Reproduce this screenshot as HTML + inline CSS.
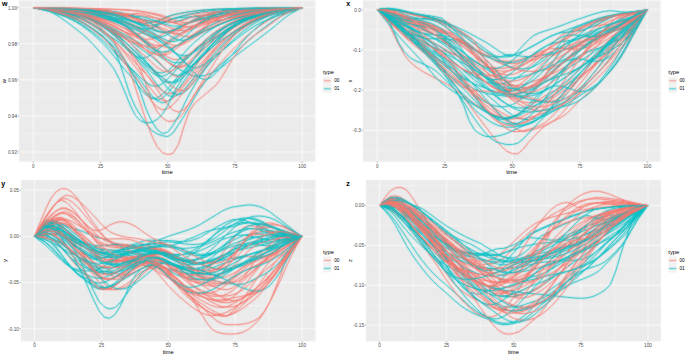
<!DOCTYPE html>
<html><head><meta charset="utf-8"><style>
html,body{margin:0;padding:0;background:#fff;width:685px;height:355px;overflow:hidden}
svg{display:block}
</style></head><body>
<svg width="685" height="355" viewBox="0 0 685 355">
<defs><filter id="bl" x="0" y="0" width="1" height="1" color-interpolation-filters="sRGB"><feConvolveMatrix order="3" kernelMatrix="1 2 1 2 14 2 1 2 1" divisor="26" edgeMode="duplicate" preserveAlpha="true"/></filter></defs>
<g filter="url(#bl)">
<rect width="685" height="355" fill="#fff"/>
<rect x="19.0" y="0.5" width="296.40" height="161.20" fill="#EBEBEB"/>
<line x1="19.0" x2="315.4" y1="25.73" y2="25.73" stroke="#fff" stroke-width="0.4"/>
<line x1="19.0" x2="315.4" y1="61.78" y2="61.78" stroke="#fff" stroke-width="0.4"/>
<line x1="19.0" x2="315.4" y1="97.83" y2="97.83" stroke="#fff" stroke-width="0.4"/>
<line x1="19.0" x2="315.4" y1="133.87" y2="133.87" stroke="#fff" stroke-width="0.4"/>
<line x1="66.91" x2="66.91" y1="0.5" y2="161.7" stroke="#fff" stroke-width="0.4"/>
<line x1="134.14" x2="134.14" y1="0.5" y2="161.7" stroke="#fff" stroke-width="0.4"/>
<line x1="201.36" x2="201.36" y1="0.5" y2="161.7" stroke="#fff" stroke-width="0.4"/>
<line x1="268.59" x2="268.59" y1="0.5" y2="161.7" stroke="#fff" stroke-width="0.4"/>
<line x1="19.0" x2="315.4" y1="7.70" y2="7.70" stroke="#fff" stroke-width="0.75"/>
<line x1="19.0" x2="315.4" y1="43.75" y2="43.75" stroke="#fff" stroke-width="0.75"/>
<line x1="19.0" x2="315.4" y1="79.80" y2="79.80" stroke="#fff" stroke-width="0.75"/>
<line x1="19.0" x2="315.4" y1="115.85" y2="115.85" stroke="#fff" stroke-width="0.75"/>
<line x1="19.0" x2="315.4" y1="151.90" y2="151.90" stroke="#fff" stroke-width="0.75"/>
<line x1="33.30" x2="33.30" y1="0.5" y2="161.7" stroke="#fff" stroke-width="0.75"/>
<line x1="100.52" x2="100.52" y1="0.5" y2="161.7" stroke="#fff" stroke-width="0.75"/>
<line x1="167.75" x2="167.75" y1="0.5" y2="161.7" stroke="#fff" stroke-width="0.75"/>
<line x1="234.98" x2="234.98" y1="0.5" y2="161.7" stroke="#fff" stroke-width="0.75"/>
<line x1="302.20" x2="302.20" y1="0.5" y2="161.7" stroke="#fff" stroke-width="0.75"/>
<g fill="none" stroke-width="1.0" stroke-linejoin="round">
<path d="M33.3,7.7 38.7,8.1 44.1,8.5 49.4,9.0 54.8,9.5 60.2,10.3 65.6,11.1 70.9,12.1 76.3,13.2 81.7,14.6 87.1,16.2 92.5,18.0 97.8,20.0 103.2,22.1 108.6,24.4 114.0,26.9 119.3,29.6 124.7,32.3 130.1,34.8 135.5,37.0 140.9,39.2 146.2,41.8 151.6,44.1 157.0,45.5 162.4,45.4 167.8,43.6 173.1,40.5 178.5,36.8 183.9,33.2 189.3,30.3 194.6,28.2 200.0,26.2 205.4,24.3 210.8,22.6 216.2,21.1 221.5,19.9 226.9,18.7 232.3,17.6 237.7,16.6 243.0,15.5 248.4,14.5 253.8,13.6 259.2,12.7 264.6,12.0 269.9,11.2 275.3,10.5 280.7,9.8 286.1,9.2 291.4,8.7 296.8,8.2 302.2,7.7" stroke="#F8766D"/>
<path d="M33.3,7.7 38.7,8.5 44.1,9.2 49.4,9.9 54.8,10.6 60.2,11.5 65.6,12.5 70.9,13.6 76.3,14.7 81.7,16.0 87.1,17.4 92.5,19.2 97.8,21.4 103.2,23.8 108.6,26.6 114.0,29.8 119.3,33.5 124.7,37.8 130.1,42.9 135.5,48.7 140.9,55.0 146.2,61.4 151.6,67.5 157.0,74.3 162.4,81.6 167.8,88.3 173.1,93.1 178.5,94.8 183.9,92.7 189.3,87.7 194.6,81.0 200.0,73.9 205.4,67.5 210.8,61.1 216.2,54.4 221.5,47.9 226.9,41.9 232.3,36.9 237.7,32.4 243.0,28.5 248.4,25.0 253.8,21.8 259.2,19.2 264.6,17.0 269.9,15.1 275.3,13.5 280.7,11.9 286.1,10.7 291.4,9.7 296.8,8.7 302.2,7.7" stroke="#00BFC4"/>
<path d="M33.3,7.7 38.7,8.7 44.1,9.6 49.4,10.6 54.8,11.8 60.2,13.4 65.6,15.1 70.9,16.9 76.3,19.1 81.7,21.6 87.1,24.8 92.5,28.3 97.8,32.2 103.2,36.5 108.6,41.4 114.0,46.9 119.3,53.4 124.7,60.4 130.1,67.5 135.5,74.3 140.9,80.9 146.2,88.4 151.6,95.4 157.0,100.7 162.4,103.0 167.8,101.3 173.1,96.2 178.5,89.1 183.9,81.1 189.3,73.5 194.6,66.8 200.0,59.8 205.4,52.9 210.8,46.5 216.2,40.9 221.5,36.1 226.9,32.1 232.3,28.5 237.7,25.3 243.0,22.5 248.4,20.1 253.8,18.0 259.2,16.3 264.6,14.8 269.9,13.4 275.3,12.1 280.7,11.0 286.1,10.1 291.4,9.3 296.8,8.5 302.2,7.7" stroke="#00BFC4"/>
<path d="M33.3,7.7 38.7,8.5 44.1,9.2 49.4,9.8 54.8,10.4 60.2,11.1 65.6,11.8 70.9,12.7 76.3,13.8 81.7,15.1 87.1,16.7 92.5,18.7 97.8,20.9 103.2,23.3 108.6,25.9 114.0,28.7 119.3,31.6 124.7,34.6 130.1,37.7 135.5,40.7 140.9,43.8 146.2,47.0 151.6,50.7 157.0,54.5 162.4,58.3 167.8,61.8 173.1,65.2 178.5,68.7 183.9,72.0 189.3,74.6 194.6,76.2 200.0,76.4 205.4,75.3 210.8,73.3 216.2,70.8 221.5,67.4 226.9,63.1 232.3,58.5 237.7,54.3 243.0,50.3 248.4,46.3 253.8,42.3 259.2,38.3 264.6,34.2 269.9,30.1 275.3,25.7 280.7,21.2 286.1,16.9 291.4,13.2 296.8,10.4 302.2,7.7" stroke="#00BFC4"/>
<path d="M33.3,7.7 38.7,8.0 44.1,8.2 49.4,8.4 54.8,8.7 60.2,9.0 65.6,9.3 70.9,9.7 76.3,10.2 81.7,10.8 87.1,11.5 92.5,12.5 97.8,13.8 103.2,15.3 108.6,17.1 114.0,19.3 119.3,21.9 124.7,25.0 130.1,28.6 135.5,32.4 140.9,36.5 146.2,40.4 151.6,44.3 157.0,48.7 162.4,53.3 167.8,57.1 173.1,59.4 178.5,59.6 183.9,57.5 189.3,54.1 194.6,50.0 200.0,46.2 205.4,43.2 210.8,39.9 216.2,36.5 221.5,33.1 226.9,29.8 232.3,26.9 237.7,24.2 243.0,21.7 248.4,19.3 253.8,17.1 259.2,15.2 264.6,13.6 269.9,12.3 275.3,11.1 280.7,10.1 286.1,9.3 291.4,8.7 296.8,8.2 302.2,7.7" stroke="#F8766D"/>
<path d="M33.3,7.7 38.7,7.9 44.1,8.0 49.4,8.2 54.8,8.4 60.2,8.7 65.6,9.0 70.9,9.4 76.3,10.0 81.7,10.6 87.1,11.5 92.5,12.6 97.8,14.0 103.2,15.8 108.6,18.0 114.0,20.5 119.3,23.2 124.7,26.4 130.1,30.4 135.5,34.5 140.9,37.7 146.2,39.4 151.6,39.0 157.0,37.1 162.4,34.4 167.8,31.7 173.1,29.5 178.5,27.5 183.9,25.4 189.3,23.3 194.6,21.3 200.0,19.5 205.4,18.0 210.8,16.6 216.2,15.3 221.5,14.2 226.9,13.3 232.3,12.4 237.7,11.6 243.0,11.0 248.4,10.5 253.8,10.0 259.2,9.7 264.6,9.3 269.9,9.0 275.3,8.7 280.7,8.5 286.1,8.3 291.4,8.1 296.8,7.9 302.2,7.7" stroke="#F8766D"/>
<path d="M33.3,7.7 38.7,8.2 44.1,8.6 49.4,9.1 54.8,9.9 60.2,11.3 65.6,13.4 70.9,15.9 76.3,18.8 81.7,22.1 87.1,25.7 92.5,29.2 97.8,32.4 103.2,36.3 108.6,41.6 114.0,49.2 119.3,61.6 124.7,78.3 130.1,95.0 135.5,107.3 140.9,115.9 146.2,123.9 151.6,130.3 157.0,133.8 162.4,135.7 167.8,136.6 173.1,132.9 178.5,124.6 183.9,116.2 189.3,107.3 194.6,97.6 200.0,88.8 205.4,81.5 210.8,74.9 216.2,69.0 221.5,63.9 226.9,59.4 232.3,55.0 237.7,50.4 243.0,45.6 248.4,40.8 253.8,36.0 259.2,31.5 264.6,27.3 269.9,23.3 275.3,19.7 280.7,16.4 286.1,13.6 291.4,11.4 296.8,9.6 302.2,7.7" stroke="#00BFC4"/>
<path d="M33.3,7.7 38.7,8.9 44.1,10.1 49.4,11.3 54.8,12.9 60.2,14.9 65.6,16.9 70.9,19.3 76.3,22.1 81.7,25.6 87.1,29.4 92.5,33.7 97.8,38.4 103.2,43.6 108.6,49.5 114.0,56.2 119.3,63.0 124.7,69.6 130.1,75.5 135.5,82.3 140.9,89.2 146.2,95.0 151.6,98.3 157.0,98.0 162.4,94.5 167.8,88.8 173.1,82.2 178.5,75.9 183.9,70.4 189.3,64.5 194.6,58.5 200.0,52.5 205.4,47.0 210.8,42.1 216.2,37.8 221.5,33.9 226.9,30.3 232.3,27.0 237.7,24.0 243.0,21.4 248.4,19.2 253.8,17.3 259.2,15.6 264.6,14.2 269.9,12.8 275.3,11.6 280.7,10.6 286.1,9.8 291.4,9.1 296.8,8.4 302.2,7.7" stroke="#00BFC4"/>
<path d="M33.3,7.7 38.7,8.5 44.1,9.1 49.4,9.8 54.8,10.6 60.2,11.5 65.6,12.6 70.9,13.8 76.3,15.1 81.7,16.7 87.1,18.6 92.5,21.0 97.8,23.7 103.2,26.8 108.6,30.3 114.0,34.4 119.3,39.0 124.7,44.5 130.1,50.7 135.5,57.2 140.9,63.7 146.2,69.9 151.6,77.0 157.0,84.4 162.4,90.9 167.8,95.5 173.1,96.8 178.5,94.6 183.9,89.8 189.3,83.4 194.6,76.8 200.0,71.0 205.4,64.8 210.8,58.2 216.2,51.6 221.5,45.5 226.9,40.2 232.3,35.4 237.7,31.1 243.0,27.2 248.4,23.8 253.8,20.7 259.2,18.3 264.6,16.2 269.9,14.4 275.3,12.9 280.7,11.5 286.1,10.4 291.4,9.5 296.8,8.6 302.2,7.7" stroke="#00BFC4"/>
<path d="M33.3,7.7 38.7,8.3 44.1,8.7 49.4,9.1 54.8,9.5 60.2,10.1 65.6,11.0 70.9,12.3 76.3,14.0 81.7,16.0 87.1,18.2 92.5,20.6 97.8,23.4 103.2,26.7 108.6,30.4 114.0,34.7 119.3,39.9 124.7,46.1 130.1,53.4 135.5,61.6 140.9,70.8 146.2,84.5 151.6,100.6 157.0,111.4 162.4,118.0 167.8,121.3 173.1,121.3 178.5,118.3 183.9,112.4 189.3,103.1 194.6,94.2 200.0,87.2 205.4,80.5 210.8,74.0 216.2,67.8 221.5,61.8 226.9,55.9 232.3,50.1 237.7,44.6 243.0,39.5 248.4,34.7 253.8,30.4 259.2,26.4 264.6,22.8 269.9,19.6 275.3,16.7 280.7,14.3 286.1,12.5 291.4,10.9 296.8,9.4 302.2,7.7" stroke="#F8766D"/>
<path d="M33.3,7.7 38.7,8.3 44.1,8.9 49.4,9.5 54.8,10.2 60.2,11.2 65.6,12.3 70.9,13.5 76.3,15.0 81.7,16.7 87.1,18.7 92.5,21.0 97.8,23.4 103.2,26.0 108.6,28.8 114.0,31.8 119.3,35.1 124.7,38.4 130.1,41.5 135.5,44.3 140.9,46.8 146.2,49.8 151.6,52.7 157.0,54.9 162.4,55.5 167.8,54.1 173.1,51.0 178.5,46.9 183.9,42.6 189.3,38.8 194.6,35.8 200.0,32.9 205.4,30.1 210.8,27.5 216.2,25.1 221.5,23.0 226.9,21.1 232.3,19.4 237.7,17.9 243.0,16.4 248.4,15.1 253.8,13.9 259.2,12.9 264.6,12.0 269.9,11.2 275.3,10.4 280.7,9.8 286.1,9.2 291.4,8.7 296.8,8.3 302.2,7.7" stroke="#F8766D"/>
<path d="M33.3,7.7 38.7,8.1 44.1,8.4 49.4,8.9 54.8,9.4 60.2,10.0 65.6,10.8 70.9,11.6 76.3,12.6 81.7,13.6 87.1,14.8 92.5,16.2 97.8,17.8 103.2,19.5 108.6,21.4 114.0,23.5 119.3,25.8 124.7,28.4 130.1,31.5 135.5,35.1 140.9,39.0 146.2,43.1 151.6,47.1 157.0,51.7 162.4,57.0 167.8,62.1 173.1,66.1 178.5,67.9 183.9,66.8 189.3,63.3 194.6,58.3 200.0,52.8 205.4,47.9 210.8,43.1 216.2,38.2 221.5,33.4 226.9,29.0 232.3,25.4 237.7,22.3 243.0,19.7 248.4,17.5 253.8,15.6 259.2,14.0 264.6,12.7 269.9,11.7 275.3,10.9 280.7,10.0 286.1,9.4 291.4,8.8 296.8,8.3 302.2,7.7" stroke="#F8766D"/>
<path d="M33.3,7.7 38.7,8.8 44.1,9.7 49.4,10.8 54.8,12.1 60.2,13.7 65.6,15.4 70.9,17.4 76.3,19.7 81.7,22.5 87.1,25.7 92.5,29.3 97.8,33.4 103.2,37.9 108.6,43.2 114.0,49.4 119.3,56.2 124.7,63.2 130.1,69.9 135.5,77.0 140.9,85.0 146.2,92.3 151.6,97.8 157.0,100.0 162.4,98.2 167.8,93.2 173.1,86.4 178.5,79.0 183.9,72.1 189.3,65.3 194.6,58.2 200.0,51.2 205.4,44.7 210.8,39.0 216.2,34.2 221.5,30.0 226.9,26.4 232.3,23.3 237.7,20.7 243.0,18.4 248.4,16.6 253.8,15.1 259.2,13.8 264.6,12.8 269.9,11.8 275.3,10.8 280.7,10.1 286.1,9.5 291.4,8.9 296.8,8.3 302.2,7.7" stroke="#00BFC4"/>
<path d="M33.3,7.7 38.7,8.1 44.1,8.4 49.4,8.8 54.8,9.4 60.2,10.1 65.6,10.8 70.9,11.7 76.3,12.9 81.7,14.1 87.1,15.5 92.5,17.1 97.8,19.1 103.2,21.2 108.6,23.4 114.0,25.6 119.3,28.5 124.7,31.6 130.1,33.9 135.5,34.7 140.9,33.3 146.2,30.6 151.6,27.3 157.0,24.3 162.4,22.1 167.8,20.3 173.1,18.6 178.5,17.2 183.9,15.9 189.3,14.8 194.6,14.0 200.0,13.2 205.4,12.6 210.8,12.1 216.2,11.6 221.5,11.1 226.9,10.7 232.3,10.3 237.7,10.0 243.0,9.7 248.4,9.4 253.8,9.2 259.2,8.9 264.6,8.7 269.9,8.5 275.3,8.3 280.7,8.2 286.1,8.1 291.4,7.9 296.8,7.8 302.2,7.7" stroke="#F8766D"/>
<path d="M33.3,7.7 38.7,8.0 44.1,8.2 49.4,8.5 54.8,9.0 60.2,9.5 65.6,10.0 70.9,10.7 76.3,11.4 81.7,12.2 87.1,13.0 92.5,13.8 97.8,14.7 103.2,15.6 108.6,16.6 114.0,17.6 119.3,18.5 124.7,19.4 130.1,20.8 135.5,22.7 140.9,24.4 146.2,25.4 151.6,25.4 157.0,24.2 162.4,22.3 167.8,20.4 173.1,18.8 178.5,17.9 183.9,17.3 189.3,16.8 194.6,16.3 200.0,15.8 205.4,15.3 210.8,14.9 216.2,14.5 221.5,14.0 226.9,13.6 232.3,13.0 237.7,12.5 243.0,11.9 248.4,11.4 253.8,10.9 259.2,10.5 264.6,10.0 269.9,9.6 275.3,9.2 280.7,8.8 286.1,8.5 291.4,8.2 296.8,8.0 302.2,7.7" stroke="#00BFC4"/>
<path d="M33.3,7.7 38.7,8.5 44.1,9.2 49.4,9.9 54.8,10.7 60.2,11.8 65.6,13.1 70.9,14.4 76.3,16.1 81.7,18.1 87.1,20.6 92.5,23.6 97.8,26.9 103.2,30.8 108.6,35.2 114.0,40.3 119.3,46.4 124.7,53.1 130.1,60.2 135.5,67.2 140.9,74.0 146.2,81.9 151.6,89.8 157.0,96.4 162.4,100.6 167.8,101.2 173.1,98.2 178.5,92.8 183.9,86.2 189.3,79.6 194.6,73.7 200.0,67.2 205.4,60.4 210.8,53.6 216.2,47.3 221.5,41.9 226.9,37.0 232.3,32.6 237.7,28.6 243.0,25.0 248.4,21.9 253.8,19.3 259.2,17.1 264.6,15.3 269.9,13.7 275.3,12.2 280.7,11.0 286.1,10.1 291.4,9.3 296.8,8.5 302.2,7.7" stroke="#F8766D"/>
<path d="M33.3,7.7 38.7,8.4 44.1,9.0 49.4,9.5 54.8,10.1 60.2,10.8 65.6,11.5 70.9,12.4 76.3,13.3 81.7,14.1 87.1,15.0 92.5,15.9 97.8,16.9 103.2,18.0 108.6,19.2 114.0,20.4 119.3,21.6 124.7,22.9 130.1,24.4 135.5,26.0 140.9,28.1 146.2,30.6 151.6,33.5 157.0,36.9 162.4,40.6 167.8,44.8 173.1,50.2 178.5,56.3 183.9,62.1 189.3,66.4 194.6,68.0 200.0,66.8 205.4,63.5 210.8,59.3 216.2,55.3 221.5,51.0 226.9,46.0 232.3,40.7 237.7,35.8 243.0,31.4 248.4,27.4 253.8,23.8 259.2,20.5 264.6,17.8 269.9,15.5 275.3,13.7 280.7,12.1 286.1,10.7 291.4,9.6 296.8,8.7 302.2,7.7" stroke="#00BFC4"/>
<path d="M33.3,7.7 38.7,8.0 44.1,8.3 49.4,8.5 54.8,8.9 60.2,9.4 65.6,9.9 70.9,10.5 76.3,11.2 81.7,12.2 87.1,13.3 92.5,14.5 97.8,15.9 103.2,17.5 108.6,19.3 114.0,21.4 119.3,23.6 124.7,25.8 130.1,27.9 135.5,29.9 140.9,32.4 146.2,34.9 151.6,36.9 157.0,37.6 162.4,36.7 167.8,34.4 173.1,31.2 178.5,27.9 183.9,25.0 189.3,23.0 194.6,21.3 200.0,19.8 205.4,18.6 210.8,17.5 216.2,16.6 221.5,15.9 226.9,15.3 232.3,14.7 237.7,14.1 243.0,13.5 248.4,12.9 253.8,12.3 259.2,11.7 264.6,11.2 269.9,10.6 275.3,10.0 280.7,9.5 286.1,9.0 291.4,8.6 296.8,8.2 302.2,7.7" stroke="#00BFC4"/>
<path d="M33.3,7.7 38.7,8.3 44.1,8.9 49.4,9.6 54.8,10.6 60.2,11.8 65.6,13.1 70.9,14.8 76.3,16.7 81.7,19.0 87.1,21.4 92.5,24.2 97.8,27.3 103.2,31.0 108.6,34.9 114.0,38.9 119.3,42.7 124.7,47.3 130.1,52.1 135.5,56.1 140.9,58.2 146.2,57.5 151.6,54.5 157.0,50.4 162.4,46.0 167.8,42.1 173.1,38.6 178.5,35.0 183.9,31.5 189.3,28.2 194.6,25.3 200.0,22.8 205.4,20.6 210.8,18.7 216.2,17.1 221.5,15.7 226.9,14.4 232.3,13.4 237.7,12.5 243.0,11.8 248.4,11.2 253.8,10.7 259.2,10.2 264.6,9.8 269.9,9.4 275.3,9.0 280.7,8.8 286.1,8.5 291.4,8.2 296.8,8.0 302.2,7.7" stroke="#00BFC4"/>
<path d="M33.3,7.7 38.7,8.9 44.1,10.1 49.4,11.3 54.8,12.8 60.2,14.6 65.6,16.5 70.9,18.7 76.3,21.2 81.7,24.4 87.1,28.0 92.5,31.9 97.8,36.3 103.2,41.0 108.6,46.1 114.0,51.9 119.3,57.7 124.7,63.0 130.1,67.7 135.5,72.5 140.9,77.8 146.2,82.5 151.6,85.7 157.0,86.2 162.4,83.7 167.8,79.0 173.1,73.2 178.5,67.2 183.9,61.9 189.3,56.6 194.6,51.0 200.0,45.4 205.4,40.1 210.8,35.4 216.2,31.4 221.5,28.0 226.9,25.1 232.3,22.6 237.7,20.5 243.0,18.7 248.4,17.2 253.8,16.0 259.2,14.9 264.6,13.9 269.9,12.9 275.3,11.8 280.7,11.0 286.1,10.2 291.4,9.4 296.8,8.6 302.2,7.7" stroke="#00BFC4"/>
<path d="M33.3,7.7 38.7,8.0 44.1,8.2 49.4,8.4 54.8,8.6 60.2,8.9 65.6,9.2 70.9,9.5 76.3,9.9 81.7,10.4 87.1,10.9 92.5,11.6 97.8,12.3 103.2,13.1 108.6,14.1 114.0,15.3 119.3,16.6 124.7,18.2 130.1,19.9 135.5,21.6 140.9,23.4 146.2,25.5 151.6,28.1 157.0,30.5 162.4,32.1 167.8,32.4 173.1,31.1 178.5,28.5 183.9,25.3 189.3,22.1 194.6,19.4 200.0,17.2 205.4,15.3 210.8,13.6 216.2,12.2 221.5,11.1 226.9,10.2 232.3,9.5 237.7,9.1 243.0,8.7 248.4,8.5 253.8,8.3 259.2,8.2 264.6,8.1 269.9,8.0 275.3,8.0 280.7,7.9 286.1,7.8 291.4,7.8 296.8,7.7 302.2,7.7" stroke="#00BFC4"/>
<path d="M33.3,7.7 38.7,8.1 44.1,8.4 49.4,8.7 54.8,9.0 60.2,9.4 65.6,10.0 70.9,10.5 76.3,11.1 81.7,11.7 87.1,12.4 92.5,13.3 97.8,14.3 103.2,15.4 108.6,16.6 114.0,17.9 119.3,19.4 124.7,21.2 130.1,23.2 135.5,25.5 140.9,27.9 146.2,30.4 151.6,33.0 157.0,36.4 162.4,40.0 167.8,43.2 173.1,45.2 178.5,45.5 183.9,43.9 189.3,40.9 194.6,37.4 200.0,34.1 205.4,31.3 210.8,28.6 216.2,25.9 221.5,23.2 226.9,20.9 232.3,18.8 237.7,17.1 243.0,15.5 248.4,14.1 253.8,12.9 259.2,11.8 264.6,11.0 269.9,10.3 275.3,9.7 280.7,9.1 286.1,8.7 291.4,8.3 296.8,8.0 302.2,7.7" stroke="#F8766D"/>
<path d="M33.3,7.7 38.7,8.2 44.1,8.7 49.4,9.2 54.8,9.7 60.2,10.4 65.6,11.1 70.9,12.0 76.3,12.8 81.7,13.7 87.1,14.7 92.5,15.8 97.8,17.0 103.2,18.4 108.6,19.7 114.0,21.2 119.3,22.7 124.7,24.4 130.1,26.4 135.5,28.6 140.9,31.1 146.2,33.8 151.6,36.6 157.0,39.5 162.4,43.2 167.8,47.4 173.1,51.5 178.5,54.7 183.9,55.9 189.3,54.7 194.6,51.9 200.0,48.0 205.4,44.0 210.8,40.6 216.2,37.0 221.5,33.1 226.9,29.3 232.3,25.8 237.7,22.8 243.0,20.2 248.4,17.8 253.8,15.7 259.2,13.9 264.6,12.5 269.9,11.4 275.3,10.4 280.7,9.6 286.1,9.0 291.4,8.5 296.8,8.1 302.2,7.7" stroke="#00BFC4"/>
<path d="M33.3,7.7 38.7,7.7 44.1,7.8 49.4,7.8 54.8,7.8 60.2,7.9 65.6,8.0 70.9,8.1 76.3,8.3 81.7,8.5 87.1,8.7 92.5,9.0 97.8,9.5 103.2,10.1 108.6,10.9 114.0,11.8 119.3,12.9 124.7,14.2 130.1,15.7 135.5,17.4 140.9,19.4 146.2,21.6 151.6,23.9 157.0,26.1 162.4,28.2 167.8,30.1 173.1,32.4 178.5,34.7 183.9,36.3 189.3,36.5 194.6,34.7 200.0,31.3 205.4,27.0 210.8,22.8 216.2,19.4 221.5,16.8 226.9,14.6 232.3,12.7 237.7,11.3 243.0,10.3 248.4,9.6 253.8,9.1 259.2,8.8 264.6,8.5 269.9,8.4 275.3,8.3 280.7,8.2 286.1,8.0 291.4,7.9 296.8,7.8 302.2,7.7" stroke="#F8766D"/>
<path d="M33.3,7.7 38.7,7.8 44.1,7.9 49.4,7.9 54.8,8.0 60.2,8.0 65.6,8.1 70.9,8.2 76.3,8.3 81.7,8.4 87.1,8.6 92.5,8.7 97.8,8.9 103.2,9.1 108.6,9.3 114.0,9.5 119.3,9.8 124.7,10.0 130.1,10.4 135.5,10.8 140.9,11.4 146.2,12.2 151.6,13.1 157.0,14.1 162.4,15.5 167.8,17.5 173.1,19.6 178.5,21.5 183.9,22.5 189.3,22.2 194.6,21.6 200.0,20.4 205.4,19.1 210.8,18.2 216.2,17.7 221.5,17.1 226.9,16.3 232.3,15.4 237.7,14.5 243.0,13.6 248.4,12.7 253.8,11.9 259.2,11.0 264.6,10.3 269.9,9.7 275.3,9.2 280.7,8.8 286.1,8.4 291.4,8.1 296.8,7.9 302.2,7.7" stroke="#F8766D"/>
<path d="M33.3,7.7 38.7,8.7 44.1,9.6 49.4,10.6 54.8,11.8 60.2,13.4 65.6,15.2 70.9,17.2 76.3,19.5 81.7,22.3 87.1,25.7 92.5,29.4 97.8,33.5 103.2,38.1 108.6,43.2 114.0,49.1 119.3,55.9 124.7,63.0 130.1,70.2 135.5,77.1 140.9,84.7 146.2,93.1 151.6,101.0 157.0,107.0 162.4,109.8 167.8,108.7 173.1,104.6 178.5,98.5 183.9,91.8 189.3,85.2 194.6,78.0 200.0,70.4 205.4,62.7 210.8,55.5 216.2,49.1 221.5,43.5 226.9,38.5 232.3,34.0 237.7,29.6 243.0,25.6 248.4,22.2 253.8,19.4 259.2,17.1 264.6,15.2 269.9,13.5 275.3,12.0 280.7,10.9 286.1,9.9 291.4,9.2 296.8,8.5 302.2,7.7" stroke="#F8766D"/>
<path d="M33.3,7.7 38.7,8.1 44.1,8.5 49.4,8.9 54.8,9.5 60.2,10.3 65.6,11.3 70.9,12.4 76.3,13.9 81.7,15.6 87.1,17.9 92.5,20.6 97.8,23.6 103.2,27.1 108.6,31.1 114.0,35.5 119.3,40.5 124.7,45.9 130.1,51.2 135.5,56.1 140.9,60.4 146.2,65.1 151.6,69.4 157.0,72.4 162.4,73.0 167.8,70.8 173.1,66.0 178.5,59.8 183.9,53.2 189.3,47.2 194.6,42.2 200.0,37.6 205.4,33.4 210.8,29.6 216.2,26.3 221.5,23.7 226.9,21.6 232.3,19.7 237.7,18.1 243.0,16.7 248.4,15.4 253.8,14.3 259.2,13.3 264.6,12.4 269.9,11.6 275.3,10.8 280.7,10.1 286.1,9.5 291.4,8.9 296.8,8.3 302.2,7.7" stroke="#00BFC4"/>
<path d="M33.3,7.7 38.7,8.3 44.1,8.8 49.4,9.3 54.8,10.1 60.2,11.3 65.6,12.8 70.9,14.6 76.3,16.7 81.7,19.1 87.1,22.1 92.5,25.4 97.8,29.0 103.2,33.1 108.6,37.9 114.0,43.8 119.3,50.9 124.7,59.4 130.1,69.1 135.5,79.8 140.9,93.7 146.2,109.3 151.6,121.2 157.0,129.3 162.4,133.6 167.8,132.1 173.1,125.2 178.5,115.9 183.9,105.0 189.3,94.2 194.6,85.1 200.0,76.5 205.4,68.8 210.8,62.3 216.2,56.6 221.5,51.5 226.9,46.8 232.3,42.3 237.7,38.0 243.0,33.9 248.4,30.1 253.8,26.6 259.2,23.5 264.6,20.9 269.9,18.6 275.3,16.6 280.7,14.7 286.1,13.0 291.4,11.3 296.8,9.5 302.2,7.7" stroke="#00BFC4"/>
<path d="M33.3,7.7 38.7,8.2 44.1,8.7 49.4,9.3 54.8,10.0 60.2,10.9 65.6,11.9 70.9,13.0 76.3,14.3 81.7,15.9 87.1,17.7 92.5,19.7 97.8,21.8 103.2,24.1 108.6,26.6 114.0,29.6 119.3,32.7 124.7,35.9 130.1,38.9 135.5,42.0 140.9,45.9 146.2,49.8 151.6,53.0 157.0,54.7 162.4,54.2 167.8,51.9 173.1,48.3 178.5,44.4 183.9,40.7 189.3,37.7 194.6,34.6 200.0,31.4 205.4,28.3 210.8,25.5 216.2,23.0 221.5,20.9 226.9,18.9 232.3,17.2 237.7,15.7 243.0,14.4 248.4,13.2 253.8,12.2 259.2,11.5 264.6,10.8 269.9,10.2 275.3,9.6 280.7,9.1 286.1,8.8 291.4,8.4 296.8,8.1 302.2,7.7" stroke="#F8766D"/>
<path d="M33.3,7.7 38.7,8.3 44.1,8.9 49.4,9.5 54.8,10.2 60.2,11.0 65.6,12.1 70.9,13.3 76.3,14.7 81.7,16.3 87.1,18.1 92.5,20.3 97.8,22.9 103.2,26.0 108.6,29.4 114.0,33.2 119.3,37.3 124.7,41.8 130.1,46.5 135.5,51.8 140.9,57.6 146.2,63.3 151.6,68.7 157.0,73.4 162.4,77.8 167.8,82.7 173.1,87.2 178.5,90.2 183.9,90.6 189.3,87.6 194.6,81.8 200.0,74.5 205.4,66.9 210.8,60.4 216.2,54.3 221.5,48.1 226.9,42.2 232.3,36.8 237.7,32.3 243.0,28.4 248.4,24.9 253.8,21.8 259.2,19.1 264.6,16.9 269.9,15.0 275.3,13.4 280.7,11.9 286.1,10.7 291.4,9.7 296.8,8.7 302.2,7.7" stroke="#F8766D"/>
<path d="M33.3,7.7 38.7,8.4 44.1,9.0 49.4,9.6 54.8,10.3 60.2,11.2 65.6,12.3 70.9,13.6 76.3,14.9 81.7,16.5 87.1,18.3 92.5,20.4 97.8,22.8 103.2,25.4 108.6,28.1 114.0,30.9 119.3,33.9 124.7,37.2 130.1,40.9 135.5,44.8 140.9,48.8 146.2,52.6 151.6,56.4 157.0,61.2 162.4,66.4 167.8,71.2 173.1,74.6 178.5,75.5 183.9,73.6 189.3,69.7 194.6,64.4 200.0,59.0 205.4,54.1 210.8,48.7 216.2,43.0 221.5,37.4 226.9,32.3 232.3,27.9 237.7,24.1 243.0,20.8 248.4,18.1 253.8,15.8 259.2,13.9 264.6,12.5 269.9,11.5 275.3,10.6 280.7,9.8 286.1,9.2 291.4,8.7 296.8,8.3 302.2,7.7" stroke="#00BFC4"/>
<path d="M33.3,7.7 38.7,8.2 44.1,8.7 49.4,9.2 54.8,9.8 60.2,10.4 65.6,11.2 70.9,12.1 76.3,13.1 81.7,14.2 87.1,15.5 92.5,17.0 97.8,18.9 103.2,20.9 108.6,23.3 114.0,25.9 119.3,28.8 124.7,32.2 130.1,36.2 135.5,40.6 140.9,45.4 146.2,50.3 151.6,55.0 157.0,60.0 162.4,65.7 167.8,71.2 173.1,75.3 178.5,77.1 183.9,75.7 189.3,71.7 194.6,66.1 200.0,60.0 205.4,54.5 210.8,49.1 216.2,43.6 221.5,38.1 226.9,33.1 232.3,28.8 237.7,25.2 243.0,21.9 248.4,19.2 253.8,16.8 259.2,14.8 264.6,13.2 269.9,12.0 275.3,10.9 280.7,10.0 286.1,9.3 291.4,8.7 296.8,8.2 302.2,7.7" stroke="#F8766D"/>
<path d="M33.3,7.7 38.7,8.0 44.1,8.3 49.4,8.5 54.8,8.9 60.2,9.3 65.6,9.8 70.9,10.2 76.3,10.8 81.7,11.4 87.1,12.0 92.5,12.7 97.8,13.2 103.2,13.8 108.6,14.2 114.0,14.7 119.3,15.1 124.7,15.5 130.1,15.8 135.5,16.1 140.9,16.6 146.2,17.7 151.6,19.4 157.0,21.0 162.4,22.3 167.8,22.8 173.1,22.2 178.5,20.9 183.9,19.3 189.3,17.8 194.6,16.7 200.0,15.8 205.4,14.9 210.8,13.8 216.2,12.8 221.5,11.9 226.9,11.1 232.3,10.4 237.7,9.8 243.0,9.3 248.4,8.9 253.8,8.5 259.2,8.3 264.6,8.2 269.9,8.1 275.3,8.0 280.7,7.9 286.1,7.9 291.4,7.8 296.8,7.8 302.2,7.7" stroke="#00BFC4"/>
<path d="M33.3,7.7 38.7,8.4 44.1,9.1 49.4,9.7 54.8,10.5 60.2,11.4 65.6,12.5 70.9,13.8 76.3,15.1 81.7,16.7 87.1,18.6 92.5,20.9 97.8,23.5 103.2,26.5 108.6,29.8 114.0,33.4 119.3,37.4 124.7,41.9 130.1,47.1 135.5,52.5 140.9,57.8 146.2,62.8 151.6,67.4 157.0,72.6 162.4,77.6 167.8,81.3 173.1,82.8 178.5,81.2 183.9,76.6 189.3,70.2 194.6,63.1 200.0,56.5 205.4,50.9 210.8,45.2 216.2,39.8 221.5,34.8 226.9,30.5 232.3,26.9 237.7,23.9 243.0,21.2 248.4,18.9 253.8,16.9 259.2,15.2 264.6,13.9 269.9,12.7 275.3,11.7 280.7,10.6 286.1,9.8 291.4,9.1 296.8,8.5 302.2,7.7" stroke="#00BFC4"/>
<path d="M33.3,7.7 38.7,7.9 44.1,8.1 49.4,8.4 54.8,8.6 60.2,8.8 65.6,9.1 70.9,9.3 76.3,9.5 81.7,9.7 87.1,9.9 92.5,10.2 97.8,10.4 103.2,10.7 108.6,11.1 114.0,11.6 119.3,12.4 124.7,13.4 130.1,14.8 135.5,16.6 140.9,18.7 146.2,21.1 151.6,23.8 157.0,26.8 162.4,30.5 167.8,34.4 173.1,37.8 178.5,40.0 183.9,40.3 189.3,38.9 194.6,36.3 200.0,33.3 205.4,30.6 210.8,28.5 216.2,26.3 221.5,24.0 226.9,21.9 232.3,19.9 237.7,18.2 243.0,16.6 248.4,15.2 253.8,13.8 259.2,12.5 264.6,11.5 269.9,10.7 275.3,9.9 280.7,9.2 286.1,8.7 291.4,8.3 296.8,8.0 302.2,7.7" stroke="#00BFC4"/>
<path d="M33.3,7.7 38.7,7.9 44.1,8.0 49.4,8.2 54.8,8.4 60.2,8.6 65.6,8.9 70.9,9.3 76.3,9.6 81.7,10.0 87.1,10.5 92.5,11.0 97.8,11.6 103.2,12.3 108.6,13.0 114.0,13.8 119.3,14.6 124.7,15.5 130.1,16.6 135.5,17.7 140.9,18.8 146.2,19.8 151.6,20.9 157.0,21.9 162.4,23.5 167.8,25.0 173.1,26.1 178.5,26.2 183.9,25.0 189.3,22.5 194.6,19.4 200.0,16.7 205.4,14.8 210.8,13.5 216.2,12.4 221.5,11.5 226.9,10.6 232.3,9.9 237.7,9.4 243.0,9.0 248.4,8.8 253.8,8.5 259.2,8.3 264.6,8.2 269.9,8.1 275.3,8.1 280.7,8.1 286.1,8.0 291.4,7.9 296.8,7.8 302.2,7.7" stroke="#00BFC4"/>
<path d="M33.3,7.7 38.7,8.0 44.1,8.2 49.4,8.4 54.8,8.7 60.2,9.0 65.6,9.3 70.9,9.5 76.3,9.7 81.7,9.9 87.1,10.0 92.5,10.1 97.8,10.1 103.2,10.6 108.6,11.4 114.0,12.3 119.3,13.4 124.7,14.7 130.1,16.6 135.5,18.9 140.9,21.0 146.2,22.4 151.6,22.4 157.0,21.2 162.4,19.3 167.8,17.1 173.1,15.2 178.5,13.9 183.9,12.9 189.3,12.0 194.6,11.2 200.0,10.5 205.4,10.0 210.8,9.5 216.2,9.2 221.5,8.9 226.9,8.7 232.3,8.6 237.7,8.4 243.0,8.3 248.4,8.2 253.8,8.1 259.2,8.0 264.6,8.0 269.9,7.9 275.3,7.9 280.7,7.8 286.1,7.8 291.4,7.8 296.8,7.7 302.2,7.7" stroke="#F8766D"/>
<path d="M33.3,7.7 38.7,7.8 44.1,7.8 49.4,7.9 54.8,8.0 60.2,8.1 65.6,8.4 70.9,8.8 76.3,9.3 81.7,10.0 87.1,10.7 92.5,11.6 97.8,12.8 103.2,14.2 108.6,15.7 114.0,17.4 119.3,19.2 124.7,21.2 130.1,23.9 135.5,26.5 140.9,28.4 146.2,29.0 151.6,28.0 157.0,25.8 162.4,23.1 167.8,20.5 173.1,18.5 178.5,16.9 183.9,15.5 189.3,14.2 194.6,13.1 200.0,12.1 205.4,11.3 210.8,10.7 216.2,10.1 221.5,9.7 226.9,9.3 232.3,9.0 237.7,8.7 243.0,8.5 248.4,8.3 253.8,8.2 259.2,8.1 264.6,8.0 269.9,8.0 275.3,7.9 280.7,7.9 286.1,7.8 291.4,7.8 296.8,7.8 302.2,7.7" stroke="#00BFC4"/>
<path d="M33.3,7.7 38.7,7.9 44.1,8.0 49.4,8.2 54.8,8.4 60.2,8.6 65.6,8.7 70.9,8.9 76.3,9.1 81.7,9.4 87.1,9.7 92.5,10.1 97.8,10.8 103.2,11.7 108.6,12.8 114.0,14.1 119.3,15.6 124.7,17.2 130.1,19.4 135.5,21.6 140.9,23.2 146.2,23.5 151.6,22.2 157.0,20.7 162.4,18.7 167.8,16.5 173.1,14.8 178.5,13.6 183.9,12.6 189.3,11.7 194.6,11.0 200.0,10.3 205.4,9.8 210.8,9.4 216.2,9.1 221.5,8.9 226.9,8.7 232.3,8.5 237.7,8.4 243.0,8.2 248.4,8.2 253.8,8.1 259.2,8.0 264.6,8.0 269.9,7.9 275.3,7.9 280.7,7.8 286.1,7.8 291.4,7.8 296.8,7.7 302.2,7.7" stroke="#00BFC4"/>
<path d="M33.3,7.7 38.7,7.9 44.1,8.1 49.4,8.3 54.8,8.6 60.2,8.9 65.6,9.3 70.9,9.7 76.3,10.1 81.7,10.6 87.1,11.2 92.5,11.9 97.8,12.7 103.2,13.5 108.6,14.4 114.0,15.4 119.3,16.5 124.7,17.8 130.1,19.2 135.5,20.8 140.9,22.5 146.2,24.3 151.6,25.9 157.0,27.8 162.4,30.2 167.8,32.3 173.1,33.7 178.5,33.8 183.9,32.1 189.3,29.1 194.6,25.6 200.0,22.0 205.4,19.3 210.8,17.1 216.2,15.3 221.5,13.9 226.9,12.8 232.3,12.0 237.7,11.4 243.0,11.1 248.4,10.8 253.8,10.6 259.2,10.3 264.6,10.1 269.9,9.9 275.3,9.6 280.7,9.2 286.1,8.9 291.4,8.5 296.8,8.2 302.2,7.7" stroke="#F8766D"/>
<path d="M33.3,7.7 38.7,8.0 44.1,8.2 49.4,8.5 54.8,8.8 60.2,9.2 65.6,9.7 70.9,10.2 76.3,10.9 81.7,11.7 87.1,12.6 92.5,13.7 97.8,14.8 103.2,16.0 108.6,17.4 114.0,19.0 119.3,20.8 124.7,22.9 130.1,25.2 135.5,27.8 140.9,30.6 146.2,34.1 151.6,38.3 157.0,42.5 162.4,46.0 167.8,47.8 173.1,47.3 178.5,44.9 183.9,41.3 189.3,37.1 194.6,33.3 200.0,29.8 205.4,26.3 210.8,23.0 216.2,20.1 221.5,17.7 226.9,15.8 232.3,14.3 237.7,13.2 243.0,12.3 248.4,11.5 253.8,10.9 259.2,10.4 264.6,10.0 269.9,9.6 275.3,9.2 280.7,8.9 286.1,8.6 291.4,8.3 296.8,8.0 302.2,7.7" stroke="#F8766D"/>
<path d="M33.3,7.7 38.7,7.9 44.1,8.1 49.4,8.3 54.8,8.7 60.2,9.5 65.6,10.7 70.9,12.3 76.3,14.1 81.7,16.2 87.1,18.5 92.5,21.4 97.8,25.3 103.2,29.9 108.6,35.3 114.0,41.9 119.3,50.3 124.7,60.1 130.1,72.0 135.5,88.1 140.9,105.0 146.2,120.8 151.6,135.2 157.0,146.5 162.4,152.6 167.8,154.6 173.1,153.3 178.5,144.3 183.9,126.7 189.3,111.4 194.6,103.4 200.0,98.7 205.4,94.2 210.8,89.7 216.2,84.9 221.5,77.5 226.9,68.5 232.3,59.5 237.7,51.8 243.0,45.4 248.4,40.1 253.8,35.8 259.2,32.1 264.6,28.5 269.9,24.7 275.3,20.6 280.7,16.5 286.1,13.1 291.4,10.8 296.8,9.3 302.2,7.7" stroke="#F8766D"/>
<path d="M33.3,7.7 38.7,8.2 44.1,8.6 49.4,9.0 54.8,9.5 60.2,10.1 65.6,10.8 70.9,11.5 76.3,12.4 81.7,13.3 87.1,14.4 92.5,15.7 97.8,17.2 103.2,19.0 108.6,20.9 114.0,23.1 119.3,25.7 124.7,28.6 130.1,31.9 135.5,35.8 140.9,40.0 146.2,44.3 151.6,48.4 157.0,52.5 162.4,57.2 167.8,61.8 173.1,65.3 178.5,66.8 183.9,65.4 189.3,61.5 194.6,56.0 200.0,49.9 205.4,44.3 210.8,39.5 216.2,34.8 221.5,30.4 226.9,26.5 232.3,23.3 237.7,20.6 243.0,18.5 248.4,16.6 253.8,15.1 259.2,13.7 264.6,12.6 269.9,11.7 275.3,11.0 280.7,10.2 286.1,9.5 291.4,8.9 296.8,8.4 302.2,7.7" stroke="#F8766D"/>
<path d="M33.3,7.7 38.7,7.9 44.1,8.1 49.4,8.4 54.8,8.7 60.2,9.1 65.6,9.7 70.9,10.3 76.3,10.9 81.7,11.6 87.1,12.4 92.5,13.2 97.8,13.9 103.2,14.5 108.6,14.9 114.0,15.1 119.3,15.1 124.7,14.8 130.1,14.3 135.5,13.5 140.9,13.5 146.2,14.7 151.6,16.4 157.0,18.5 162.4,20.5 167.8,22.1 173.1,22.6 178.5,21.8 183.9,20.1 189.3,18.0 194.6,15.9 200.0,15.3 205.4,15.3 210.8,15.2 216.2,14.6 221.5,13.9 226.9,13.0 232.3,12.0 237.7,11.1 243.0,10.3 248.4,9.5 253.8,8.8 259.2,8.2 264.6,8.1 269.9,8.1 275.3,8.0 280.7,7.9 286.1,7.8 291.4,7.8 296.8,7.8 302.2,7.7" stroke="#F8766D"/>
<path d="M33.3,7.7 38.7,8.1 44.1,8.5 49.4,8.8 54.8,9.2 60.2,9.5 65.6,10.0 70.9,10.5 76.3,11.1 81.7,11.9 87.1,12.7 92.5,13.6 97.8,14.7 103.2,15.8 108.6,17.1 114.0,18.6 119.3,20.3 124.7,22.3 130.1,24.4 135.5,26.8 140.9,29.3 146.2,32.0 151.6,35.1 157.0,38.5 162.4,42.5 167.8,46.9 173.1,51.5 178.5,56.1 183.9,61.0 189.3,67.1 194.6,73.2 200.0,78.1 205.4,79.8 210.8,77.6 216.2,72.6 221.5,66.3 226.9,60.5 232.3,54.5 237.7,47.8 243.0,41.1 248.4,35.3 253.8,30.2 259.2,25.6 264.6,21.5 269.9,18.1 275.3,15.4 280.7,13.2 286.1,11.3 291.4,9.9 296.8,8.8 302.2,7.7" stroke="#00BFC4"/>
<path d="M33.3,7.7 38.7,8.0 44.1,8.3 49.4,8.6 54.8,8.9 60.2,9.3 65.6,9.8 70.9,10.3 76.3,10.9 81.7,11.6 87.1,12.4 92.5,13.5 97.8,14.8 103.2,16.3 108.6,18.1 114.0,20.3 119.3,22.8 124.7,25.8 130.1,29.4 135.5,33.4 140.9,37.6 146.2,41.9 151.6,46.0 157.0,50.7 162.4,55.5 167.8,59.7 173.1,62.4 178.5,62.8 183.9,60.5 189.3,56.3 194.6,51.2 200.0,46.1 205.4,41.9 210.8,37.8 216.2,33.7 221.5,29.9 226.9,26.4 232.3,23.4 237.7,20.9 243.0,18.6 248.4,16.6 253.8,14.8 259.2,13.2 264.6,12.0 269.9,11.0 275.3,10.2 280.7,9.4 286.1,8.8 291.4,8.4 296.8,8.0 302.2,7.7" stroke="#00BFC4"/>
<path d="M33.3,7.7 38.7,7.9 44.1,8.1 49.4,8.3 54.8,8.5 60.2,8.7 65.6,9.0 70.9,9.3 76.3,9.6 81.7,9.9 87.1,10.3 92.5,10.7 97.8,11.1 103.2,11.6 108.6,12.0 114.0,12.5 119.3,13.0 124.7,13.5 130.1,14.1 135.5,14.8 140.9,15.6 146.2,16.4 151.6,17.3 157.0,18.2 162.4,19.4 167.8,21.1 173.1,22.8 178.5,24.0 183.9,24.1 189.3,22.8 194.6,20.4 200.0,18.2 205.4,15.9 210.8,14.3 216.2,13.0 221.5,11.9 226.9,11.0 232.3,10.3 237.7,9.6 243.0,9.2 248.4,8.9 253.8,8.6 259.2,8.4 264.6,8.2 269.9,8.1 275.3,8.0 280.7,7.9 286.1,7.9 291.4,7.8 296.8,7.8 302.2,7.7" stroke="#F8766D"/>
<path d="M33.3,7.7 38.7,8.4 44.1,9.0 49.4,9.6 54.8,10.4 60.2,11.4 65.6,12.4 70.9,13.6 76.3,15.1 81.7,16.8 87.1,18.9 92.5,21.2 97.8,23.9 103.2,27.0 108.6,30.6 114.0,34.8 119.3,39.7 124.7,44.8 130.1,50.0 135.5,55.1 140.9,61.0 146.2,67.1 151.6,72.4 157.0,75.9 162.4,76.4 167.8,74.1 173.1,69.8 178.5,64.4 183.9,59.1 189.3,54.5 194.6,49.9 200.0,45.1 205.4,40.4 210.8,36.1 216.2,32.3 221.5,29.1 226.9,26.2 232.3,23.7 237.7,21.4 243.0,19.3 248.4,17.5 253.8,15.9 259.2,14.6 264.6,13.4 269.9,12.4 275.3,11.3 280.7,10.4 286.1,9.7 291.4,9.1 296.8,8.4 302.2,7.7" stroke="#00BFC4"/>
<path d="M33.3,7.7 38.7,8.3 44.1,8.8 49.4,9.3 54.8,9.9 60.2,10.7 65.6,11.6 70.9,12.5 76.3,13.6 81.7,15.0 87.1,16.7 92.5,18.7 97.8,20.9 103.2,23.5 108.6,26.5 114.0,29.8 119.3,33.8 124.7,38.2 130.1,43.0 135.5,47.8 140.9,52.4 146.2,57.2 151.6,62.4 157.0,67.3 162.4,70.8 167.8,72.0 173.1,70.2 178.5,66.1 183.9,60.6 189.3,54.8 194.6,49.5 200.0,44.8 205.4,40.1 210.8,35.5 216.2,31.3 221.5,27.7 226.9,24.6 232.3,22.0 237.7,19.7 243.0,17.7 248.4,16.0 253.8,14.5 259.2,13.2 264.6,12.2 269.9,11.3 275.3,10.5 280.7,9.8 286.1,9.2 291.4,8.7 296.8,8.2 302.2,7.7" stroke="#F8766D"/>
<path d="M33.3,7.7 38.7,8.6 44.1,9.5 49.4,10.3 54.8,11.4 60.2,12.6 65.6,14.2 70.9,15.8 76.3,17.6 81.7,19.7 87.1,22.3 92.5,25.3 97.8,28.6 103.2,32.3 108.6,36.3 114.0,40.7 119.3,45.6 124.7,51.2 130.1,57.3 135.5,63.3 140.9,69.0 146.2,74.2 151.6,80.1 157.0,86.1 162.4,91.0 167.8,93.8 173.1,93.4 178.5,89.8 183.9,83.9 189.3,77.1 194.6,70.3 200.0,64.5 205.4,58.6 210.8,52.5 216.2,46.6 221.5,41.2 226.9,36.6 232.3,32.5 237.7,28.8 243.0,25.5 248.4,22.6 253.8,19.9 259.2,17.7 264.6,15.9 269.9,14.3 275.3,12.8 280.7,11.5 286.1,10.4 291.4,9.5 296.8,8.6 302.2,7.7" stroke="#F8766D"/>
<path d="M33.3,7.7 38.7,8.3 44.1,8.8 49.4,9.4 54.8,10.0 60.2,10.8 65.6,11.8 70.9,13.0 76.3,14.3 81.7,15.8 87.1,17.7 92.5,20.0 97.8,22.8 103.2,26.1 108.6,29.8 114.0,34.1 119.3,39.0 124.7,44.5 130.1,51.0 135.5,58.3 140.9,66.2 146.2,74.0 151.6,81.5 157.0,89.1 162.4,97.3 167.8,104.8 173.1,110.2 178.5,112.2 183.9,109.6 189.3,103.4 194.6,94.8 200.0,85.5 205.4,76.9 210.8,68.5 216.2,59.9 221.5,51.5 226.9,44.0 232.3,37.6 237.7,32.2 243.0,27.6 248.4,23.6 253.8,20.2 259.2,17.5 264.6,15.3 269.9,13.6 275.3,12.2 280.7,10.9 286.1,9.9 291.4,9.2 296.8,8.5 302.2,7.7" stroke="#F8766D"/>
<path d="M33.3,7.7 38.7,7.9 44.1,8.1 49.4,8.2 54.8,8.4 60.2,8.7 65.6,8.9 70.9,9.1 76.3,9.4 81.7,9.7 87.1,10.1 92.5,10.4 97.8,10.8 103.2,11.3 108.6,12.0 114.0,12.9 119.3,14.0 124.7,15.3 130.1,17.0 135.5,19.0 140.9,21.7 146.2,25.1 151.6,28.5 157.0,31.3 162.4,32.8 167.8,32.8 173.1,31.7 178.5,30.0 183.9,28.1 189.3,26.6 194.6,25.2 200.0,23.6 205.4,21.9 210.8,20.2 216.2,18.6 221.5,17.2 226.9,15.9 232.3,14.7 237.7,13.6 243.0,12.6 248.4,11.6 253.8,10.9 259.2,10.3 264.6,9.8 269.9,9.3 275.3,8.9 280.7,8.6 286.1,8.3 291.4,8.1 296.8,7.9 302.2,7.7" stroke="#F8766D"/>
<path d="M33.3,7.7 38.7,8.0 44.1,8.3 49.4,8.6 54.8,8.9 60.2,9.3 65.6,9.7 70.9,10.2 76.3,10.6 81.7,11.1 87.1,11.6 92.5,12.2 97.8,12.8 103.2,13.5 108.6,14.1 114.0,14.8 119.3,15.5 124.7,16.3 130.1,17.2 135.5,18.2 140.9,19.3 146.2,20.4 151.6,21.6 157.0,22.9 162.4,24.6 167.8,26.7 173.1,28.8 178.5,30.3 183.9,30.6 189.3,29.4 194.6,27.1 200.0,24.2 205.4,21.5 210.8,19.5 216.2,17.8 221.5,16.3 226.9,15.0 232.3,13.8 237.7,12.8 243.0,12.1 248.4,11.4 253.8,10.9 259.2,10.3 264.6,9.9 269.9,9.5 275.3,9.2 280.7,8.8 286.1,8.5 291.4,8.3 296.8,8.0 302.2,7.7" stroke="#F8766D"/>
<path d="M33.3,7.7 38.7,7.9 44.1,8.2 49.4,8.3 54.8,8.5 60.2,8.7 65.6,9.0 70.9,9.2 76.3,9.5 81.7,9.7 87.1,10.1 92.5,10.6 97.8,11.2 103.2,12.0 108.6,13.0 114.0,14.2 119.3,15.8 124.7,17.8 130.1,20.2 135.5,23.0 140.9,25.9 146.2,28.8 151.6,31.7 157.0,35.1 162.4,38.3 167.8,40.8 173.1,41.7 178.5,40.4 183.9,37.2 189.3,32.7 194.6,27.9 200.0,23.5 205.4,20.0 210.8,17.1 216.2,14.6 221.5,12.7 226.9,11.2 232.3,10.2 237.7,9.5 243.0,9.1 248.4,8.8 253.8,8.6 259.2,8.4 264.6,8.3 269.9,8.2 275.3,8.2 280.7,8.0 286.1,7.9 291.4,7.8 296.8,7.8 302.2,7.7" stroke="#00BFC4"/>
<path d="M33.3,7.7 38.7,7.8 44.1,7.8 49.4,7.9 54.8,8.0 60.2,8.2 65.6,8.5 70.9,8.8 76.3,9.2 81.7,9.8 87.1,10.6 92.5,11.6 97.8,12.9 103.2,14.5 108.6,16.5 114.0,19.1 119.3,22.1 124.7,25.5 130.1,29.3 135.5,33.3 140.9,38.3 146.2,43.4 151.6,48.1 157.0,51.3 162.4,52.2 167.8,51.0 173.1,48.2 178.5,44.7 183.9,41.1 189.3,38.1 194.6,34.9 200.0,31.6 205.4,28.3 210.8,25.2 216.2,22.5 221.5,20.2 226.9,18.1 232.3,16.3 237.7,14.7 243.0,13.3 248.4,12.1 253.8,11.2 259.2,10.4 264.6,9.8 269.9,9.3 275.3,8.8 280.7,8.5 286.1,8.2 291.4,8.0 296.8,7.8 302.2,7.7" stroke="#00BFC4"/>
<path d="M33.3,7.7 38.7,8.7 44.1,9.6 49.4,11.3 54.8,14.0 60.2,17.4 65.6,21.2 70.9,25.1 76.3,29.2 81.7,33.6 87.1,38.3 92.5,43.7 97.8,49.7 103.2,55.8 108.6,61.8 114.0,69.0 119.3,79.2 124.7,91.7 130.1,105.0 135.5,115.7 140.9,121.0 146.2,123.0 151.6,122.4 157.0,119.5 162.4,114.2 167.8,105.5 173.1,94.2 178.5,84.6 183.9,76.2 189.3,69.5 194.6,63.5 200.0,58.2 205.4,53.2 210.8,48.5 216.2,44.1 221.5,40.1 226.9,36.5 232.3,33.0 237.7,29.8 243.0,26.7 248.4,23.9 253.8,21.3 259.2,18.9 264.6,16.8 269.9,14.8 275.3,13.1 280.7,11.7 286.1,10.6 291.4,9.6 296.8,8.7 302.2,7.7" stroke="#00BFC4"/>
<path d="M33.3,7.7 38.7,8.2 44.1,8.8 49.4,9.3 54.8,9.9 60.2,10.8 65.6,11.8 70.9,12.9 76.3,14.2 81.7,15.7 87.1,17.6 92.5,19.8 97.8,22.3 103.2,25.2 108.6,28.4 114.0,32.1 119.3,36.4 124.7,41.3 130.1,46.6 135.5,52.0 140.9,57.3 146.2,63.0 151.6,69.3 157.0,75.5 162.4,80.4 167.8,82.9 173.1,82.2 178.5,78.9 183.9,73.8 189.3,68.0 194.6,62.6 200.0,57.5 205.4,52.0 210.8,46.3 216.2,40.8 221.5,35.9 226.9,31.6 232.3,27.8 237.7,24.4 243.0,21.4 248.4,18.8 253.8,16.5 259.2,14.7 264.6,13.3 269.9,12.1 275.3,11.0 280.7,10.0 286.1,9.3 291.4,8.8 296.8,8.3 302.2,7.7" stroke="#00BFC4"/>
<path d="M33.3,7.7 38.7,7.7 44.1,7.8 49.4,7.8 54.8,7.9 60.2,8.0 65.6,8.2 70.9,8.5 76.3,8.9 81.7,9.3 87.1,10.0 92.5,10.8 97.8,11.7 103.2,12.8 108.6,14.1 114.0,15.6 119.3,17.4 124.7,19.3 130.1,21.2 135.5,23.1 140.9,24.9 146.2,27.1 151.6,29.5 157.0,31.4 162.4,32.4 167.8,32.0 173.1,30.3 178.5,27.7 183.9,24.8 189.3,22.2 194.6,20.4 200.0,18.8 205.4,17.4 210.8,16.0 216.2,14.8 221.5,13.6 226.9,12.7 232.3,11.8 237.7,11.0 243.0,10.3 248.4,9.7 253.8,9.2 259.2,8.8 264.6,8.5 269.9,8.3 275.3,8.1 280.7,8.0 286.1,7.9 291.4,7.8 296.8,7.8 302.2,7.7" stroke="#00BFC4"/>
<path d="M33.3,7.7 38.7,7.7 44.1,7.8 49.4,7.8 54.8,7.8 60.2,7.9 65.6,7.9 70.9,8.0 76.3,8.1 81.7,8.2 87.1,8.3 92.5,8.4 97.8,8.6 103.2,8.8 108.6,9.0 114.0,9.2 119.3,9.4 124.7,9.7 130.1,10.2 135.5,10.7 140.9,11.5 146.2,12.6 151.6,13.8 157.0,15.2 162.4,16.8 167.8,19.2 173.1,21.8 178.5,24.3 183.9,26.1 189.3,26.7 194.6,26.0 200.0,24.6 205.4,22.9 210.8,21.6 216.2,20.8 221.5,19.8 226.9,18.7 232.3,17.5 237.7,16.4 243.0,15.3 248.4,14.2 253.8,13.2 259.2,12.1 264.6,11.2 269.9,10.5 275.3,9.8 280.7,9.2 286.1,8.7 291.4,8.3 296.8,8.0 302.2,7.7" stroke="#F8766D"/>
<path d="M33.3,7.7 38.7,8.2 44.1,8.6 49.4,9.1 54.8,9.8 60.2,10.8 65.6,11.8 70.9,13.1 76.3,14.5 81.7,16.3 87.1,18.5 92.5,20.8 97.8,23.4 103.2,26.2 108.6,29.1 114.0,32.1 119.3,35.4 124.7,38.5 130.1,41.1 135.5,43.0 140.9,44.6 146.2,46.3 151.6,47.4 157.0,47.3 162.4,45.4 167.8,41.5 173.1,36.5 178.5,31.1 183.9,26.1 189.3,22.0 194.6,19.0 200.0,16.6 205.4,14.7 210.8,13.3 216.2,12.3 221.5,11.6 226.9,11.1 232.3,10.8 237.7,10.6 243.0,10.4 248.4,10.2 253.8,10.0 259.2,9.8 264.6,9.6 269.9,9.3 275.3,9.0 280.7,8.8 286.1,8.5 291.4,8.3 296.8,8.0 302.2,7.7" stroke="#F8766D"/>
</g>
<line x1="17.60" x2="19.0" y1="7.70" y2="7.70" stroke="#333" stroke-width="0.5"/>
<line x1="17.60" x2="19.0" y1="43.75" y2="43.75" stroke="#333" stroke-width="0.5"/>
<line x1="17.60" x2="19.0" y1="79.80" y2="79.80" stroke="#333" stroke-width="0.5"/>
<line x1="17.60" x2="19.0" y1="115.85" y2="115.85" stroke="#333" stroke-width="0.5"/>
<line x1="17.60" x2="19.0" y1="151.90" y2="151.90" stroke="#333" stroke-width="0.5"/>
<line x1="33.30" x2="33.30" y1="161.7" y2="163.10" stroke="#333" stroke-width="0.5"/>
<line x1="100.52" x2="100.52" y1="161.7" y2="163.10" stroke="#333" stroke-width="0.5"/>
<line x1="167.75" x2="167.75" y1="161.7" y2="163.10" stroke="#333" stroke-width="0.5"/>
<line x1="234.98" x2="234.98" y1="161.7" y2="163.10" stroke="#333" stroke-width="0.5"/>
<line x1="302.20" x2="302.20" y1="161.7" y2="163.10" stroke="#333" stroke-width="0.5"/>
<rect x="323.00" y="76.80" width="8.6" height="16.0" fill="#F2F2F2"/>
<line x1="323.80" x2="330.80" y1="80.80" y2="80.80" stroke="#F8766D" stroke-width="0.9"/>
<line x1="323.80" x2="330.80" y1="88.80" y2="88.80" stroke="#00BFC4" stroke-width="0.9"/>
<rect x="362.9" y="0.5" width="297.60" height="161.20" fill="#EBEBEB"/>
<line x1="362.9" x2="660.5" y1="29.88" y2="29.88" stroke="#fff" stroke-width="0.4"/>
<line x1="362.9" x2="660.5" y1="70.05" y2="70.05" stroke="#fff" stroke-width="0.4"/>
<line x1="362.9" x2="660.5" y1="110.22" y2="110.22" stroke="#fff" stroke-width="0.4"/>
<line x1="362.9" x2="660.5" y1="150.38" y2="150.38" stroke="#fff" stroke-width="0.4"/>
<line x1="411.06" x2="411.06" y1="0.5" y2="161.7" stroke="#fff" stroke-width="0.4"/>
<line x1="478.59" x2="478.59" y1="0.5" y2="161.7" stroke="#fff" stroke-width="0.4"/>
<line x1="546.11" x2="546.11" y1="0.5" y2="161.7" stroke="#fff" stroke-width="0.4"/>
<line x1="613.64" x2="613.64" y1="0.5" y2="161.7" stroke="#fff" stroke-width="0.4"/>
<line x1="362.9" x2="660.5" y1="9.80" y2="9.80" stroke="#fff" stroke-width="0.75"/>
<line x1="362.9" x2="660.5" y1="49.97" y2="49.97" stroke="#fff" stroke-width="0.75"/>
<line x1="362.9" x2="660.5" y1="90.13" y2="90.13" stroke="#fff" stroke-width="0.75"/>
<line x1="362.9" x2="660.5" y1="130.30" y2="130.30" stroke="#fff" stroke-width="0.75"/>
<line x1="377.30" x2="377.30" y1="0.5" y2="161.7" stroke="#fff" stroke-width="0.75"/>
<line x1="444.82" x2="444.82" y1="0.5" y2="161.7" stroke="#fff" stroke-width="0.75"/>
<line x1="512.35" x2="512.35" y1="0.5" y2="161.7" stroke="#fff" stroke-width="0.75"/>
<line x1="579.88" x2="579.88" y1="0.5" y2="161.7" stroke="#fff" stroke-width="0.75"/>
<line x1="647.40" x2="647.40" y1="0.5" y2="161.7" stroke="#fff" stroke-width="0.75"/>
<g fill="none" stroke-width="1.0" stroke-linejoin="round">
<path d="M377.3,9.8 382.7,15.1 388.1,20.5 393.5,25.9 398.9,31.2 404.3,36.4 409.7,41.3 415.1,45.9 420.5,50.2 425.9,54.2 431.3,58.1 436.7,62.0 442.1,66.1 447.5,70.4 452.9,75.0 458.3,80.1 463.7,85.7 469.1,91.5 474.5,97.3 479.9,102.9 485.3,108.1 490.7,112.6 496.1,116.0 501.5,117.9 506.9,118.1 512.4,116.6 517.8,114.0 523.2,110.6 528.6,106.8 534.0,103.0 539.4,99.3 544.8,95.9 550.2,92.8 555.6,90.0 561.0,87.4 566.4,84.6 571.8,81.6 577.2,78.2 582.6,74.3 588.0,70.1 593.4,65.6 598.8,60.6 604.2,55.4 609.6,50.1 615.0,44.7 620.4,39.2 625.8,33.5 631.2,27.6 636.6,21.7 642.0,15.7 647.4,9.8" stroke="#F8766D"/>
<path d="M377.3,9.8 382.7,13.0 388.1,16.6 393.5,20.6 398.9,24.9 404.3,29.6 409.7,34.3 415.1,38.9 420.5,43.3 425.9,47.8 431.3,52.3 436.7,57.1 442.1,62.1 447.5,67.4 452.9,72.5 458.3,77.5 463.7,82.0 469.1,86.0 474.5,89.2 479.9,91.4 485.3,92.9 490.7,94.1 496.1,95.0 501.5,95.7 506.9,96.4 512.4,96.8 517.8,96.9 523.2,96.8 528.6,96.3 534.0,95.3 539.4,93.5 544.8,91.0 550.2,87.7 555.6,83.9 561.0,80.2 566.4,76.5 571.8,72.9 577.2,69.3 582.6,65.7 588.0,61.9 593.4,57.9 598.8,53.4 604.2,48.7 609.6,43.9 615.0,39.1 620.4,34.5 625.8,30.0 631.2,25.5 636.6,20.7 642.0,15.5 647.4,9.8" stroke="#00BFC4"/>
<path d="M377.3,9.8 382.7,12.1 388.1,14.9 393.5,18.2 398.9,21.6 404.3,25.2 409.7,28.8 415.1,32.2 420.5,35.7 425.9,39.2 431.3,42.9 436.7,47.0 442.1,51.5 447.5,56.2 452.9,61.1 458.3,65.9 463.7,70.8 469.1,75.6 474.5,80.0 479.9,84.0 485.3,87.6 490.7,90.7 496.1,93.1 501.5,94.6 506.9,95.2 512.4,94.8 517.8,93.5 523.2,91.4 528.6,89.1 534.0,86.7 539.4,84.3 544.8,82.0 550.2,79.7 555.6,77.6 561.0,75.6 566.4,73.6 571.8,71.3 577.2,68.6 582.6,65.2 588.0,61.3 593.4,56.9 598.8,52.1 604.2,46.9 609.6,41.6 615.0,36.3 620.4,31.2 625.8,26.3 631.2,21.6 636.6,17.3 642.0,13.4 647.4,9.8" stroke="#00BFC4"/>
<path d="M377.3,9.8 382.7,12.6 388.1,16.1 393.5,20.4 398.9,25.2 404.3,30.7 409.7,36.5 415.1,42.4 420.5,48.3 425.9,54.2 431.3,59.9 436.7,65.3 442.1,70.2 447.5,74.7 452.9,78.6 458.3,82.1 463.7,85.4 469.1,88.9 474.5,92.7 479.9,96.7 485.3,101.1 490.7,105.9 496.1,111.2 501.5,116.7 506.9,121.9 512.4,126.4 517.8,129.7 523.2,131.6 528.6,130.7 534.0,129.4 539.4,127.6 544.8,125.5 550.2,122.8 555.6,119.5 561.0,114.4 566.4,108.2 571.8,101.7 577.2,95.2 582.6,88.8 588.0,82.7 593.4,77.1 598.8,71.7 604.2,66.3 609.6,60.8 615.0,54.9 620.4,48.7 625.8,41.7 631.2,33.9 636.6,25.9 642.0,17.8 647.4,9.8" stroke="#F8766D"/>
<path d="M377.3,9.8 382.7,10.4 388.1,12.2 393.5,15.0 398.9,18.3 404.3,22.1 409.7,26.1 415.1,30.1 420.5,34.1 425.9,38.3 431.3,42.7 436.7,47.4 442.1,52.2 447.5,57.0 452.9,61.6 458.3,65.9 463.7,70.0 469.1,73.6 474.5,76.8 479.9,79.3 485.3,81.6 490.7,83.2 496.1,84.0 501.5,83.8 506.9,82.7 512.4,80.5 517.8,77.2 523.2,73.4 528.6,69.4 534.0,65.1 539.4,60.8 544.8,56.7 550.2,52.7 555.6,49.2 561.0,46.4 566.4,43.9 571.8,41.7 577.2,39.7 582.6,37.6 588.0,35.6 593.4,33.7 598.8,31.7 604.2,29.9 609.6,28.1 615.0,26.3 620.4,24.3 625.8,22.0 631.2,19.4 636.6,16.4 642.0,13.2 647.4,9.8" stroke="#00BFC4"/>
<path d="M377.3,9.8 382.7,12.0 388.1,14.4 393.5,17.0 398.9,19.7 404.3,22.5 409.7,25.3 415.1,27.7 420.5,29.8 425.9,31.6 431.3,33.4 436.7,35.1 442.1,37.0 447.5,39.1 452.9,41.5 458.3,44.2 463.7,47.3 469.1,50.9 474.5,54.8 479.9,59.4 485.3,64.7 490.7,69.9 496.1,74.7 501.5,79.0 506.9,82.7 512.4,85.4 517.8,87.0 523.2,87.7 528.6,87.5 534.0,86.3 539.4,84.5 544.8,81.9 550.2,78.7 555.6,75.1 561.0,71.3 566.4,67.3 571.8,63.2 577.2,59.3 582.6,55.5 588.0,51.8 593.4,48.3 598.8,44.8 604.2,41.3 609.6,37.7 615.0,34.0 620.4,30.1 625.8,26.0 631.2,21.7 636.6,17.5 642.0,13.5 647.4,9.8" stroke="#F8766D"/>
<path d="M377.3,9.8 382.7,11.0 388.1,13.1 393.5,16.0 398.9,19.4 404.3,23.3 409.7,27.5 415.1,31.7 420.5,36.3 425.9,41.2 431.3,46.7 436.7,52.7 442.1,59.1 447.5,65.6 452.9,72.0 458.3,78.2 463.7,84.1 469.1,89.7 474.5,94.5 479.9,98.6 485.3,101.9 490.7,104.6 496.1,106.2 501.5,106.9 506.9,106.4 512.4,104.6 517.8,101.7 523.2,97.9 528.6,93.6 534.0,88.8 539.4,83.8 544.8,78.5 550.2,73.1 555.6,67.9 561.0,63.1 566.4,58.6 571.8,54.3 577.2,50.2 582.6,46.3 588.0,42.5 593.4,39.0 598.8,35.7 604.2,32.7 609.6,29.9 615.0,27.2 620.4,24.6 625.8,22.0 631.2,19.1 636.6,16.1 642.0,13.0 647.4,9.8" stroke="#00BFC4"/>
<path d="M377.3,9.8 382.7,14.8 388.1,19.9 393.5,24.8 398.9,29.6 404.3,34.2 409.7,38.5 415.1,42.6 420.5,46.5 425.9,50.2 431.3,53.9 436.7,57.6 442.1,61.4 447.5,65.2 452.9,69.0 458.3,72.8 463.7,76.6 469.1,80.6 474.5,84.7 479.9,89.0 485.3,93.4 490.7,97.9 496.1,102.5 501.5,107.1 506.9,111.3 512.4,115.0 517.8,117.8 523.2,119.3 528.6,119.7 534.0,118.8 539.4,116.7 544.8,113.3 550.2,108.7 555.6,103.0 561.0,96.6 566.4,89.8 571.8,83.2 577.2,76.7 582.6,70.7 588.0,65.3 593.4,60.4 598.8,56.1 604.2,52.0 609.6,48.1 615.0,44.1 620.4,39.8 625.8,35.0 631.2,29.6 636.6,23.5 642.0,16.9 647.4,9.8" stroke="#00BFC4"/>
<path d="M377.3,9.8 382.7,13.3 388.1,16.6 393.5,20.1 398.9,23.7 404.3,27.9 409.7,32.4 415.1,37.3 420.5,42.4 425.9,48.0 431.3,54.0 436.7,60.6 442.1,67.7 447.5,75.2 452.9,82.7 458.3,90.1 463.7,97.4 469.1,104.7 474.5,112.0 479.9,119.2 485.3,126.3 490.7,133.3 496.1,140.1 501.5,146.4 506.9,151.3 512.4,153.7 517.8,153.8 523.2,149.2 528.6,142.4 534.0,136.5 539.4,130.8 544.8,126.1 550.2,122.7 555.6,120.1 561.0,117.4 566.4,113.8 571.8,108.6 577.2,102.9 582.6,97.8 588.0,93.2 593.4,88.5 598.8,83.6 604.2,78.1 609.6,72.1 615.0,65.4 620.4,58.0 625.8,49.0 631.2,38.9 636.6,29.1 642.0,19.4 647.4,9.8" stroke="#F8766D"/>
<path d="M377.3,9.8 382.7,9.5 388.1,9.5 393.5,9.9 398.9,10.9 404.3,12.3 409.7,13.9 415.1,15.3 420.5,16.4 425.9,17.6 431.3,19.0 436.7,20.7 442.1,24.3 447.5,28.7 452.9,33.6 458.3,38.9 463.7,44.3 469.1,49.6 474.5,54.7 479.9,59.6 485.3,64.6 490.7,68.8 496.1,71.9 501.5,74.0 506.9,74.9 512.4,74.5 517.8,72.8 523.2,70.2 528.6,66.6 534.0,62.1 539.4,57.1 544.8,51.7 550.2,46.1 555.6,40.4 561.0,35.5 566.4,33.1 571.8,30.9 577.2,28.7 582.6,26.5 588.0,24.4 593.4,22.4 598.8,20.5 604.2,18.7 609.6,17.2 615.0,15.9 620.4,14.8 625.8,13.7 631.2,12.6 636.6,11.5 642.0,10.7 647.4,9.8" stroke="#F8766D"/>
<path d="M377.3,9.8 382.7,15.1 388.1,20.2 393.5,24.9 398.9,29.1 404.3,32.8 409.7,35.9 415.1,38.5 420.5,40.9 425.9,43.3 431.3,46.2 436.7,49.8 442.1,54.2 447.5,59.5 452.9,65.6 458.3,72.6 463.7,80.0 469.1,87.7 474.5,95.5 479.9,103.1 485.3,110.0 490.7,116.1 496.1,120.7 501.5,123.7 506.9,125.2 512.4,125.3 517.8,124.3 523.2,122.6 528.6,120.1 534.0,116.9 539.4,113.1 544.8,109.0 550.2,104.8 555.6,100.4 561.0,95.8 566.4,91.0 571.8,86.2 577.2,81.1 582.6,75.9 588.0,70.5 593.4,64.8 598.8,58.7 604.2,52.5 609.6,46.3 615.0,40.1 620.4,34.0 625.8,28.2 631.2,22.8 636.6,18.0 642.0,13.6 647.4,9.8" stroke="#F8766D"/>
<path d="M377.3,9.8 382.7,14.6 388.1,22.6 393.5,33.9 398.9,44.8 404.3,54.7 409.7,61.7 415.1,66.3 420.5,70.1 425.9,73.3 431.3,76.1 436.7,78.9 442.1,81.6 447.5,84.5 452.9,88.0 458.3,92.1 463.7,96.2 469.1,100.0 474.5,103.7 479.9,107.1 485.3,110.2 490.7,113.0 496.1,115.5 501.5,117.5 506.9,118.8 512.4,119.1 517.8,118.3 523.2,116.2 528.6,113.3 534.0,110.2 539.4,107.0 544.8,103.6 550.2,100.0 555.6,96.3 561.0,92.4 566.4,88.5 571.8,84.5 577.2,80.3 582.6,75.9 588.0,71.3 593.4,66.6 598.8,61.7 604.2,56.6 609.6,51.2 615.0,45.3 620.4,39.1 625.8,32.9 631.2,27.0 636.6,21.2 642.0,15.5 647.4,9.8" stroke="#F8766D"/>
<path d="M377.3,9.8 382.7,13.7 388.1,17.5 393.5,21.2 398.9,24.8 404.3,28.3 409.7,31.8 415.1,35.2 420.5,38.7 425.9,42.3 431.3,46.2 436.7,50.6 442.1,55.4 447.5,60.8 452.9,66.6 458.3,72.6 463.7,78.5 469.1,84.5 474.5,90.3 479.9,95.9 485.3,100.8 490.7,105.2 496.1,109.2 501.5,112.7 506.9,115.6 512.4,117.6 517.8,118.7 523.2,118.6 528.6,117.7 534.0,116.3 539.4,114.5 544.8,112.6 550.2,110.4 555.6,108.0 561.0,105.3 566.4,102.4 571.8,99.1 577.2,95.5 582.6,91.4 588.0,86.8 593.4,82.0 598.8,76.8 604.2,71.2 609.6,65.0 615.0,58.3 620.4,51.0 625.8,43.1 631.2,35.0 636.6,26.6 642.0,18.2 647.4,9.8" stroke="#F8766D"/>
<path d="M377.3,9.8 382.7,9.1 388.1,9.2 393.5,9.9 398.9,10.9 404.3,12.4 409.7,14.0 415.1,15.3 420.5,16.5 425.9,17.7 431.3,19.1 436.7,20.8 442.1,23.1 447.5,26.0 452.9,29.2 458.3,32.7 463.7,39.3 469.1,47.5 474.5,55.6 479.9,63.4 485.3,70.9 490.7,77.3 496.1,82.5 501.5,86.5 506.9,89.1 512.4,90.3 517.8,90.2 523.2,89.1 528.6,87.1 534.0,84.3 539.4,81.1 544.8,77.4 550.2,73.2 555.6,68.9 561.0,64.4 566.4,59.8 571.8,55.3 577.2,51.0 582.6,47.0 588.0,43.4 593.4,40.3 598.8,37.5 604.2,35.1 609.6,32.8 615.0,30.6 620.4,28.2 625.8,25.3 631.2,22.0 636.6,18.2 642.0,14.1 647.4,9.8" stroke="#F8766D"/>
<path d="M377.3,9.8 382.7,14.7 388.1,19.6 393.5,24.3 398.9,28.7 404.3,32.9 409.7,36.6 415.1,39.9 420.5,42.7 425.9,45.0 431.3,47.0 436.7,48.7 442.1,50.4 447.5,52.1 452.9,54.1 458.3,56.3 463.7,59.0 469.1,62.3 474.5,66.0 479.9,70.1 485.3,74.8 490.7,80.1 496.1,85.6 501.5,90.8 506.9,95.8 512.4,100.2 517.8,103.7 523.2,106.4 528.6,108.5 534.0,109.8 539.4,110.4 544.8,110.4 550.2,109.5 555.6,107.7 561.0,105.0 566.4,101.4 571.8,97.0 577.2,91.8 582.6,86.0 588.0,79.8 593.4,73.5 598.8,67.1 604.2,60.6 609.6,54.2 615.0,47.8 620.4,41.6 625.8,35.4 631.2,29.1 636.6,22.7 642.0,16.3 647.4,9.8" stroke="#F8766D"/>
<path d="M377.3,9.8 382.7,9.1 388.1,9.1 393.5,9.6 398.9,10.3 404.3,11.4 409.7,12.9 415.1,14.2 420.5,15.4 425.9,16.4 431.3,17.5 436.7,18.7 442.1,20.2 447.5,22.0 452.9,25.8 458.3,30.3 463.7,35.1 469.1,39.8 474.5,44.4 479.9,48.6 485.3,52.2 490.7,55.5 496.1,58.5 501.5,60.5 506.9,61.3 512.4,61.1 517.8,60.2 523.2,58.4 528.6,56.8 534.0,54.8 539.4,52.2 544.8,49.9 550.2,48.8 555.6,48.4 561.0,48.5 566.4,48.9 571.8,49.3 577.2,49.2 582.6,48.6 588.0,47.1 593.4,44.8 598.8,41.8 604.2,38.2 609.6,34.2 615.0,30.2 620.4,26.1 625.8,22.3 631.2,18.7 636.6,15.3 642.0,12.4 647.4,9.8" stroke="#F8766D"/>
<path d="M377.3,9.8 382.7,11.6 388.1,14.2 393.5,17.4 398.9,21.1 404.3,25.1 409.7,29.5 415.1,34.0 420.5,38.4 425.9,42.8 431.3,47.2 436.7,51.4 442.1,55.6 447.5,59.5 452.9,63.2 458.3,66.6 463.7,69.6 469.1,72.7 474.5,75.7 479.9,78.7 485.3,81.8 490.7,85.1 496.1,88.8 501.5,92.3 506.9,95.7 512.4,98.6 517.8,100.8 523.2,102.1 528.6,102.6 534.0,102.4 539.4,101.4 544.8,99.6 550.2,96.9 555.6,93.3 561.0,88.8 566.4,83.5 571.8,77.6 577.2,71.1 582.6,64.2 588.0,57.3 593.4,50.4 598.8,44.0 604.2,37.9 609.6,32.5 615.0,27.7 620.4,23.7 625.8,20.2 631.2,17.1 636.6,14.4 642.0,12.0 647.4,9.8" stroke="#F8766D"/>
<path d="M377.3,9.8 382.7,12.4 388.1,15.8 393.5,19.8 398.9,24.4 404.3,29.3 409.7,34.4 415.1,39.5 420.5,44.5 425.9,49.5 431.3,54.4 436.7,59.2 442.1,63.9 447.5,68.2 452.9,72.1 458.3,75.5 463.7,78.5 469.1,81.2 474.5,83.8 479.9,86.1 485.3,88.1 490.7,89.9 496.1,91.7 501.5,93.1 506.9,94.1 512.4,94.5 517.8,94.1 523.2,92.8 528.6,90.7 534.0,88.3 539.4,85.5 544.8,82.4 550.2,79.2 555.6,75.8 561.0,72.3 566.4,69.1 571.8,65.9 577.2,62.7 582.6,59.4 588.0,55.9 593.4,52.3 598.8,48.7 604.2,45.0 609.6,41.3 615.0,37.5 620.4,33.5 625.8,29.3 631.2,24.8 636.6,19.9 642.0,14.9 647.4,9.8" stroke="#00BFC4"/>
<path d="M377.3,9.8 382.7,10.9 388.1,12.3 393.5,13.9 398.9,15.7 404.3,17.7 409.7,19.8 415.1,21.9 420.5,24.1 425.9,26.5 431.3,29.4 436.7,33.0 442.1,37.3 447.5,42.3 452.9,47.9 458.3,53.7 463.7,59.8 469.1,65.9 474.5,71.6 479.9,76.8 485.3,81.7 490.7,85.8 496.1,88.7 501.5,90.2 506.9,90.4 512.4,88.8 517.8,85.9 523.2,81.8 528.6,77.1 534.0,71.9 539.4,66.7 544.8,61.9 550.2,57.6 555.6,54.1 561.0,51.4 566.4,49.4 571.8,47.8 577.2,46.5 582.6,45.1 588.0,43.6 593.4,41.7 598.8,39.3 604.2,36.5 609.6,33.2 615.0,29.6 620.4,25.8 625.8,22.0 631.2,18.3 636.6,15.0 642.0,12.2 647.4,9.8" stroke="#F8766D"/>
<path d="M377.3,9.8 382.7,13.0 388.1,17.1 393.5,21.5 398.9,25.9 404.3,29.9 409.7,33.3 415.1,35.9 420.5,37.5 425.9,38.4 431.3,38.8 436.7,38.7 442.1,38.7 447.5,39.0 452.9,39.9 458.3,41.6 463.7,44.4 469.1,48.1 474.5,52.6 479.9,58.3 485.3,64.9 490.7,71.2 496.1,77.0 501.5,82.1 506.9,86.1 512.4,88.5 517.8,89.5 523.2,89.2 528.6,87.6 534.0,84.7 539.4,80.7 544.8,75.8 550.2,70.2 555.6,64.5 561.0,59.0 566.4,53.8 571.8,49.1 577.2,44.9 582.6,41.2 588.0,38.1 593.4,35.4 598.8,33.2 604.2,31.2 609.6,29.4 615.0,27.5 620.4,25.4 625.8,22.9 631.2,20.0 636.6,16.7 642.0,13.3 647.4,9.8" stroke="#00BFC4"/>
<path d="M377.3,9.8 382.7,9.8 388.1,10.8 393.5,12.6 398.9,14.9 404.3,17.7 409.7,20.7 415.1,23.7 420.5,26.6 425.9,29.5 431.3,32.6 436.7,35.9 442.1,39.5 447.5,43.3 452.9,47.4 458.3,51.5 463.7,55.6 469.1,59.8 474.5,63.8 479.9,67.5 485.3,71.3 490.7,74.9 496.1,77.8 501.5,79.9 506.9,81.1 512.4,81.3 517.8,80.4 523.2,78.6 528.6,76.2 534.0,73.2 539.4,69.9 544.8,66.4 550.2,63.0 555.6,59.5 561.0,56.1 566.4,52.9 571.8,49.6 577.2,46.4 582.6,43.2 588.0,40.0 593.4,36.8 598.8,33.8 604.2,30.8 609.6,28.0 615.0,25.3 620.4,22.7 625.8,20.2 631.2,17.5 636.6,14.9 642.0,12.3 647.4,9.8" stroke="#F8766D"/>
<path d="M377.3,9.8 382.7,11.1 388.1,13.5 393.5,16.7 398.9,20.3 404.3,24.3 409.7,28.3 415.1,32.0 420.5,35.4 425.9,38.5 431.3,41.6 436.7,44.5 442.1,47.5 447.5,50.5 452.9,53.7 458.3,56.9 463.7,60.4 469.1,63.9 474.5,67.5 479.9,71.4 485.3,75.4 490.7,78.9 496.1,81.9 501.5,84.1 506.9,85.4 512.4,85.7 517.8,85.3 523.2,84.4 528.6,82.9 534.0,81.2 539.4,79.2 544.8,77.1 550.2,74.7 555.6,72.1 561.0,69.2 566.4,66.0 571.8,62.3 577.2,58.3 582.6,53.9 588.0,49.3 593.4,44.6 598.8,39.8 604.2,35.2 609.6,30.8 615.0,26.8 620.4,23.2 625.8,19.9 631.2,17.0 636.6,14.4 642.0,12.1 647.4,9.8" stroke="#F8766D"/>
<path d="M377.3,9.8 382.7,8.4 388.1,8.8 393.5,10.2 398.9,12.0 404.3,14.3 409.7,16.3 415.1,17.6 420.5,18.5 425.9,18.9 431.3,19.2 436.7,19.6 442.1,22.0 447.5,25.0 452.9,28.4 458.3,32.1 463.7,35.9 469.1,39.7 474.5,43.4 479.9,47.6 485.3,51.6 490.7,54.3 496.1,56.2 501.5,57.1 506.9,56.9 512.4,55.5 517.8,53.4 523.2,51.1 528.6,48.4 534.0,45.5 539.4,42.5 544.8,39.4 550.2,36.6 555.6,34.3 561.0,32.1 566.4,30.1 571.8,28.1 577.2,26.1 582.6,24.0 588.0,21.9 593.4,20.0 598.8,18.2 604.2,16.7 609.6,15.5 615.0,14.5 620.4,13.6 625.8,12.8 631.2,12.0 636.6,11.2 642.0,10.5 647.4,9.8" stroke="#00BFC4"/>
<path d="M377.3,9.8 382.7,14.2 388.1,18.7 393.5,23.2 398.9,27.6 404.3,32.0 409.7,36.3 415.1,40.5 420.5,44.9 425.9,49.8 431.3,55.3 436.7,61.5 442.1,68.3 447.5,75.4 452.9,82.5 458.3,89.7 463.7,96.8 469.1,103.4 474.5,109.3 479.9,114.2 485.3,118.3 490.7,121.9 496.1,124.6 501.5,126.4 506.9,127.2 512.4,127.1 517.8,126.3 523.2,124.9 528.6,123.1 534.0,120.9 539.4,118.1 544.8,114.6 550.2,110.5 555.6,105.7 561.0,100.2 566.4,94.2 571.8,87.6 577.2,80.8 582.6,73.9 588.0,67.1 593.4,60.6 598.8,54.3 604.2,48.4 609.6,43.0 615.0,37.8 620.4,33.0 625.8,28.2 631.2,23.4 636.6,18.7 642.0,14.1 647.4,9.8" stroke="#00BFC4"/>
<path d="M377.3,9.8 382.7,13.7 388.1,17.6 393.5,21.3 398.9,24.8 404.3,28.1 409.7,31.3 415.1,34.1 420.5,36.6 425.9,39.2 431.3,41.8 436.7,44.8 442.1,48.1 447.5,51.9 452.9,56.2 458.3,60.8 463.7,65.7 469.1,71.0 474.5,76.5 479.9,81.9 485.3,87.1 490.7,92.2 496.1,96.9 501.5,100.9 506.9,104.2 512.4,106.6 517.8,107.9 523.2,108.0 528.6,107.3 534.0,105.8 539.4,103.7 544.8,101.1 550.2,97.9 555.6,94.1 561.0,89.9 566.4,85.4 571.8,80.7 577.2,75.6 582.6,70.2 588.0,64.6 593.4,59.0 598.8,53.4 604.2,47.9 609.6,42.5 615.0,37.3 620.4,32.4 625.8,27.7 631.2,23.1 636.6,18.5 642.0,14.1 647.4,9.8" stroke="#00BFC4"/>
<path d="M377.3,9.8 382.7,13.6 388.1,18.3 393.5,23.4 398.9,28.7 404.3,33.7 409.7,38.2 415.1,42.1 420.5,45.5 425.9,48.5 431.3,51.5 436.7,54.7 442.1,58.4 447.5,62.9 452.9,68.3 458.3,74.7 463.7,81.6 469.1,89.0 474.5,96.6 479.9,103.8 485.3,110.2 490.7,115.0 496.1,118.0 501.5,119.5 506.9,119.5 512.4,117.8 517.8,114.6 523.2,110.0 528.6,104.6 534.0,98.9 539.4,93.8 544.8,89.7 550.2,87.1 555.6,85.9 561.0,86.1 566.4,87.4 571.8,89.3 577.2,91.0 582.6,91.5 588.0,90.6 593.4,88.0 598.8,82.4 604.2,75.4 609.6,68.1 615.0,60.4 620.4,51.0 625.8,41.5 631.2,32.4 636.6,23.9 642.0,16.4 647.4,9.8" stroke="#00BFC4"/>
<path d="M377.3,9.8 382.7,11.0 388.1,12.7 393.5,14.5 398.9,16.0 404.3,17.5 409.7,18.3 415.1,18.7 420.5,18.9 425.9,19.3 431.3,20.1 436.7,21.7 442.1,24.6 447.5,28.2 452.9,32.1 458.3,36.1 463.7,40.0 469.1,43.9 474.5,48.4 479.9,52.3 485.3,54.9 490.7,56.6 496.1,57.2 501.5,56.5 506.9,54.8 512.4,54.7 517.8,55.7 523.2,56.4 528.6,56.8 534.0,56.7 539.4,55.9 544.8,55.0 550.2,53.9 555.6,52.4 561.0,50.8 566.4,48.9 571.8,46.9 577.2,44.6 582.6,42.1 588.0,39.3 593.4,36.3 598.8,32.9 604.2,29.4 609.6,25.8 615.0,22.2 620.4,18.9 625.8,16.0 631.2,13.6 636.6,11.8 642.0,10.6 647.4,9.8" stroke="#00BFC4"/>
<path d="M377.3,9.8 382.7,16.6 388.1,23.3 393.5,29.8 398.9,36.2 404.3,42.3 409.7,48.1 415.1,53.9 420.5,59.8 425.9,65.8 431.3,72.1 436.7,78.4 442.1,83.6 447.5,87.5 452.9,91.1 458.3,94.8 463.7,98.4 469.1,101.8 474.5,105.1 479.9,108.3 485.3,111.5 490.7,114.3 496.1,116.4 501.5,117.6 506.9,117.7 512.4,116.6 517.8,114.6 523.2,111.4 528.6,107.3 534.0,102.3 539.4,96.3 544.8,89.9 550.2,83.3 555.6,77.0 561.0,71.0 566.4,65.7 571.8,61.0 577.2,57.2 582.6,54.1 588.0,51.8 593.4,49.8 598.8,48.1 604.2,46.3 609.6,44.2 615.0,41.5 620.4,38.1 625.8,33.8 631.2,28.7 636.6,22.8 642.0,16.5 647.4,9.8" stroke="#00BFC4"/>
<path d="M377.3,9.8 382.7,9.9 388.1,10.7 393.5,12.0 398.9,13.9 404.3,16.1 409.7,18.9 415.1,22.0 420.5,25.2 425.9,28.6 431.3,32.2 436.7,35.9 442.1,39.9 447.5,44.0 452.9,48.2 458.3,52.2 463.7,56.0 469.1,59.3 474.5,62.1 479.9,64.5 485.3,66.2 490.7,67.2 496.1,68.0 501.5,68.4 506.9,68.0 512.4,66.5 517.8,64.3 523.2,61.2 528.6,57.9 534.0,56.2 539.4,54.0 544.8,51.0 550.2,47.7 555.6,44.5 561.0,41.4 566.4,38.5 571.8,35.8 577.2,33.1 582.6,30.6 588.0,28.2 593.4,25.8 598.8,25.3 604.2,24.7 609.6,23.9 615.0,22.9 620.4,21.6 625.8,20.0 631.2,18.0 636.6,15.4 642.0,12.7 647.4,9.8" stroke="#F8766D"/>
<path d="M377.3,9.8 382.7,15.4 388.1,20.9 393.5,26.1 398.9,31.0 404.3,35.6 409.7,39.9 415.1,43.9 420.5,47.6 425.9,51.1 431.3,54.7 436.7,58.4 442.1,62.4 447.5,66.7 452.9,71.4 458.3,76.5 463.7,82.1 469.1,88.2 474.5,94.5 479.9,100.8 485.3,107.2 490.7,113.5 496.1,119.5 501.5,124.8 506.9,128.9 512.4,131.5 517.8,131.6 523.2,130.8 528.6,129.4 534.0,127.7 539.4,125.6 544.8,123.0 550.2,118.3 555.6,112.9 561.0,107.0 566.4,100.7 571.8,94.1 577.2,87.3 582.6,80.6 588.0,74.0 593.4,67.6 598.8,61.3 604.2,55.1 609.6,49.1 615.0,43.2 620.4,37.6 625.8,31.9 631.2,26.3 636.6,20.8 642.0,15.3 647.4,9.8" stroke="#F8766D"/>
<path d="M377.3,9.8 382.7,10.3 388.1,11.2 393.5,12.3 398.9,13.6 404.3,15.3 409.7,17.3 415.1,19.3 420.5,21.3 425.9,23.4 431.3,25.7 436.7,28.3 442.1,31.2 447.5,34.3 452.9,37.6 458.3,40.9 463.7,44.0 469.1,47.0 474.5,49.8 479.9,52.5 485.3,55.0 490.7,58.1 496.1,61.3 501.5,63.9 506.9,66.2 512.4,68.3 517.8,69.8 523.2,70.8 528.6,71.3 534.0,71.4 539.4,70.8 544.8,69.7 550.2,68.3 555.6,66.2 561.0,63.6 566.4,60.4 571.8,56.8 577.2,52.7 582.6,48.3 588.0,43.8 593.4,39.3 598.8,34.8 604.2,30.5 609.6,26.6 615.0,23.0 620.4,19.8 625.8,16.9 631.2,14.5 636.6,12.4 642.0,10.9 647.4,9.8" stroke="#F8766D"/>
<path d="M377.3,9.8 382.7,13.7 388.1,18.3 393.5,23.2 398.9,28.4 404.3,33.7 409.7,38.9 415.1,44.0 420.5,49.2 425.9,54.6 431.3,60.1 436.7,66.0 442.1,71.9 447.5,77.8 452.9,83.6 458.3,89.1 463.7,94.5 469.1,99.7 474.5,104.5 479.9,108.5 485.3,111.8 490.7,114.6 496.1,116.7 501.5,118.1 506.9,118.4 512.4,117.6 517.8,115.8 523.2,113.3 528.6,110.1 534.0,106.7 539.4,102.9 544.8,98.9 550.2,94.6 555.6,90.2 561.0,85.8 566.4,81.4 571.8,76.7 577.2,71.8 582.6,66.7 588.0,61.4 593.4,56.1 598.8,50.8 604.2,45.4 609.6,40.2 615.0,35.3 620.4,30.6 625.8,26.0 631.2,21.7 636.6,17.5 642.0,13.5 647.4,9.8" stroke="#00BFC4"/>
<path d="M377.3,9.8 382.7,8.6 388.1,8.4 393.5,9.0 398.9,10.0 404.3,11.5 409.7,13.1 415.1,14.2 420.5,15.2 425.9,16.1 431.3,17.2 436.7,18.8 442.1,20.8 447.5,23.5 452.9,26.6 458.3,30.1 463.7,33.8 469.1,37.5 474.5,41.1 479.9,44.9 485.3,49.1 490.7,52.7 496.1,57.5 501.5,61.9 506.9,65.4 512.4,67.7 517.8,68.7 523.2,68.9 528.6,68.2 534.0,66.3 539.4,63.4 544.8,59.5 550.2,54.4 555.6,48.7 561.0,42.6 566.4,36.1 571.8,29.6 577.2,27.2 582.6,25.1 588.0,22.9 593.4,20.8 598.8,18.9 604.2,17.2 609.6,15.8 615.0,14.7 620.4,13.8 625.8,13.0 631.2,12.1 636.6,11.3 642.0,10.5 647.4,9.8" stroke="#00BFC4"/>
<path d="M377.3,9.8 382.7,12.7 388.1,15.8 393.5,19.3 398.9,23.2 404.3,27.6 409.7,32.6 415.1,38.0 420.5,43.9 425.9,50.1 431.3,56.7 436.7,63.4 442.1,70.0 447.5,75.9 452.9,80.9 458.3,84.7 463.7,87.6 469.1,89.5 474.5,90.6 479.9,91.0 485.3,91.1 490.7,91.4 496.1,91.8 501.5,92.4 506.9,93.1 512.4,94.0 517.8,94.9 523.2,96.1 528.6,97.6 534.0,99.0 539.4,100.4 544.8,101.4 550.2,101.5 555.6,100.3 561.0,97.7 566.4,93.7 571.8,88.2 577.2,81.5 582.6,74.1 588.0,66.4 593.4,58.8 598.8,51.7 604.2,45.2 609.6,39.5 615.0,34.6 620.4,30.3 625.8,26.4 631.2,22.6 636.6,18.5 642.0,14.3 647.4,9.8" stroke="#F8766D"/>
<path d="M377.3,9.8 382.7,11.3 388.1,13.3 393.5,15.5 398.9,17.9 404.3,20.6 409.7,23.3 415.1,25.7 420.5,28.1 425.9,30.6 431.3,33.2 436.7,36.2 442.1,39.7 447.5,43.6 452.9,47.8 458.3,52.2 463.7,57.0 469.1,61.8 474.5,66.6 479.9,71.6 485.3,76.6 490.7,81.2 496.1,85.0 501.5,88.0 506.9,90.1 512.4,90.9 517.8,90.6 523.2,89.4 528.6,87.4 534.0,84.6 539.4,81.3 544.8,77.6 550.2,73.5 555.6,69.1 561.0,64.7 566.4,60.3 571.8,55.9 577.2,51.7 582.6,47.8 588.0,44.1 593.4,40.7 598.8,37.5 604.2,34.6 609.6,31.7 615.0,29.0 620.4,26.2 625.8,23.2 631.2,20.0 636.6,16.6 642.0,13.2 647.4,9.8" stroke="#F8766D"/>
<path d="M377.3,9.8 382.7,10.2 388.1,10.7 393.5,11.2 398.9,11.4 404.3,11.9 409.7,13.4 415.1,14.7 420.5,15.9 425.9,17.0 431.3,18.2 436.7,19.6 442.1,21.4 447.5,23.7 452.9,26.5 458.3,29.6 463.7,33.0 469.1,36.5 474.5,41.0 479.9,50.4 485.3,60.3 490.7,70.2 496.1,79.2 501.5,86.8 506.9,92.9 512.4,97.0 517.8,98.8 523.2,98.1 528.6,95.3 534.0,90.4 539.4,83.8 544.8,75.8 550.2,66.9 555.6,57.6 561.0,48.4 566.4,39.8 571.8,32.7 577.2,30.4 582.6,28.1 588.0,25.9 593.4,23.7 598.8,21.6 604.2,19.6 609.6,17.9 615.0,16.4 620.4,15.1 625.8,14.0 631.2,13.5 636.6,12.6 642.0,11.4 647.4,9.8" stroke="#F8766D"/>
<path d="M377.3,9.8 382.7,10.1 388.1,11.6 393.5,13.9 398.9,16.7 404.3,19.8 409.7,22.9 415.1,25.6 420.5,28.1 425.9,30.6 431.3,33.1 436.7,35.9 442.1,38.9 447.5,42.2 452.9,45.6 458.3,49.2 463.7,53.0 469.1,56.8 474.5,60.5 479.9,64.4 485.3,68.5 490.7,72.0 496.1,74.8 501.5,76.9 506.9,78.1 512.4,78.2 517.8,77.6 523.2,76.5 528.6,75.0 534.0,73.2 539.4,71.2 544.8,68.8 550.2,66.2 555.6,63.7 561.0,61.1 566.4,58.4 571.8,55.4 577.2,52.2 582.6,48.8 588.0,45.2 593.4,41.5 598.8,37.8 604.2,34.2 609.6,30.7 615.0,27.3 620.4,24.1 625.8,21.0 631.2,17.9 636.6,15.0 642.0,12.3 647.4,9.8" stroke="#00BFC4"/>
<path d="M377.3,9.8 382.7,14.1 388.1,18.3 393.5,22.5 398.9,26.5 404.3,30.4 409.7,34.0 415.1,37.4 420.5,40.4 425.9,43.3 431.3,46.1 436.7,48.9 442.1,51.8 447.5,54.7 452.9,57.6 458.3,60.5 463.7,63.5 469.1,66.7 474.5,70.0 479.9,73.3 485.3,76.8 490.7,80.5 496.1,84.3 501.5,87.8 506.9,91.1 512.4,94.0 517.8,96.3 523.2,98.0 528.6,99.4 534.0,100.6 539.4,101.5 544.8,102.1 550.2,102.2 555.6,101.6 561.0,100.2 566.4,98.0 571.8,94.9 577.2,90.7 582.6,85.6 588.0,79.7 593.4,73.2 598.8,66.3 604.2,59.1 609.6,51.9 615.0,44.8 620.4,38.0 625.8,31.6 631.2,25.5 636.6,19.8 642.0,14.6 647.4,9.8" stroke="#00BFC4"/>
<path d="M377.3,9.8 382.7,12.8 388.1,15.3 393.5,17.3 398.9,18.6 404.3,19.7 409.7,20.7 415.1,21.7 420.5,22.9 425.9,24.8 431.3,27.5 436.7,31.4 442.1,36.2 447.5,41.7 452.9,47.7 458.3,53.6 463.7,59.1 469.1,64.3 474.5,69.0 479.9,73.4 485.3,77.5 490.7,81.8 496.1,85.9 501.5,89.6 506.9,92.8 512.4,95.1 517.8,96.2 523.2,95.8 528.6,93.9 534.0,90.7 539.4,86.1 544.8,80.8 550.2,74.9 555.6,69.1 561.0,64.3 566.4,61.0 571.8,59.2 577.2,58.8 582.6,59.4 588.0,60.4 593.4,61.2 598.8,61.2 604.2,59.8 609.6,56.7 615.0,51.7 620.4,45.4 625.8,37.9 631.2,30.1 636.6,22.5 642.0,15.6 647.4,9.8" stroke="#00BFC4"/>
<path d="M377.3,9.8 382.7,12.7 388.1,16.0 393.5,19.4 398.9,22.8 404.3,25.9 409.7,28.7 415.1,30.9 420.5,32.6 425.9,33.7 431.3,34.5 436.7,35.0 442.1,35.6 447.5,36.4 452.9,37.6 458.3,39.5 463.7,42.0 469.1,45.3 474.5,49.4 479.9,54.1 485.3,59.2 490.7,64.8 496.1,70.9 501.5,77.0 506.9,82.3 512.4,86.8 517.8,90.4 523.2,92.7 528.6,93.6 534.0,93.4 539.4,92.2 544.8,90.2 550.2,87.4 555.6,84.1 561.0,80.2 566.4,76.4 571.8,72.6 577.2,69.1 582.6,65.7 588.0,62.5 593.4,59.4 598.8,56.6 604.2,53.9 609.6,51.0 615.0,47.8 620.4,44.0 625.8,39.3 631.2,33.4 636.6,26.4 642.0,18.4 647.4,9.8" stroke="#00BFC4"/>
<path d="M377.3,9.8 382.7,12.1 388.1,14.3 393.5,16.4 398.9,18.4 404.3,20.5 409.7,22.7 415.1,24.8 420.5,27.0 425.9,29.5 431.3,32.5 436.7,36.1 442.1,40.5 447.5,45.5 452.9,50.8 458.3,56.4 463.7,62.0 469.1,67.5 474.5,72.7 479.9,77.5 485.3,82.0 490.7,86.1 496.1,89.3 501.5,91.7 506.9,93.1 512.4,93.4 517.8,92.6 523.2,91.1 528.6,88.9 534.0,86.1 539.4,82.8 544.8,79.0 550.2,74.8 555.6,70.0 561.0,64.9 566.4,59.4 571.8,53.6 577.2,47.8 582.6,42.0 588.0,36.6 593.4,31.6 598.8,27.3 604.2,23.7 609.6,21.0 615.0,19.0 620.4,17.5 625.8,16.3 631.2,15.1 636.6,13.7 642.0,12.0 647.4,9.8" stroke="#F8766D"/>
<path d="M377.3,9.8 382.7,14.6 388.1,19.5 393.5,24.2 398.9,29.0 404.3,33.7 409.7,38.4 415.1,43.0 420.5,47.7 425.9,52.4 431.3,57.2 436.7,62.1 442.1,67.2 447.5,72.5 452.9,77.3 458.3,81.7 463.7,86.1 469.1,90.5 474.5,95.2 479.9,100.0 485.3,104.7 490.7,109.1 496.1,113.0 501.5,116.8 506.9,120.1 512.4,122.5 517.8,123.7 523.2,123.2 528.6,121.1 534.0,117.6 539.4,112.8 544.8,107.0 550.2,100.4 555.6,93.1 561.0,85.3 566.4,77.5 571.8,69.9 577.2,62.6 582.6,55.8 588.0,49.6 593.4,44.2 598.8,39.4 604.2,35.4 609.6,31.9 615.0,28.9 620.4,26.3 625.8,23.7 631.2,20.8 636.6,17.5 642.0,13.9 647.4,9.8" stroke="#F8766D"/>
<path d="M377.3,9.8 382.7,12.9 388.1,15.9 393.5,18.9 398.9,21.7 404.3,24.4 409.7,27.2 415.1,29.7 420.5,32.1 425.9,34.5 431.3,37.1 436.7,40.1 442.1,43.5 447.5,47.5 452.9,52.0 458.3,56.9 463.7,62.1 469.1,67.7 474.5,73.4 479.9,79.2 485.3,84.9 490.7,90.3 496.1,95.5 501.5,100.2 506.9,104.3 512.4,107.7 517.8,110.1 523.2,111.5 528.6,112.0 534.0,111.9 539.4,111.2 544.8,110.0 550.2,108.5 555.6,106.3 561.0,103.7 566.4,100.6 571.8,97.1 577.2,93.0 582.6,88.3 588.0,83.2 593.4,77.6 598.8,71.7 604.2,65.4 609.6,58.9 615.0,52.1 620.4,45.1 625.8,38.1 631.2,31.0 636.6,23.7 642.0,16.7 647.4,9.8" stroke="#00BFC4"/>
<path d="M377.3,9.8 382.7,11.8 388.1,14.0 393.5,16.1 398.9,18.1 404.3,20.2 409.7,22.2 415.1,24.0 420.5,25.6 425.9,27.0 431.3,28.5 436.7,30.2 442.1,32.1 447.5,34.4 452.9,37.1 458.3,39.9 463.7,42.9 469.1,46.0 474.5,49.0 479.9,51.8 485.3,55.0 490.7,58.2 496.1,60.7 501.5,62.4 506.9,63.4 512.4,63.7 517.8,63.1 523.2,61.9 528.6,60.4 534.0,58.4 539.4,56.1 544.8,54.0 550.2,51.9 555.6,50.0 561.0,48.1 566.4,46.4 571.8,44.5 577.2,42.7 582.6,40.9 588.0,39.0 593.4,37.2 598.8,35.5 604.2,33.9 609.6,32.3 615.0,30.6 620.4,28.7 625.8,26.4 631.2,23.4 636.6,19.6 642.0,15.1 647.4,9.8" stroke="#F8766D"/>
<path d="M377.3,9.8 382.7,10.1 388.1,11.0 393.5,12.6 398.9,14.4 404.3,16.2 409.7,18.2 415.1,20.2 420.5,22.0 425.9,23.6 431.3,25.2 436.7,26.9 442.1,28.9 447.5,31.4 452.9,34.4 458.3,38.1 463.7,42.5 469.1,47.3 474.5,52.4 479.9,57.8 485.3,63.3 490.7,68.7 496.1,73.8 501.5,78.8 506.9,83.5 512.4,87.2 517.8,90.1 523.2,91.8 528.6,92.3 534.0,91.5 539.4,89.7 544.8,87.1 550.2,83.6 555.6,79.6 561.0,75.2 566.4,70.3 571.8,65.1 577.2,59.5 582.6,53.7 588.0,47.5 593.4,41.3 598.8,35.1 604.2,29.2 609.6,23.8 615.0,19.2 620.4,16.1 625.8,14.7 631.2,13.3 636.6,12.0 642.0,10.9 647.4,9.8" stroke="#F8766D"/>
<path d="M377.3,9.8 382.7,13.9 388.1,18.4 393.5,23.3 398.9,28.2 404.3,33.3 409.7,38.3 415.1,43.1 420.5,47.9 425.9,52.7 431.3,57.6 436.7,62.8 442.1,68.0 447.5,73.2 452.9,78.5 458.3,83.7 463.7,89.2 469.1,94.8 474.5,100.3 479.9,105.5 485.3,110.2 490.7,114.7 496.1,118.6 501.5,121.7 506.9,123.7 512.4,124.2 517.8,123.2 523.2,120.8 528.6,116.9 534.0,111.9 539.4,105.8 544.8,98.7 550.2,90.8 555.6,82.5 561.0,74.4 566.4,66.8 571.8,59.7 577.2,53.4 582.6,48.0 588.0,43.4 593.4,39.8 598.8,36.9 604.2,34.6 609.6,32.7 615.0,30.9 620.4,29.0 625.8,26.5 631.2,23.3 636.6,19.3 642.0,14.8 647.4,9.8" stroke="#00BFC4"/>
<path d="M377.3,9.8 382.7,8.8 388.1,8.2 393.5,8.7 398.9,9.5 404.3,10.6 409.7,12.1 415.1,13.4 420.5,14.4 425.9,15.2 431.3,16.0 436.7,17.0 442.1,18.3 447.5,23.1 452.9,28.9 458.3,35.0 463.7,40.7 469.1,45.9 474.5,50.2 479.9,53.6 485.3,56.1 490.7,58.3 496.1,60.4 501.5,61.8 506.9,62.4 512.4,62.4 517.8,61.6 523.2,59.8 528.6,57.1 534.0,54.0 539.4,50.7 544.8,47.0 550.2,43.9 555.6,40.6 561.0,37.4 566.4,35.5 571.8,35.0 577.2,35.2 582.6,35.8 588.0,36.4 593.4,36.5 598.8,36.1 604.2,34.7 609.6,32.4 615.0,29.3 620.4,25.6 625.8,21.5 631.2,17.5 636.6,14.0 642.0,11.4 647.4,9.8" stroke="#00BFC4"/>
<path d="M377.3,9.8 382.7,13.7 388.1,17.4 393.5,21.3 398.9,25.4 404.3,29.9 409.7,34.9 415.1,40.2 420.5,45.8 425.9,51.7 431.3,58.0 436.7,64.7 442.1,71.7 447.5,79.0 452.9,86.6 458.3,94.2 463.7,102.1 469.1,110.5 474.5,118.7 479.9,126.3 485.3,132.8 490.7,138.2 496.1,141.9 501.5,143.4 506.9,144.6 512.4,144.5 517.8,143.2 523.2,138.9 528.6,133.2 534.0,127.5 539.4,121.8 544.8,116.5 550.2,112.3 555.6,109.4 561.0,107.2 566.4,105.7 571.8,104.2 577.2,101.7 582.6,98.3 588.0,94.2 593.4,89.4 598.8,84.0 604.2,77.8 609.6,71.1 615.0,63.9 620.4,56.0 625.8,46.8 631.2,36.7 636.6,27.3 642.0,18.5 647.4,9.8" stroke="#00BFC4"/>
<path d="M377.3,9.8 382.7,12.9 388.1,16.1 393.5,19.3 398.9,22.3 404.3,25.3 409.7,28.1 415.1,30.5 420.5,32.7 425.9,34.7 431.3,36.8 436.7,39.2 442.1,41.9 447.5,45.0 452.9,48.6 458.3,52.5 463.7,56.8 469.1,61.3 474.5,65.9 479.9,70.5 485.3,74.9 490.7,79.3 496.1,83.2 501.5,86.1 506.9,88.0 512.4,88.8 517.8,88.2 523.2,86.3 528.6,83.3 534.0,79.5 539.4,74.9 544.8,69.7 550.2,64.1 555.6,58.0 561.0,52.2 566.4,46.6 571.8,41.4 577.2,36.5 582.6,32.0 588.0,27.7 593.4,24.0 598.8,20.8 604.2,18.2 609.6,16.5 615.0,15.2 620.4,14.2 625.8,13.6 631.2,13.0 636.6,12.1 642.0,11.1 647.4,9.8" stroke="#00BFC4"/>
<path d="M377.3,9.8 382.7,9.9 388.1,11.0 393.5,13.0 398.9,15.6 404.3,19.1 409.7,23.0 415.1,27.2 420.5,31.6 425.9,36.4 431.3,41.6 436.7,47.0 442.1,52.4 447.5,57.6 452.9,62.1 458.3,66.1 463.7,69.4 469.1,71.8 474.5,73.5 479.9,74.8 485.3,75.7 490.7,75.7 496.1,75.0 501.5,73.6 506.9,71.6 512.4,69.2 517.8,66.6 523.2,64.3 528.6,61.9 534.0,59.9 539.4,58.3 544.8,56.8 550.2,55.3 555.6,53.6 561.0,51.5 566.4,48.8 571.8,45.4 577.2,41.6 582.6,37.3 588.0,32.7 593.4,28.2 598.8,23.9 604.2,20.1 609.6,17.0 615.0,15.6 620.4,14.5 625.8,13.5 631.2,12.4 636.6,11.5 642.0,10.6 647.4,9.8" stroke="#F8766D"/>
<path d="M377.3,9.8 382.7,8.4 388.1,8.5 393.5,9.4 398.9,10.6 404.3,11.8 409.7,12.9 415.1,14.0 420.5,15.1 425.9,16.4 431.3,17.8 436.7,19.5 442.1,21.4 447.5,23.4 452.9,25.5 458.3,27.9 463.7,30.4 469.1,33.1 474.5,36.0 479.9,39.0 485.3,41.9 490.7,45.3 496.1,49.1 501.5,52.6 506.9,55.4 512.4,56.4 517.8,51.1 523.2,45.3 528.6,39.7 534.0,35.3 539.4,32.8 544.8,31.1 550.2,29.3 555.6,27.6 561.0,25.7 566.4,23.6 571.8,21.5 577.2,19.5 582.6,17.8 588.0,15.9 593.4,14.2 598.8,12.7 604.2,11.4 609.6,10.8 615.0,11.1 620.4,11.8 625.8,12.2 631.2,12.0 636.6,11.4 642.0,10.7 647.4,9.8" stroke="#00BFC4"/>
<path d="M377.3,9.8 382.7,12.5 388.1,18.5 393.5,30.8 398.9,43.5 404.3,51.6 409.7,57.4 415.1,60.6 420.5,62.8 425.9,65.3 431.3,67.9 436.7,71.5 442.1,76.6 447.5,82.2 452.9,87.0 458.3,94.6 463.7,105.4 469.1,120.6 474.5,130.0 479.9,133.9 485.3,136.3 490.7,136.8 496.1,136.3 501.5,135.1 506.9,133.3 512.4,130.8 517.8,128.3 523.2,125.9 528.6,123.5 534.0,121.0 539.4,118.3 544.8,115.6 550.2,112.9 555.6,110.1 561.0,107.3 566.4,104.2 571.8,100.9 577.2,97.4 582.6,93.8 588.0,90.1 593.4,86.5 598.8,82.8 604.2,78.1 609.6,72.3 615.0,65.6 620.4,58.0 625.8,48.9 631.2,38.8 636.6,29.1 642.0,19.4 647.4,9.8" stroke="#00BFC4"/>
<path d="M377.3,9.8 382.7,12.1 388.1,14.3 393.5,16.4 398.9,18.1 404.3,19.6 409.7,20.9 415.1,21.9 420.5,22.9 425.9,24.4 431.3,26.6 436.7,29.8 442.1,34.1 447.5,39.6 452.9,45.8 458.3,52.2 463.7,58.7 469.1,64.7 474.5,69.9 479.9,74.0 485.3,77.3 490.7,79.3 496.1,79.6 501.5,78.5 506.9,76.1 512.4,72.3 517.8,67.6 523.2,62.6 528.6,57.9 534.0,53.5 539.4,49.7 544.8,46.7 550.2,44.2 555.6,42.6 561.0,41.7 566.4,41.0 571.8,40.1 577.2,38.8 582.6,36.9 588.0,34.6 593.4,32.0 598.8,29.3 604.2,26.6 609.6,24.2 615.0,22.1 620.4,20.3 625.8,18.6 631.2,16.9 636.6,14.8 642.0,12.6 647.4,9.8" stroke="#00BFC4"/>
<path d="M377.3,9.8 382.7,13.7 388.1,17.9 393.5,22.3 398.9,26.7 404.3,31.1 409.7,35.3 415.1,39.2 420.5,42.8 425.9,46.3 431.3,49.7 436.7,53.2 442.1,56.8 447.5,60.7 452.9,64.9 458.3,69.4 463.7,74.5 469.1,80.1 474.5,86.1 479.9,92.3 485.3,98.5 490.7,104.7 496.1,110.5 501.5,115.8 506.9,120.2 512.4,123.4 517.8,125.1 523.2,125.4 528.6,124.3 534.0,122.0 539.4,118.5 544.8,114.0 550.2,108.5 555.6,102.3 561.0,95.7 566.4,89.2 571.8,82.7 577.2,76.4 582.6,70.4 588.0,64.8 593.4,59.6 598.8,54.7 604.2,50.0 609.6,45.4 615.0,40.8 620.4,36.1 625.8,31.2 631.2,26.0 636.6,20.6 642.0,15.1 647.4,9.8" stroke="#00BFC4"/>
<path d="M377.3,9.8 382.7,10.6 388.1,11.9 393.5,13.5 398.9,15.3 404.3,17.2 409.7,19.3 415.1,21.5 420.5,23.5 425.9,25.3 431.3,27.0 436.7,28.8 442.1,30.6 447.5,32.7 452.9,35.0 458.3,37.8 463.7,41.0 469.1,44.7 474.5,49.0 479.9,53.7 485.3,58.9 490.7,64.3 496.1,69.9 501.5,75.6 506.9,80.6 512.4,84.5 517.8,87.1 523.2,88.0 528.6,87.1 534.0,84.3 539.4,80.3 544.8,75.1 550.2,69.1 555.6,63.2 561.0,57.4 566.4,52.4 571.8,48.2 577.2,44.9 582.6,42.4 588.0,40.4 593.4,38.6 598.8,37.0 604.2,35.1 609.6,33.1 615.0,30.7 620.4,28.0 625.8,24.9 631.2,21.4 636.6,17.6 642.0,13.8 647.4,9.8" stroke="#F8766D"/>
<path d="M377.3,9.8 382.7,12.2 388.1,14.8 393.5,17.5 398.9,19.9 404.3,22.1 409.7,23.9 415.1,25.1 420.5,26.1 425.9,27.2 431.3,28.7 436.7,31.0 442.1,34.2 447.5,38.2 452.9,42.8 458.3,47.8 463.7,52.8 469.1,57.4 474.5,61.3 479.9,65.0 485.3,67.7 490.7,68.7 496.1,68.5 501.5,67.0 506.9,64.2 512.4,60.2 517.8,55.7 523.2,51.4 528.6,48.2 534.0,45.3 539.4,42.3 544.8,39.2 550.2,36.4 555.6,34.1 561.0,32.7 566.4,32.2 571.8,31.7 577.2,31.0 582.6,29.8 588.0,28.2 593.4,26.2 598.8,23.7 604.2,21.0 609.6,18.2 615.0,15.6 620.4,13.6 625.8,12.8 631.2,12.0 636.6,11.2 642.0,10.5 647.4,9.8" stroke="#00BFC4"/>
<path d="M377.3,9.8 382.7,10.6 388.1,11.8 393.5,13.1 398.9,14.6 404.3,16.4 409.7,18.0 415.1,19.4 420.5,20.8 425.9,22.3 431.3,24.2 436.7,26.7 442.1,29.9 447.5,33.7 452.9,37.9 458.3,42.3 463.7,46.9 469.1,51.4 474.5,56.0 479.9,60.7 485.3,64.8 490.7,67.9 496.1,70.0 501.5,71.1 506.9,71.0 512.4,69.9 517.8,68.0 523.2,65.4 528.6,62.1 534.0,58.6 539.4,55.0 544.8,51.3 550.2,47.6 555.6,43.9 561.0,40.3 566.4,36.7 571.8,33.3 577.2,30.1 582.6,27.0 588.0,24.1 593.4,21.6 598.8,19.4 604.2,17.9 609.6,16.6 615.0,15.5 620.4,14.4 625.8,13.7 631.2,12.9 636.6,12.0 642.0,11.0 647.4,9.8" stroke="#F8766D"/>
<path d="M377.3,9.8 382.7,11.0 388.1,12.4 393.5,13.9 398.9,15.4 404.3,16.9 409.7,18.3 415.1,19.5 420.5,20.5 425.9,21.7 431.3,23.4 436.7,25.8 442.1,29.1 447.5,33.6 452.9,38.9 458.3,45.0 463.7,51.6 469.1,58.5 474.5,65.3 479.9,71.8 485.3,77.8 490.7,83.2 496.1,87.5 501.5,90.2 506.9,91.6 512.4,91.3 517.8,89.2 523.2,85.6 528.6,81.0 534.0,75.7 539.4,69.8 544.8,63.8 550.2,57.8 555.6,52.1 561.0,47.3 566.4,43.3 571.8,40.0 577.2,37.2 582.6,34.8 588.0,32.7 593.4,30.7 598.8,28.8 604.2,26.9 609.6,25.2 615.0,23.4 620.4,21.5 625.8,19.5 631.2,17.2 636.6,14.7 642.0,12.3 647.4,9.8" stroke="#00BFC4"/>
<path d="M377.3,9.8 382.7,10.5 388.1,11.6 393.5,13.0 398.9,14.8 404.3,16.9 409.7,19.4 415.1,22.0 420.5,24.4 425.9,26.7 431.3,28.8 436.7,30.8 442.1,32.8 447.5,34.9 452.9,37.4 458.3,40.2 463.7,43.6 469.1,47.5 474.5,52.1 479.9,57.3 485.3,63.0 490.7,69.0 496.1,75.6 501.5,82.3 506.9,88.7 512.4,94.5 517.8,99.5 523.2,103.3 528.6,105.8 534.0,107.0 539.4,107.1 544.8,106.4 550.2,105.1 555.6,103.2 561.0,100.8 566.4,97.9 571.8,94.7 577.2,91.1 582.6,87.1 588.0,82.5 593.4,77.4 598.8,71.9 604.2,65.9 609.6,59.3 615.0,52.3 620.4,45.0 625.8,37.6 631.2,30.1 636.6,22.8 642.0,15.9 647.4,9.8" stroke="#F8766D"/>
</g>
<line x1="361.50" x2="362.9" y1="9.80" y2="9.80" stroke="#333" stroke-width="0.5"/>
<line x1="361.50" x2="362.9" y1="49.97" y2="49.97" stroke="#333" stroke-width="0.5"/>
<line x1="361.50" x2="362.9" y1="90.13" y2="90.13" stroke="#333" stroke-width="0.5"/>
<line x1="361.50" x2="362.9" y1="130.30" y2="130.30" stroke="#333" stroke-width="0.5"/>
<line x1="377.30" x2="377.30" y1="161.7" y2="163.10" stroke="#333" stroke-width="0.5"/>
<line x1="444.82" x2="444.82" y1="161.7" y2="163.10" stroke="#333" stroke-width="0.5"/>
<line x1="512.35" x2="512.35" y1="161.7" y2="163.10" stroke="#333" stroke-width="0.5"/>
<line x1="579.88" x2="579.88" y1="161.7" y2="163.10" stroke="#333" stroke-width="0.5"/>
<line x1="647.40" x2="647.40" y1="161.7" y2="163.10" stroke="#333" stroke-width="0.5"/>
<rect x="668.30" y="76.80" width="8.6" height="16.0" fill="#F2F2F2"/>
<line x1="669.10" x2="676.10" y1="80.80" y2="80.80" stroke="#F8766D" stroke-width="0.9"/>
<line x1="669.10" x2="676.10" y1="88.80" y2="88.80" stroke="#00BFC4" stroke-width="0.9"/>
<rect x="20.9" y="179.9" width="294.60" height="161.40" fill="#EBEBEB"/>
<line x1="20.9" x2="315.5" y1="213.28" y2="213.28" stroke="#fff" stroke-width="0.4"/>
<line x1="20.9" x2="315.5" y1="259.45" y2="259.45" stroke="#fff" stroke-width="0.4"/>
<line x1="20.9" x2="315.5" y1="305.62" y2="305.62" stroke="#fff" stroke-width="0.4"/>
<line x1="67.95" x2="67.95" y1="179.9" y2="341.3" stroke="#fff" stroke-width="0.4"/>
<line x1="134.85" x2="134.85" y1="179.9" y2="341.3" stroke="#fff" stroke-width="0.4"/>
<line x1="201.75" x2="201.75" y1="179.9" y2="341.3" stroke="#fff" stroke-width="0.4"/>
<line x1="268.65" x2="268.65" y1="179.9" y2="341.3" stroke="#fff" stroke-width="0.4"/>
<line x1="20.9" x2="315.5" y1="190.20" y2="190.20" stroke="#fff" stroke-width="0.75"/>
<line x1="20.9" x2="315.5" y1="236.37" y2="236.37" stroke="#fff" stroke-width="0.75"/>
<line x1="20.9" x2="315.5" y1="282.53" y2="282.53" stroke="#fff" stroke-width="0.75"/>
<line x1="20.9" x2="315.5" y1="328.70" y2="328.70" stroke="#fff" stroke-width="0.75"/>
<line x1="34.50" x2="34.50" y1="179.9" y2="341.3" stroke="#fff" stroke-width="0.75"/>
<line x1="101.40" x2="101.40" y1="179.9" y2="341.3" stroke="#fff" stroke-width="0.75"/>
<line x1="168.30" x2="168.30" y1="179.9" y2="341.3" stroke="#fff" stroke-width="0.75"/>
<line x1="235.20" x2="235.20" y1="179.9" y2="341.3" stroke="#fff" stroke-width="0.75"/>
<line x1="302.10" x2="302.10" y1="179.9" y2="341.3" stroke="#fff" stroke-width="0.75"/>
<g fill="none" stroke-width="1.0" stroke-linejoin="round">
<path d="M34.5,236.4 39.9,236.1 45.2,236.8 50.6,239.2 55.9,242.7 61.3,247.2 66.6,253.8 72.0,260.4 77.3,266.4 82.7,272.3 88.0,278.8 93.4,285.2 98.7,288.8 104.1,289.8 109.4,289.0 114.8,286.4 120.1,281.5 125.5,276.4 130.8,271.3 136.2,267.6 141.5,265.5 146.9,265.0 152.2,265.9 157.6,268.5 162.9,272.7 168.3,277.4 173.7,282.6 179.0,287.1 184.4,290.2 189.7,292.6 195.1,294.7 200.4,296.5 205.8,298.1 211.1,299.3 216.5,299.9 221.8,299.8 227.2,299.1 232.5,298.2 237.9,297.1 243.2,295.9 248.6,294.9 253.9,293.6 259.3,291.4 264.6,287.9 270.0,281.7 275.3,274.8 280.7,267.2 286.0,259.4 291.4,251.7 296.7,244.0 302.1,236.4" stroke="#F8766D"/>
<path d="M34.5,236.4 39.9,232.8 45.2,230.1 50.6,228.8 55.9,229.1 61.3,232.1 66.6,238.0 72.0,244.2 77.3,250.2 82.7,255.8 88.0,261.6 93.4,266.3 98.7,268.0 104.1,267.7 109.4,266.3 114.8,263.8 120.1,261.3 125.5,259.1 130.8,257.2 136.2,256.0 141.5,255.5 146.9,255.7 152.2,256.8 157.6,259.2 162.9,262.3 168.3,265.7 173.7,269.1 179.0,271.5 184.4,273.3 189.7,274.4 195.1,274.7 200.4,274.2 205.8,273.2 211.1,271.3 216.5,268.5 221.8,265.7 227.2,262.7 232.5,260.1 237.9,257.6 243.2,256.4 248.6,256.3 253.9,256.4 259.3,256.5 264.6,256.1 270.0,255.1 275.3,253.2 280.7,250.5 286.0,247.2 291.4,243.7 296.7,240.1 302.1,236.4" stroke="#F8766D"/>
<path d="M34.5,236.4 39.9,233.0 45.2,230.8 50.6,231.9 55.9,235.3 61.3,240.1 66.6,245.6 72.0,251.3 77.3,256.3 82.7,260.7 88.0,264.7 93.4,268.6 98.7,272.0 104.1,273.7 109.4,273.7 114.8,272.5 120.1,270.2 125.5,267.1 130.8,264.0 136.2,261.0 141.5,258.2 146.9,255.8 152.2,254.2 157.6,254.0 162.9,254.5 168.3,255.9 173.7,257.6 179.0,259.2 184.4,260.7 189.7,261.6 195.1,262.2 200.4,262.5 205.8,262.4 211.1,262.0 216.5,261.4 221.8,260.4 227.2,259.1 232.5,258.2 237.9,257.2 243.2,255.9 248.6,254.6 253.9,253.4 259.3,252.0 264.6,250.2 270.0,248.0 275.3,245.7 280.7,243.1 286.0,240.8 291.4,238.9 296.7,237.5 302.1,236.4" stroke="#00BFC4"/>
<path d="M34.5,236.4 39.9,231.4 45.2,226.8 50.6,223.5 55.9,222.1 61.3,224.7 66.6,230.3 72.0,236.4 77.3,243.0 82.7,249.7 88.0,256.8 93.4,262.0 98.7,265.1 104.1,267.2 109.4,267.8 114.8,267.3 120.1,265.8 125.5,263.6 130.8,262.1 136.2,261.5 141.5,262.0 146.9,264.0 152.2,267.9 157.6,273.1 162.9,279.2 168.3,285.7 173.7,291.3 179.0,296.3 184.4,300.9 189.7,305.3 195.1,309.3 200.4,312.4 205.8,314.6 211.1,315.7 216.5,315.3 221.8,314.0 227.2,312.0 232.5,309.0 237.9,305.6 243.2,302.0 248.6,297.6 253.9,291.3 259.3,284.2 264.6,276.7 270.0,269.3 275.3,262.2 280.7,255.9 286.0,250.4 291.4,245.6 296.7,241.0 302.1,236.4" stroke="#F8766D"/>
<path d="M34.5,236.4 39.9,230.9 45.2,226.0 50.6,225.1 55.9,226.3 61.3,229.0 66.6,232.7 72.0,236.4 77.3,239.7 82.7,243.0 88.0,246.4 93.4,249.8 98.7,252.4 104.1,253.9 109.4,254.8 114.8,254.8 120.1,254.2 125.5,253.4 130.8,252.3 136.2,251.3 141.5,250.3 146.9,249.8 152.2,249.9 157.6,250.5 162.9,251.8 168.3,253.0 173.7,254.1 179.0,254.6 184.4,254.4 189.7,253.7 195.1,252.4 200.4,250.5 205.8,248.1 211.1,245.5 216.5,242.5 221.8,239.7 227.2,237.8 232.5,236.3 237.9,235.3 243.2,235.0 248.6,235.7 253.9,236.9 259.3,238.1 264.6,239.0 270.0,239.6 275.3,239.7 280.7,239.4 286.0,238.6 291.4,237.9 296.7,237.1 302.1,236.4" stroke="#00BFC4"/>
<path d="M34.5,236.4 39.9,232.0 45.2,228.8 50.6,228.7 55.9,231.1 61.3,234.9 66.6,239.2 72.0,243.9 77.3,248.2 82.7,251.6 88.0,254.4 93.4,256.7 98.7,259.0 104.1,261.0 109.4,262.1 114.8,262.1 120.1,261.6 125.5,260.8 130.8,259.5 136.2,258.2 141.5,257.0 146.9,255.8 152.2,254.7 157.6,253.7 162.9,253.7 168.3,254.7 173.7,256.5 179.0,259.2 184.4,261.4 189.7,263.3 195.1,264.3 200.4,264.2 205.8,263.2 211.1,261.5 216.5,259.1 221.8,256.3 227.2,253.2 232.5,250.0 237.9,247.8 243.2,246.1 248.6,245.0 253.9,244.6 259.3,245.1 264.6,245.6 270.0,245.6 275.3,245.1 280.7,243.8 286.0,241.8 291.4,239.8 296.7,238.0 302.1,236.4" stroke="#00BFC4"/>
<path d="M34.5,236.4 39.9,240.8 45.2,245.0 50.6,249.9 55.9,255.2 61.3,260.0 66.6,264.6 72.0,267.9 77.3,269.7 82.7,270.5 88.0,271.0 93.4,270.9 98.7,269.1 104.1,266.1 109.4,262.8 114.8,259.4 120.1,256.3 125.5,253.8 130.8,251.8 136.2,250.3 141.5,249.2 146.9,248.7 152.2,248.7 157.6,249.7 162.9,251.8 168.3,254.1 173.7,256.8 179.0,259.3 184.4,261.1 189.7,262.3 195.1,262.8 200.4,262.5 205.8,261.4 211.1,260.0 216.5,257.9 221.8,255.8 227.2,254.1 232.5,252.4 237.9,250.7 243.2,249.2 248.6,247.9 253.9,246.8 259.3,245.5 264.6,244.2 270.0,243.0 275.3,241.9 280.7,240.8 286.0,239.7 291.4,238.7 296.7,237.7 302.1,236.4" stroke="#00BFC4"/>
<path d="M34.5,236.4 39.9,231.0 45.2,225.9 50.6,221.5 55.9,218.0 61.3,217.2 66.6,220.1 72.0,224.2 77.3,229.1 82.7,234.3 88.0,239.5 93.4,244.4 98.7,247.4 104.1,248.9 109.4,250.0 114.8,250.6 120.1,251.1 125.5,251.9 130.8,252.5 136.2,252.9 141.5,253.4 146.9,254.3 152.2,255.8 157.6,258.6 162.9,262.3 168.3,266.3 173.7,270.4 179.0,273.7 184.4,276.1 189.7,277.9 195.1,278.9 200.4,279.3 205.8,279.0 211.1,278.1 216.5,276.2 221.8,273.8 227.2,271.1 232.5,268.3 237.9,265.3 243.2,262.9 248.6,261.4 253.9,259.9 259.3,258.2 264.6,256.1 270.0,253.6 275.3,250.6 280.7,247.3 286.0,244.0 291.4,241.0 296.7,238.5 302.1,236.4" stroke="#F8766D"/>
<path d="M34.5,236.4 39.9,229.4 45.2,223.5 50.6,221.9 55.9,222.2 61.3,224.0 66.6,226.4 72.0,228.3 77.3,229.7 82.7,231.3 88.0,233.9 93.4,236.2 98.7,237.8 104.1,238.8 109.4,240.9 114.8,243.8 120.1,246.1 125.5,247.9 130.8,248.7 136.2,248.7 141.5,248.3 146.9,247.7 152.2,247.1 157.6,246.7 162.9,246.5 168.3,245.8 173.7,244.9 179.0,243.2 184.4,240.9 189.7,238.5 195.1,236.7 200.4,234.2 205.8,231.7 211.1,230.4 216.5,229.1 221.8,228.2 227.2,227.5 232.5,226.6 237.9,225.0 243.2,223.6 248.6,222.9 253.9,222.9 259.3,223.5 264.6,224.5 270.0,226.1 275.3,227.9 280.7,229.8 286.0,231.6 291.4,233.3 296.7,234.9 302.1,236.4" stroke="#00BFC4"/>
<path d="M34.5,236.4 39.9,234.4 45.2,233.3 50.6,233.8 55.9,235.8 61.3,239.4 66.6,245.0 72.0,251.4 77.3,257.0 82.7,262.4 88.0,268.1 93.4,274.7 98.7,281.9 104.1,287.3 109.4,289.8 114.8,289.4 120.1,287.7 125.5,284.5 130.8,280.8 136.2,276.3 141.5,272.0 146.9,269.3 152.2,268.0 157.6,268.3 162.9,270.0 168.3,273.8 173.7,279.0 179.0,284.8 184.4,290.7 189.7,295.5 195.1,299.3 200.4,302.9 205.8,306.4 211.1,309.7 216.5,312.6 221.8,314.9 227.2,316.0 232.5,313.5 237.9,309.3 243.2,304.4 248.6,299.4 253.9,295.2 259.3,291.4 264.6,287.0 270.0,281.4 275.3,274.5 280.7,266.4 286.0,257.9 291.4,250.0 296.7,242.9 302.1,236.4" stroke="#F8766D"/>
<path d="M34.5,236.4 39.9,237.2 45.2,238.7 50.6,242.6 55.9,248.2 61.3,254.5 66.6,261.3 72.0,267.8 77.3,273.2 82.7,277.9 88.0,282.5 93.4,286.8 98.7,289.0 104.1,288.6 109.4,286.5 114.8,283.0 120.1,278.3 125.5,273.8 130.8,269.4 136.2,265.5 141.5,262.1 146.9,260.5 152.2,261.3 157.6,263.3 162.9,266.6 168.3,269.9 173.7,273.1 179.0,275.9 184.4,277.8 189.7,279.0 195.1,279.7 200.4,279.7 205.8,279.1 211.1,278.1 216.5,276.4 221.8,274.1 227.2,271.9 232.5,269.4 237.9,266.7 243.2,263.9 248.6,261.3 253.9,258.9 259.3,256.4 264.6,253.7 270.0,251.1 275.3,248.5 280.7,245.7 286.0,243.1 291.4,240.8 296.7,238.7 302.1,236.4" stroke="#00BFC4"/>
<path d="M34.5,236.4 39.9,228.6 45.2,222.1 50.6,220.1 55.9,220.8 61.3,223.5 66.6,227.3 72.0,231.6 77.3,235.6 82.7,239.3 88.0,242.8 93.4,246.2 98.7,249.3 104.1,251.5 109.4,252.3 114.8,252.3 120.1,251.6 125.5,250.1 130.8,248.6 136.2,247.1 141.5,245.9 146.9,244.9 152.2,244.1 157.6,243.2 162.9,242.2 168.3,241.9 173.7,242.3 179.0,242.9 184.4,243.8 189.7,244.4 195.1,244.5 200.4,244.0 205.8,242.7 211.1,240.3 216.5,237.2 221.8,233.4 227.2,228.9 232.5,225.0 237.9,221.8 243.2,219.2 248.6,217.8 253.9,218.3 259.3,220.2 264.6,222.8 270.0,225.9 275.3,229.0 280.7,231.8 286.0,233.9 291.4,235.2 296.7,236.0 302.1,236.4" stroke="#00BFC4"/>
<path d="M34.5,236.4 39.9,231.6 45.2,227.4 50.6,224.6 55.9,223.4 61.3,225.3 66.6,231.2 72.0,238.5 77.3,246.4 82.7,254.5 88.0,262.9 93.4,270.9 98.7,276.2 104.1,278.6 109.4,279.1 114.8,277.5 120.1,274.6 125.5,271.2 130.8,267.3 136.2,264.5 141.5,263.0 146.9,262.8 152.2,263.8 157.6,266.6 162.9,270.9 168.3,275.6 173.7,280.8 179.0,285.3 184.4,288.4 189.7,290.6 195.1,292.2 200.4,293.3 205.8,293.6 211.1,292.9 216.5,291.0 221.8,288.0 227.2,284.1 232.5,279.9 237.9,275.4 243.2,271.5 248.6,268.7 253.9,266.4 259.3,264.2 264.6,262.0 270.0,259.6 275.3,256.7 280.7,253.3 286.0,249.5 291.4,245.5 296.7,241.2 302.1,236.4" stroke="#F8766D"/>
<path d="M34.5,236.4 39.9,234.6 45.2,234.4 50.6,237.5 55.9,242.4 61.3,247.9 66.6,253.8 72.0,258.9 77.3,262.8 82.7,266.0 88.0,269.0 93.4,271.5 98.7,272.4 104.1,271.5 109.4,269.6 114.8,267.0 120.1,263.9 125.5,261.2 130.8,258.6 136.2,256.5 141.5,254.8 146.9,254.3 152.2,255.1 157.6,256.9 162.9,259.9 168.3,262.9 173.7,265.9 179.0,268.5 184.4,270.0 189.7,270.7 195.1,270.7 200.4,269.7 205.8,267.9 211.1,265.3 216.5,261.8 221.8,257.7 227.2,253.8 232.5,249.8 237.9,245.9 243.2,242.3 248.6,239.8 253.9,238.0 259.3,236.8 264.6,236.0 270.0,235.8 275.3,235.8 280.7,236.0 286.0,236.2 291.4,236.4 296.7,236.5 302.1,236.4" stroke="#00BFC4"/>
<path d="M34.5,236.4 39.9,228.3 45.2,222.5 50.6,223.1 55.9,227.1 61.3,233.5 66.6,241.0 72.0,247.3 77.3,254.8 82.7,265.8 88.0,277.9 93.4,290.4 98.7,301.0 104.1,306.7 109.4,309.0 114.8,307.6 120.1,302.8 125.5,295.5 130.8,288.0 136.2,280.1 141.5,273.3 146.9,268.5 152.2,265.2 157.6,263.4 162.9,263.4 168.3,264.1 173.7,265.0 179.0,266.4 184.4,267.7 189.7,268.6 195.1,268.7 200.4,267.8 205.8,266.2 211.1,264.1 216.5,261.8 221.8,259.4 227.2,256.8 232.5,253.8 237.9,250.7 243.2,247.9 248.6,245.6 253.9,244.1 259.3,243.1 264.6,242.4 270.0,241.8 275.3,241.0 280.7,240.1 286.0,239.1 291.4,238.2 296.7,237.3 302.1,236.4" stroke="#00BFC4"/>
<path d="M34.5,236.4 39.9,235.2 45.2,234.2 50.6,234.0 55.9,234.3 61.3,235.6 66.6,238.8 72.0,243.5 77.3,248.2 82.7,252.9 88.0,257.8 93.4,263.1 98.7,268.8 104.1,273.0 109.4,275.2 114.8,276.2 120.1,276.3 125.5,275.2 130.8,273.6 136.2,271.2 141.5,268.4 146.9,266.5 152.2,265.7 157.6,266.0 162.9,267.5 168.3,270.7 173.7,275.2 179.0,280.0 184.4,285.1 189.7,289.1 195.1,291.7 200.4,293.5 205.8,295.0 211.1,296.0 216.5,296.4 221.8,295.8 227.2,293.9 232.5,290.7 237.9,286.4 243.2,281.3 248.6,275.8 253.9,270.9 259.3,266.3 264.6,261.6 270.0,257.1 275.3,252.6 280.7,248.2 286.0,244.1 291.4,240.8 296.7,238.3 302.1,236.4" stroke="#F8766D"/>
<path d="M34.5,236.4 39.9,230.4 45.2,226.0 50.6,226.0 55.9,228.3 61.3,232.0 66.6,236.3 72.0,240.4 77.3,243.6 82.7,246.2 88.0,248.6 93.4,250.8 98.7,252.4 104.1,253.0 109.4,253.0 114.8,252.8 120.1,252.2 125.5,251.7 130.8,251.2 136.2,250.7 141.5,250.2 146.9,249.9 152.2,250.1 157.6,251.0 162.9,252.7 168.3,255.1 173.7,257.1 179.0,258.9 184.4,260.0 189.7,260.1 195.1,259.5 200.4,258.2 205.8,256.1 211.1,253.5 216.5,250.5 221.8,246.8 227.2,243.6 232.5,240.7 237.9,238.0 243.2,235.7 248.6,234.2 253.9,233.5 259.3,233.1 264.6,232.9 270.0,232.9 275.3,233.0 280.7,233.4 286.0,233.9 291.4,234.6 296.7,235.4 302.1,236.4" stroke="#00BFC4"/>
<path d="M34.5,236.4 39.9,226.8 45.2,220.3 50.6,220.1 55.9,223.5 61.3,229.0 66.6,235.5 72.0,241.5 77.3,247.0 82.7,252.3 88.0,256.8 93.4,259.2 98.7,259.4 104.1,258.1 109.4,255.4 114.8,252.4 120.1,249.5 125.5,247.0 130.8,245.1 136.2,243.6 141.5,241.7 146.9,240.2 152.2,240.2 157.6,240.4 162.9,240.6 168.3,240.5 173.7,240.9 179.0,241.5 184.4,241.6 189.7,240.9 195.1,239.4 200.4,237.2 205.8,234.0 211.1,230.4 216.5,227.2 221.8,224.3 227.2,221.7 232.5,219.8 237.9,219.3 243.2,220.1 248.6,221.7 253.9,223.8 259.3,226.1 264.6,228.5 270.0,230.7 275.3,232.5 280.7,233.9 286.0,234.8 291.4,235.5 296.7,236.0 302.1,236.4" stroke="#00BFC4"/>
<path d="M34.5,236.4 39.9,232.0 45.2,227.7 50.6,224.1 55.9,221.0 61.3,218.9 66.6,219.2 72.0,221.7 77.3,224.6 82.7,227.9 88.0,231.2 93.4,234.2 98.7,237.1 104.1,238.8 109.4,239.1 114.8,238.8 120.1,238.8 125.5,239.0 130.8,239.8 136.2,241.5 141.5,243.7 146.9,245.3 152.2,246.5 157.6,247.7 162.9,249.1 168.3,251.3 173.7,254.6 179.0,258.5 184.4,262.8 189.7,266.8 195.1,270.1 200.4,272.8 205.8,274.5 211.1,275.3 216.5,275.1 221.8,273.8 227.2,270.8 232.5,266.8 237.9,261.8 243.2,256.4 248.6,250.7 253.9,246.7 259.3,243.7 264.6,241.5 270.0,240.0 275.3,238.9 280.7,237.9 286.0,237.2 291.4,236.6 296.7,236.4 302.1,236.4" stroke="#F8766D"/>
<path d="M34.5,236.4 39.9,226.5 45.2,217.5 50.6,209.7 55.9,203.3 61.3,198.8 66.6,198.7 72.0,201.9 77.3,206.6 82.7,212.7 88.0,219.2 93.4,225.7 98.7,232.1 104.1,237.2 109.4,240.7 114.8,243.4 120.1,245.2 125.5,246.1 130.8,246.9 136.2,247.6 141.5,248.1 146.9,248.3 152.2,248.6 157.6,249.1 162.9,250.2 168.3,252.6 173.7,255.8 179.0,259.6 184.4,263.8 189.7,267.3 195.1,270.3 200.4,272.4 205.8,273.1 211.1,272.6 216.5,270.8 221.8,267.0 227.2,261.5 232.5,255.2 237.9,248.5 243.2,241.7 248.6,236.3 253.9,233.3 259.3,231.8 264.6,231.3 270.0,231.6 275.3,232.0 280.7,232.3 286.0,232.7 291.4,233.3 296.7,234.5 302.1,236.4" stroke="#F8766D"/>
<path d="M34.5,236.4 39.9,222.9 45.2,210.3 50.6,199.0 55.9,191.9 61.3,188.7 66.6,188.9 72.0,192.3 77.3,198.2 82.7,206.8 88.0,214.8 93.4,222.5 98.7,229.8 104.1,236.4 109.4,241.7 114.8,245.6 120.1,247.9 125.5,249.4 130.8,251.1 136.2,253.0 141.5,254.8 146.9,256.7 152.2,258.5 157.6,260.4 162.9,262.2 168.3,264.1 173.7,266.0 179.0,268.0 184.4,269.9 189.7,271.7 195.1,273.3 200.4,274.8 205.8,276.4 211.1,277.6 216.5,278.2 221.8,277.9 227.2,276.4 232.5,273.9 237.9,270.8 243.2,267.4 248.6,264.1 253.9,260.5 259.3,256.6 264.6,252.5 270.0,248.8 275.3,245.6 280.7,243.2 286.0,241.2 291.4,239.6 296.7,238.1 302.1,236.4" stroke="#F8766D"/>
<path d="M34.5,236.4 39.9,231.3 45.2,226.6 50.6,223.2 55.9,221.0 61.3,220.4 66.6,222.1 72.0,226.6 77.3,232.1 82.7,238.0 88.0,244.4 93.4,251.2 98.7,258.5 104.1,265.6 109.4,270.6 114.8,273.4 120.1,274.4 125.5,273.7 130.8,271.4 136.2,268.5 141.5,265.2 146.9,262.4 152.2,260.7 157.6,260.1 162.9,260.7 168.3,262.5 173.7,266.2 179.0,271.2 184.4,276.8 189.7,282.5 195.1,286.9 200.4,289.9 205.8,292.1 211.1,293.8 216.5,295.2 221.8,296.0 227.2,296.0 232.5,294.9 237.9,292.7 243.2,289.4 248.6,285.0 253.9,280.3 259.3,275.6 264.6,270.8 270.0,266.1 275.3,261.6 280.7,257.1 286.0,252.4 291.4,247.6 296.7,242.3 302.1,236.4" stroke="#F8766D"/>
<path d="M34.5,236.4 39.9,230.9 45.2,227.1 50.6,228.0 55.9,231.8 61.3,237.8 66.6,245.6 72.0,254.3 77.3,264.1 82.7,275.3 88.0,287.1 93.4,299.3 98.7,310.2 104.1,317.0 109.4,318.4 114.8,314.8 120.1,306.4 125.5,294.8 130.8,282.5 136.2,274.3 141.5,268.7 146.9,265.6 152.2,264.2 157.6,264.4 162.9,266.6 168.3,268.7 173.7,270.0 179.0,271.4 184.4,272.6 189.7,273.3 195.1,273.3 200.4,272.3 205.8,270.6 211.1,268.4 216.5,266.1 221.8,264.1 227.2,262.2 232.5,260.4 237.9,258.5 243.2,256.7 248.6,254.8 253.9,253.0 259.3,251.1 264.6,249.3 270.0,247.4 275.3,245.6 280.7,243.8 286.0,241.9 291.4,240.1 296.7,238.2 302.1,236.4" stroke="#00BFC4"/>
<path d="M34.5,236.4 39.9,233.7 45.2,231.2 50.6,229.8 55.9,229.7 61.3,232.0 66.6,237.6 72.0,244.5 77.3,251.3 82.7,258.3 88.0,265.3 93.4,272.5 98.7,277.4 104.1,279.3 109.4,279.4 114.8,277.9 120.1,274.9 125.5,271.5 130.8,267.6 136.2,264.3 141.5,262.3 146.9,261.5 152.2,261.8 157.6,263.4 162.9,266.8 168.3,271.0 173.7,275.9 179.0,280.9 184.4,285.0 189.7,288.6 195.1,291.9 200.4,295.3 205.8,298.7 211.1,301.9 216.5,304.6 221.8,306.5 227.2,307.2 232.5,306.7 237.9,305.1 243.2,302.5 248.6,299.1 253.9,294.9 259.3,289.7 264.6,283.5 270.0,276.7 275.3,269.3 280.7,261.6 286.0,254.3 291.4,247.6 296.7,241.7 302.1,236.4" stroke="#F8766D"/>
<path d="M34.5,236.4 39.9,231.0 45.2,226.3 50.6,225.8 55.9,227.3 61.3,230.3 66.6,234.1 72.0,237.4 77.3,240.0 82.7,242.3 88.0,244.3 93.4,245.7 98.7,245.9 104.1,245.5 109.4,245.1 114.8,244.6 120.1,244.6 125.5,244.9 130.8,245.4 136.2,246.1 141.5,246.9 146.9,247.8 152.2,249.5 157.6,252.3 162.9,255.3 168.3,257.8 173.7,259.5 179.0,259.5 184.4,258.2 189.7,255.6 195.1,252.0 200.4,247.6 205.8,242.9 211.1,238.1 216.5,233.4 221.8,229.7 227.2,227.0 232.5,224.8 237.9,223.2 243.2,222.5 248.6,222.7 253.9,223.2 259.3,223.9 264.6,224.8 270.0,226.1 275.3,227.8 280.7,229.8 286.0,231.8 291.4,233.7 296.7,235.3 302.1,236.4" stroke="#00BFC4"/>
<path d="M34.5,236.4 39.9,237.1 45.2,237.9 50.6,239.6 55.9,240.7 61.3,242.2 66.6,245.7 72.0,250.4 77.3,255.0 82.7,259.9 88.0,265.1 93.4,271.1 98.7,276.1 104.1,278.5 109.4,278.7 114.8,277.5 120.1,274.9 125.5,271.6 130.8,268.2 136.2,264.8 141.5,262.5 146.9,261.3 152.2,261.3 157.6,262.6 162.9,265.5 168.3,270.2 173.7,275.8 179.0,282.1 184.4,288.0 189.7,292.7 195.1,296.5 200.4,299.8 205.8,302.9 211.1,305.4 216.5,307.0 221.8,307.5 227.2,306.6 232.5,304.2 237.9,301.1 243.2,297.3 248.6,293.5 253.9,289.8 259.3,285.9 264.6,281.3 270.0,275.9 275.3,269.8 280.7,262.8 286.0,255.5 291.4,248.6 296.7,242.2 302.1,236.4" stroke="#F8766D"/>
<path d="M34.5,236.4 39.9,235.5 45.2,234.7 50.6,234.3 55.9,233.9 61.3,234.2 66.6,236.2 72.0,239.3 77.3,242.3 82.7,245.5 88.0,248.8 93.4,252.6 98.7,256.4 104.1,258.9 109.4,259.9 114.8,260.2 120.1,260.3 125.5,259.7 130.8,259.3 136.2,258.7 141.5,258.1 146.9,257.7 152.2,257.8 157.6,258.6 162.9,260.2 168.3,263.2 173.7,267.3 179.0,271.7 184.4,276.2 189.7,279.8 195.1,282.4 200.4,284.3 205.8,285.4 211.1,286.0 216.5,285.8 221.8,284.5 227.2,281.9 232.5,278.4 237.9,274.2 243.2,269.7 248.6,265.3 253.9,262.2 259.3,259.8 264.6,257.5 270.0,255.3 275.3,253.0 280.7,250.0 286.0,246.7 291.4,243.3 296.7,239.9 302.1,236.4" stroke="#F8766D"/>
<path d="M34.5,236.4 39.9,235.7 45.2,234.7 50.6,234.1 55.9,233.8 61.3,234.4 66.6,237.0 72.0,241.9 77.3,247.8 82.7,253.9 88.0,260.7 93.4,267.8 98.7,275.9 104.1,283.3 109.4,288.3 114.8,289.8 120.1,289.1 125.5,287.0 130.8,283.8 136.2,280.1 141.5,275.6 146.9,270.4 152.2,266.7 157.6,264.4 162.9,263.5 168.3,263.8 173.7,265.8 179.0,269.0 184.4,272.7 189.7,277.0 195.1,280.8 200.4,284.2 205.8,287.5 211.1,290.9 216.5,294.2 221.8,297.3 227.2,299.6 232.5,300.7 237.9,300.1 243.2,298.2 248.6,294.7 253.9,290.4 259.3,285.7 264.6,280.5 270.0,274.7 275.3,268.8 280.7,262.6 286.0,256.0 291.4,249.7 296.7,243.2 302.1,236.4" stroke="#F8766D"/>
<path d="M34.5,236.4 39.9,226.6 45.2,217.4 50.6,209.4 55.9,203.2 61.3,200.1 66.6,202.4 72.0,207.7 77.3,214.3 82.7,221.8 88.0,228.8 93.4,235.6 98.7,240.9 104.1,243.8 109.4,245.2 114.8,245.8 120.1,245.6 125.5,245.6 130.8,246.0 136.2,246.6 141.5,246.9 146.9,247.4 152.2,248.1 157.6,249.4 162.9,251.9 168.3,255.3 173.7,259.2 179.0,263.3 184.4,266.5 189.7,269.0 195.1,270.4 200.4,270.3 205.8,268.7 211.1,265.7 216.5,260.8 221.8,254.1 227.2,247.0 232.5,239.8 237.9,233.3 243.2,227.9 248.6,225.8 253.9,225.9 259.3,227.3 264.6,229.7 270.0,232.3 275.3,234.3 280.7,235.5 286.0,236.1 291.4,236.2 296.7,236.3 302.1,236.4" stroke="#F8766D"/>
<path d="M34.5,236.4 39.9,233.3 45.2,230.9 50.6,230.7 55.9,232.1 61.3,234.2 66.6,236.9 72.0,240.1 77.3,243.5 82.7,246.7 88.0,250.2 93.4,253.9 98.7,258.1 104.1,262.0 109.4,264.8 114.8,266.0 120.1,265.9 125.5,264.7 130.8,262.5 136.2,260.1 141.5,257.7 146.9,255.5 152.2,253.8 157.6,252.6 162.9,252.5 168.3,253.5 173.7,255.5 179.0,258.3 184.4,260.8 189.7,262.9 195.1,263.8 200.4,263.1 205.8,261.2 211.1,258.1 216.5,253.7 221.8,248.8 227.2,243.4 232.5,238.0 237.9,233.9 243.2,230.9 248.6,229.0 253.9,228.6 259.3,229.9 264.6,231.8 270.0,233.7 275.3,235.4 280.7,236.5 286.0,237.0 291.4,237.0 296.7,236.8 302.1,236.4" stroke="#00BFC4"/>
<path d="M34.5,236.4 39.9,229.9 45.2,223.9 50.6,218.8 55.9,214.8 61.3,212.5 66.6,214.0 72.0,217.9 77.3,222.4 82.7,227.7 88.0,232.9 93.4,238.2 98.7,242.8 104.1,245.5 109.4,246.8 114.8,247.6 120.1,247.7 125.5,247.6 130.8,247.8 136.2,248.2 141.5,248.6 146.9,248.6 152.2,248.8 157.6,249.2 162.9,250.3 168.3,252.2 173.7,254.6 179.0,257.3 184.4,259.8 189.7,261.7 195.1,263.4 200.4,264.2 205.8,263.8 211.1,262.6 216.5,260.6 221.8,257.0 227.2,252.8 232.5,248.3 237.9,243.9 243.2,239.2 248.6,236.1 253.9,234.8 259.3,234.4 264.6,234.8 270.0,235.7 275.3,236.6 280.7,237.2 286.0,237.5 291.4,237.5 296.7,237.1 302.1,236.4" stroke="#F8766D"/>
<path d="M34.5,236.4 39.9,233.8 45.2,232.3 50.6,233.9 55.9,237.5 61.3,242.1 66.6,247.4 72.0,252.5 77.3,256.9 82.7,260.7 88.0,264.5 93.4,268.3 98.7,271.0 104.1,271.9 109.4,271.6 114.8,270.4 120.1,268.0 125.5,265.6 130.8,263.0 136.2,260.5 141.5,258.3 146.9,256.8 152.2,257.0 157.6,258.4 162.9,260.7 168.3,263.5 173.7,265.7 179.0,267.7 184.4,268.8 189.7,269.0 195.1,268.7 200.4,267.7 205.8,266.1 211.1,264.2 216.5,261.7 221.8,258.7 227.2,256.0 232.5,253.3 237.9,250.5 243.2,247.7 248.6,245.3 253.9,243.3 259.3,241.3 264.6,239.3 270.0,237.5 275.3,236.0 280.7,235.0 286.0,234.6 291.4,234.7 296.7,235.4 302.1,236.4" stroke="#00BFC4"/>
<path d="M34.5,236.4 39.9,232.1 45.2,228.3 50.6,225.6 55.9,223.7 61.3,222.9 66.6,223.9 72.0,227.4 77.3,231.7 82.7,235.9 88.0,240.4 93.4,244.7 98.7,249.3 104.1,253.5 109.4,256.2 114.8,257.4 120.1,257.8 125.5,257.8 130.8,257.1 136.2,256.5 141.5,255.9 146.9,255.3 152.2,254.8 157.6,254.7 162.9,255.1 168.3,256.1 173.7,258.3 179.0,261.8 184.4,265.7 189.7,270.1 195.1,274.0 200.4,277.2 205.8,279.9 211.1,281.9 216.5,283.3 221.8,284.0 227.2,283.7 232.5,282.0 237.9,279.2 243.2,275.4 248.6,270.9 253.9,266.7 259.3,263.3 264.6,260.2 270.0,257.2 275.3,254.3 280.7,251.0 286.0,247.4 291.4,243.7 296.7,240.1 302.1,236.4" stroke="#F8766D"/>
<path d="M34.5,236.4 39.9,230.2 45.2,224.7 50.6,220.7 55.9,218.2 61.3,218.1 66.6,221.9 72.0,227.7 77.3,233.7 82.7,240.0 88.0,246.0 93.4,252.1 98.7,256.8 104.1,259.1 109.4,259.9 114.8,259.9 120.1,259.0 125.5,258.1 130.8,257.2 136.2,256.4 141.5,256.0 146.9,255.9 152.2,256.6 157.6,258.1 162.9,260.9 168.3,265.0 173.7,269.4 179.0,274.0 184.4,277.8 189.7,280.5 195.1,282.2 200.4,283.0 205.8,282.7 211.1,281.3 216.5,278.3 221.8,273.2 227.2,266.8 232.5,259.2 237.9,251.2 243.2,242.9 248.6,236.4 253.9,231.9 259.3,228.9 264.6,227.6 270.0,227.6 275.3,228.5 280.7,229.9 286.0,231.6 291.4,233.3 296.7,235.0 302.1,236.4" stroke="#F8766D"/>
<path d="M34.5,236.4 39.9,229.4 45.2,222.5 50.6,216.5 55.9,211.4 61.3,207.9 66.6,208.1 72.0,211.4 77.3,215.7 82.7,220.9 88.0,226.3 93.4,231.5 98.7,236.5 104.1,240.0 109.4,241.9 114.8,243.1 120.1,244.0 125.5,244.5 130.8,245.3 136.2,246.4 141.5,247.4 146.9,248.1 152.2,248.6 157.6,249.4 162.9,250.5 168.3,252.7 173.7,255.7 179.0,259.1 184.4,262.8 189.7,265.8 195.1,268.4 200.4,270.2 205.8,270.9 211.1,270.5 216.5,269.2 221.8,266.3 227.2,261.8 232.5,256.4 237.9,250.2 243.2,243.3 248.6,236.7 253.9,232.0 259.3,228.4 264.6,226.0 270.0,224.9 275.3,224.9 280.7,225.7 286.0,227.4 291.4,229.8 296.7,232.9 302.1,236.4" stroke="#F8766D"/>
<path d="M34.5,236.4 39.9,238.4 45.2,239.9 50.6,241.7 55.9,244.5 61.3,247.7 66.6,251.3 72.0,255.3 77.3,259.6 82.7,263.8 88.0,267.8 93.4,271.9 98.7,276.4 104.1,281.3 109.4,285.6 114.8,288.2 120.1,289.1 125.5,288.5 130.8,286.4 136.2,282.8 141.5,278.7 146.9,274.3 152.2,269.9 157.6,265.9 162.9,262.8 168.3,262.1 173.7,263.4 179.0,265.5 184.4,268.5 189.7,271.2 195.1,273.9 200.4,276.2 205.8,278.0 211.1,279.7 216.5,281.3 221.8,282.5 227.2,283.6 232.5,284.0 237.9,284.3 243.2,284.2 248.6,282.1 253.9,279.5 259.3,276.8 264.6,274.1 270.0,270.6 275.3,266.3 280.7,260.6 286.0,253.4 291.4,246.9 296.7,241.3 302.1,236.4" stroke="#00BFC4"/>
<path d="M34.5,236.4 39.9,230.3 45.2,224.3 50.6,219.2 55.9,215.1 61.3,212.4 66.6,211.7 72.0,214.4 77.3,219.6 82.7,225.6 88.0,232.1 93.4,238.7 98.7,245.1 104.1,251.4 109.4,256.8 114.8,260.2 120.1,261.6 125.5,261.8 130.8,261.1 136.2,259.5 141.5,257.9 146.9,256.4 152.2,255.2 157.6,254.5 162.9,254.3 168.3,254.7 173.7,256.0 179.0,258.6 184.4,262.7 189.7,267.6 195.1,273.1 200.4,278.1 205.8,282.1 211.1,285.4 216.5,287.8 221.8,289.3 227.2,289.7 232.5,288.0 237.9,284.1 243.2,278.2 248.6,270.8 253.9,262.3 259.3,255.1 264.6,249.0 270.0,244.0 275.3,240.4 280.7,237.9 286.0,236.4 291.4,235.7 296.7,235.9 302.1,236.4" stroke="#F8766D"/>
<path d="M34.5,236.4 39.9,229.9 45.2,224.1 50.6,222.2 55.9,224.0 61.3,227.1 66.6,230.7 72.0,234.7 77.3,238.9 82.7,242.7 88.0,245.6 93.4,247.6 98.7,248.9 104.1,249.7 109.4,250.1 114.8,250.2 120.1,250.0 125.5,249.3 130.8,248.2 136.2,247.0 141.5,245.6 146.9,244.0 152.2,242.2 157.6,240.3 162.9,238.3 168.3,236.4 173.7,234.6 179.0,232.9 184.4,231.2 189.7,229.3 195.1,227.1 200.4,224.4 205.8,221.1 211.1,217.9 216.5,214.6 221.8,211.3 227.2,208.7 232.5,207.1 237.9,206.3 243.2,205.5 248.6,204.9 253.9,205.2 259.3,206.5 264.6,208.7 270.0,212.0 275.3,216.1 280.7,220.1 286.0,224.4 291.4,228.7 296.7,232.7 302.1,236.4" stroke="#00BFC4"/>
<path d="M34.5,236.4 39.9,233.0 45.2,230.2 50.6,230.5 55.9,233.1 61.3,237.2 66.6,242.3 72.0,247.7 77.3,252.7 82.7,256.9 88.0,260.7 93.4,264.2 98.7,267.1 104.1,268.4 109.4,268.0 114.8,266.6 120.1,264.5 125.5,261.9 130.8,259.6 136.2,257.4 141.5,255.5 146.9,254.0 152.2,253.0 157.6,253.2 162.9,254.2 168.3,256.0 173.7,258.0 179.0,259.6 184.4,260.8 189.7,260.9 195.1,260.2 200.4,258.9 205.8,257.1 211.1,254.7 216.5,252.2 221.8,249.4 227.2,246.4 232.5,244.1 237.9,242.1 243.2,240.0 248.6,238.3 253.9,237.2 259.3,236.4 264.6,235.6 270.0,234.8 275.3,234.3 280.7,234.1 286.0,234.3 291.4,234.8 296.7,235.6 302.1,236.4" stroke="#00BFC4"/>
<path d="M34.5,236.4 39.9,230.5 45.2,225.1 50.6,223.3 55.9,223.8 61.3,226.1 66.6,229.7 72.0,234.0 77.3,238.1 82.7,241.9 88.0,245.5 93.4,248.8 98.7,251.4 104.1,252.8 109.4,252.6 114.8,251.6 120.1,249.9 125.5,248.0 130.8,246.3 136.2,245.2 141.5,244.5 146.9,244.2 152.2,244.2 157.6,244.1 162.9,244.3 168.3,245.5 173.7,247.7 179.0,250.0 184.4,252.4 189.7,254.2 195.1,255.3 200.4,255.7 205.8,255.3 211.1,254.1 216.5,252.5 221.8,250.5 227.2,248.1 232.5,246.4 237.9,245.1 243.2,243.9 248.6,243.0 253.9,242.4 259.3,241.9 264.6,240.9 270.0,239.4 275.3,237.8 280.7,236.2 286.0,235.1 291.4,234.7 296.7,235.2 302.1,236.4" stroke="#00BFC4"/>
<path d="M34.5,236.4 39.9,231.0 45.2,226.0 50.6,222.3 55.9,219.6 61.3,218.9 66.6,221.4 72.0,226.4 77.3,231.9 82.7,237.8 88.0,243.8 93.4,249.8 98.7,255.4 104.1,259.1 109.4,260.8 114.8,261.4 120.1,261.1 125.5,260.0 130.8,258.9 136.2,257.7 141.5,256.6 146.9,255.9 152.2,255.8 157.6,256.3 162.9,257.8 168.3,260.7 173.7,264.4 179.0,268.6 184.4,272.9 189.7,276.4 195.1,279.2 200.4,281.5 205.8,283.0 211.1,283.9 216.5,284.0 221.8,282.8 227.2,280.3 232.5,276.6 237.9,271.9 243.2,266.4 248.6,261.0 253.9,256.6 259.3,252.7 264.6,249.2 270.0,246.3 275.3,243.8 280.7,241.5 286.0,239.5 291.4,238.1 296.7,237.1 302.1,236.4" stroke="#F8766D"/>
<path d="M34.5,236.4 39.9,229.8 45.2,224.3 50.6,222.8 55.9,223.9 61.3,226.7 66.6,230.6 72.0,234.9 77.3,238.7 82.7,242.2 88.0,245.5 93.4,248.7 98.7,251.6 104.1,253.4 109.4,254.2 114.8,254.4 120.1,253.8 125.5,252.7 130.8,251.6 136.2,250.4 141.5,249.3 146.9,248.3 152.2,247.6 157.6,247.0 162.9,246.7 168.3,247.2 173.7,247.7 179.0,248.1 184.4,248.4 189.7,248.0 195.1,247.3 200.4,246.2 205.8,244.5 211.1,242.4 216.5,240.1 221.8,237.4 227.2,234.6 232.5,232.6 237.9,230.9 243.2,229.3 248.6,228.4 253.9,228.5 259.3,229.1 264.6,229.7 270.0,230.5 275.3,231.4 280.7,232.4 286.0,233.4 291.4,234.4 296.7,235.5 302.1,236.4" stroke="#00BFC4"/>
<path d="M34.5,236.4 39.9,232.5 45.2,228.7 50.6,225.7 55.9,223.1 61.3,222.5 66.6,225.0 72.0,229.4 77.3,234.3 82.7,240.2 88.0,245.6 93.4,249.8 98.7,253.4 104.1,256.1 109.4,258.0 114.8,259.4 120.1,260.4 125.5,261.1 130.8,261.7 136.2,262.6 141.5,264.1 146.9,266.1 152.2,268.6 157.6,271.5 162.9,274.6 168.3,277.9 173.7,281.4 179.0,285.3 184.4,289.7 189.7,295.1 195.1,303.4 200.4,312.6 205.8,321.2 211.1,328.4 216.5,331.9 221.8,333.4 227.2,334.0 232.5,334.1 237.9,333.6 243.2,332.1 248.6,329.2 253.9,324.9 259.3,319.1 264.6,311.4 270.0,301.6 275.3,288.6 280.7,274.4 286.0,260.6 291.4,249.9 296.7,242.1 302.1,236.4" stroke="#F8766D"/>
<path d="M34.5,236.4 39.9,231.5 45.2,227.2 50.6,226.5 55.9,227.8 61.3,230.7 66.6,234.5 72.0,238.6 77.3,242.1 82.7,245.3 88.0,248.4 93.4,251.6 98.7,254.3 104.1,256.0 109.4,256.9 114.8,257.2 120.1,256.9 125.5,256.1 130.8,255.3 136.2,254.4 141.5,253.5 146.9,252.6 152.2,252.5 157.6,253.3 162.9,254.9 168.3,257.3 173.7,259.2 179.0,260.8 184.4,261.6 189.7,261.1 195.1,259.7 200.4,257.3 205.8,253.9 211.1,249.7 216.5,245.0 221.8,239.4 227.2,233.9 232.5,229.0 237.9,224.5 243.2,220.4 248.6,217.6 253.9,216.3 259.3,216.0 264.6,216.5 270.0,217.8 275.3,220.0 280.7,223.1 286.0,226.7 291.4,230.1 296.7,233.5 302.1,236.4" stroke="#00BFC4"/>
<path d="M34.5,236.4 39.9,227.7 45.2,218.9 50.6,210.8 55.9,203.3 61.3,197.8 66.6,195.1 72.0,196.4 77.3,199.9 82.7,204.3 88.0,209.7 93.4,215.4 98.7,221.3 104.1,227.0 109.4,231.4 114.8,234.1 120.1,235.8 125.5,237.0 130.8,237.6 136.2,238.3 141.5,239.5 146.9,241.0 152.2,242.1 157.6,243.0 162.9,243.9 168.3,244.7 173.7,246.0 179.0,248.2 184.4,250.7 189.7,253.6 195.1,256.2 200.4,259.1 205.8,261.8 211.1,263.1 216.5,263.2 221.8,262.2 227.2,259.4 232.5,254.8 237.9,249.1 243.2,242.6 248.6,235.4 253.9,229.3 259.3,225.6 264.6,223.4 270.0,222.9 275.3,224.0 280.7,225.8 286.0,228.3 291.4,231.1 296.7,233.9 302.1,236.4" stroke="#F8766D"/>
<path d="M34.5,236.4 39.9,230.4 45.2,226.4 50.6,226.9 55.9,229.7 61.3,233.9 66.6,238.7 72.0,243.1 77.3,246.7 82.7,249.7 88.0,252.6 93.4,255.3 98.7,257.0 104.1,257.6 109.4,257.5 114.8,256.9 120.1,255.7 125.5,254.7 130.8,253.5 136.2,252.5 141.5,251.5 146.9,251.0 152.2,251.1 157.6,251.7 162.9,253.1 168.3,254.4 173.7,255.2 179.0,255.2 184.4,254.2 189.7,252.2 195.1,249.4 200.4,245.9 205.8,241.7 211.1,237.3 216.5,232.5 221.8,227.8 227.2,224.1 232.5,221.3 237.9,219.2 243.2,218.0 248.6,218.3 253.9,219.7 259.3,221.5 264.6,223.5 270.0,225.6 275.3,227.7 280.7,229.7 286.0,231.6 291.4,233.2 296.7,234.8 302.1,236.4" stroke="#00BFC4"/>
<path d="M34.5,236.4 39.9,231.8 45.2,227.8 50.6,227.8 55.9,231.8 61.3,236.4 66.6,240.2 72.0,244.2 77.3,248.1 82.7,251.7 88.0,254.8 93.4,257.5 98.7,259.9 104.1,261.8 109.4,263.3 114.8,264.1 120.1,263.9 125.5,262.8 130.8,261.3 136.2,260.0 141.5,259.4 146.9,259.8 152.2,260.6 157.6,261.8 162.9,263.0 168.3,264.1 173.7,264.9 179.0,265.7 184.4,266.5 189.7,267.5 195.1,268.7 200.4,270.2 205.8,271.9 211.1,273.8 216.5,275.8 221.8,277.9 227.2,280.4 232.5,283.2 237.9,285.9 243.2,288.1 248.6,289.9 253.9,291.1 259.3,291.1 264.6,289.3 270.0,285.4 275.3,278.9 280.7,270.9 286.0,261.6 291.4,252.2 296.7,243.8 302.1,236.4" stroke="#00BFC4"/>
<path d="M34.5,236.4 39.9,234.0 45.2,232.0 50.6,231.2 55.9,231.3 61.3,233.3 66.6,237.9 72.0,243.0 77.3,247.7 82.7,252.3 88.0,257.1 93.4,262.1 98.7,265.4 104.1,266.9 109.4,267.6 114.8,267.8 120.1,267.3 125.5,266.6 130.8,265.2 136.2,263.6 141.5,262.6 146.9,262.3 152.2,262.7 157.6,264.0 162.9,266.4 168.3,268.9 173.7,271.3 179.0,273.3 184.4,274.3 189.7,275.2 195.1,276.0 200.4,276.9 205.8,278.1 211.1,279.6 216.5,281.1 221.8,282.4 227.2,283.2 232.5,282.9 237.9,281.3 243.2,278.3 248.6,274.5 253.9,269.8 259.3,264.6 264.6,259.3 270.0,254.5 275.3,250.4 280.7,246.9 286.0,244.1 291.4,241.6 296.7,239.2 302.1,236.4" stroke="#F8766D"/>
<path d="M34.5,236.4 39.9,235.8 45.2,235.5 50.6,237.0 55.9,240.1 61.3,244.0 66.6,248.2 72.0,252.8 77.3,257.0 82.7,260.4 88.0,263.3 93.4,266.1 98.7,269.0 104.1,271.4 109.4,272.4 114.8,272.3 120.1,271.4 125.5,269.8 130.8,267.5 136.2,265.4 141.5,263.2 146.9,261.1 152.2,259.2 157.6,258.0 162.9,258.7 168.3,260.9 173.7,264.2 179.0,268.4 184.4,272.2 189.7,275.7 195.1,278.2 200.4,279.6 205.8,280.1 211.1,279.8 216.5,278.5 221.8,276.5 227.2,273.5 232.5,270.0 237.9,266.5 243.2,262.9 248.6,259.1 253.9,255.6 259.3,252.5 264.6,249.6 270.0,246.6 275.3,243.9 280.7,241.4 286.0,239.2 291.4,237.7 296.7,236.9 302.1,236.4" stroke="#00BFC4"/>
<path d="M34.5,236.4 39.9,233.1 45.2,230.1 50.6,228.1 55.9,227.0 61.3,227.6 66.6,231.0 72.0,235.7 77.3,240.3 82.7,245.1 88.0,249.8 93.4,254.9 98.7,259.1 104.1,261.2 109.4,262.0 114.8,262.1 120.1,261.5 125.5,260.6 130.8,259.6 136.2,258.5 141.5,257.6 146.9,257.2 152.2,257.6 157.6,258.7 162.9,261.2 168.3,265.1 173.7,269.6 179.0,274.8 184.4,279.8 189.7,284.1 195.1,287.9 200.4,291.5 205.8,294.9 211.1,298.0 216.5,300.3 221.8,301.2 227.2,300.4 232.5,297.5 237.9,293.0 243.2,286.8 248.6,280.0 253.9,273.4 259.3,266.9 264.6,260.9 270.0,255.6 275.3,251.0 280.7,247.0 286.0,243.6 291.4,240.8 296.7,238.5 302.1,236.4" stroke="#F8766D"/>
<path d="M34.5,236.4 39.9,230.5 45.2,225.9 50.6,224.9 55.9,226.5 61.3,229.4 66.6,233.0 72.0,237.0 77.3,240.7 82.7,243.8 88.0,246.7 93.4,249.4 98.7,252.1 104.1,254.3 109.4,255.3 114.8,255.3 120.1,254.6 125.5,253.2 130.8,251.5 136.2,249.8 141.5,248.3 146.9,247.1 152.2,246.3 157.6,245.7 162.9,245.2 168.3,245.1 173.7,246.2 179.0,247.9 184.4,250.0 189.7,252.1 195.1,253.6 200.4,254.3 205.8,254.2 211.1,252.8 216.5,250.2 221.8,246.8 227.2,242.1 232.5,237.3 237.9,233.0 243.2,229.2 248.6,226.0 253.9,224.5 259.3,224.5 264.6,225.4 270.0,226.8 275.3,228.5 280.7,230.3 286.0,232.0 291.4,233.5 296.7,235.0 302.1,236.4" stroke="#00BFC4"/>
<path d="M34.5,236.4 39.9,239.0 45.2,242.3 50.6,247.1 55.9,252.7 61.3,258.2 66.6,263.5 72.0,267.9 77.3,271.0 82.7,273.2 88.0,275.4 93.4,277.5 98.7,278.3 104.1,277.4 109.4,275.6 114.8,273.3 120.1,270.4 125.5,267.8 130.8,265.2 136.2,263.0 141.5,261.1 146.9,260.5 152.2,262.4 157.6,266.0 162.9,271.1 168.3,276.6 173.7,281.8 179.0,286.5 184.4,289.9 189.7,292.0 195.1,293.1 200.4,293.2 205.8,292.1 211.1,290.3 216.5,287.5 221.8,284.0 227.2,280.7 232.5,277.4 237.9,274.3 243.2,271.5 248.6,269.2 253.9,267.4 259.3,265.6 264.6,263.5 270.0,261.1 275.3,258.1 280.7,254.1 286.0,249.7 291.4,245.4 296.7,241.0 302.1,236.4" stroke="#00BFC4"/>
<path d="M34.5,236.4 39.9,239.0 45.2,241.9 50.6,246.2 55.9,251.8 61.3,257.7 66.6,263.7 72.0,269.2 77.3,273.5 82.7,276.6 88.0,279.3 93.4,281.9 98.7,283.2 104.1,282.4 109.4,280.2 114.8,277.3 120.1,273.5 125.5,269.7 130.8,266.3 136.2,263.0 141.5,260.2 146.9,258.0 152.2,257.5 157.6,258.4 162.9,260.2 168.3,262.8 173.7,265.1 179.0,267.5 184.4,269.5 189.7,271.1 195.1,272.4 200.4,273.6 205.8,274.3 211.1,274.6 216.5,274.3 221.8,273.0 227.2,271.2 232.5,269.0 237.9,266.4 243.2,263.3 248.6,260.3 253.9,257.8 259.3,255.4 264.6,253.2 270.0,251.0 275.3,248.8 280.7,246.3 286.0,243.6 291.4,241.1 296.7,238.7 302.1,236.4" stroke="#00BFC4"/>
<path d="M34.5,236.4 39.9,230.6 45.2,225.0 50.6,220.2 55.9,215.8 61.3,213.3 66.6,213.7 72.0,216.2 77.3,220.1 82.7,225.8 88.0,231.8 93.4,237.5 98.7,243.1 104.1,247.9 109.4,252.0 114.8,254.8 120.1,256.2 125.5,256.9 130.8,257.4 136.2,258.1 141.5,259.4 146.9,261.4 152.2,263.7 157.6,266.4 162.9,269.6 168.3,273.3 173.7,278.7 179.0,285.5 184.4,291.8 189.7,296.8 195.1,301.5 200.4,306.0 205.8,311.0 211.1,316.2 216.5,320.7 221.8,323.6 227.2,324.7 232.5,324.7 237.9,324.6 243.2,324.1 248.6,322.9 253.9,320.9 259.3,317.4 264.6,311.0 270.0,301.6 275.3,290.9 280.7,279.7 286.0,267.5 291.4,255.7 296.7,245.3 302.1,236.4" stroke="#F8766D"/>
<path d="M34.5,236.4 39.9,231.7 45.2,227.8 50.6,227.7 55.9,230.0 61.3,233.9 66.6,238.6 72.0,243.6 77.3,247.8 82.7,251.5 88.0,254.9 93.4,258.3 98.7,261.5 104.1,263.5 109.4,264.4 114.8,264.6 120.1,263.9 125.5,262.4 130.8,260.7 136.2,258.7 141.5,256.6 146.9,254.6 152.2,253.3 157.6,252.9 162.9,253.2 168.3,254.3 173.7,255.6 179.0,257.1 184.4,258.9 189.7,260.6 195.1,262.4 200.4,264.4 205.8,266.2 211.1,267.7 216.5,269.0 221.8,269.3 227.2,269.1 232.5,268.5 237.9,267.3 243.2,265.3 248.6,262.8 253.9,260.2 259.3,257.2 264.6,253.8 270.0,250.2 275.3,246.8 280.7,243.4 286.0,240.6 291.4,238.7 296.7,237.4 302.1,236.4" stroke="#00BFC4"/>
<path d="M34.5,236.4 39.9,228.5 45.2,221.0 50.6,215.2 55.9,210.9 61.3,208.7 66.6,209.1 72.0,211.5 77.3,215.6 82.7,221.7 88.0,227.1 93.4,230.1 98.7,230.8 104.1,228.5 109.4,225.3 114.8,222.9 120.1,221.6 125.5,222.2 130.8,224.0 136.2,226.8 141.5,230.7 146.9,234.6 152.2,237.8 157.6,240.4 162.9,242.8 168.3,245.6 173.7,249.2 179.0,253.1 184.4,256.4 189.7,259.3 195.1,261.9 200.4,264.1 205.8,266.2 211.1,268.3 216.5,269.5 221.8,268.7 227.2,265.6 232.5,260.9 237.9,255.4 243.2,250.0 248.6,245.6 253.9,241.9 259.3,238.5 264.6,235.5 270.0,233.2 275.3,231.8 280.7,231.5 286.0,232.3 291.4,233.6 296.7,235.1 302.1,236.4" stroke="#F8766D"/>
<path d="M34.5,236.4 39.9,237.1 45.2,237.9 50.6,239.4 55.9,241.1 61.3,243.5 66.6,247.3 72.0,252.0 77.3,256.3 82.7,260.4 88.0,264.7 93.4,269.6 98.7,274.6 104.1,277.9 109.4,279.2 114.8,279.4 120.1,278.7 125.5,276.8 130.8,274.6 136.2,271.6 141.5,268.5 146.9,266.6 152.2,265.8 157.6,266.3 162.9,268.0 168.3,271.5 173.7,276.2 179.0,281.2 184.4,286.4 189.7,290.4 195.1,293.2 200.4,295.5 205.8,297.7 211.1,299.8 216.5,301.4 221.8,302.5 227.2,302.7 232.5,301.8 237.9,300.1 243.2,297.7 248.6,294.8 253.9,292.0 259.3,288.7 264.6,284.5 270.0,279.3 275.3,273.3 280.7,266.2 286.0,258.5 291.4,250.9 296.7,243.6 302.1,236.4" stroke="#F8766D"/>
<path d="M34.5,236.4 39.9,234.0 45.2,232.2 50.6,231.5 55.9,231.8 61.3,234.1 66.6,239.3 72.0,245.5 77.3,251.4 82.7,257.4 88.0,263.4 93.4,269.5 98.7,273.5 104.1,274.7 109.4,274.2 114.8,272.5 120.1,269.7 125.5,266.8 130.8,263.8 136.2,261.3 141.5,259.9 146.9,259.6 152.2,260.4 157.6,262.5 162.9,266.6 168.3,272.0 173.7,278.3 179.0,285.0 184.4,291.0 189.7,296.1 195.1,300.8 200.4,305.5 205.8,309.9 211.1,312.9 216.5,315.0 221.8,316.1 227.2,315.6 232.5,311.7 237.9,306.0 243.2,298.7 248.6,290.9 253.9,283.0 259.3,275.2 264.6,267.8 270.0,261.3 275.3,255.5 280.7,250.4 286.0,246.0 291.4,242.4 296.7,239.3 302.1,236.4" stroke="#F8766D"/>
<path d="M34.5,236.4 39.9,234.5 45.2,235.2 50.6,239.8 55.9,246.7 61.3,254.3 66.6,261.9 72.0,268.8 77.3,274.3 82.7,278.3 88.0,281.5 93.4,284.8 98.7,287.3 104.1,287.8 109.4,286.7 114.8,284.7 120.1,281.7 125.5,278.2 130.8,275.0 136.2,271.6 141.5,268.7 146.9,266.0 152.2,265.1 157.6,267.2 162.9,270.9 168.3,275.8 173.7,280.3 179.0,284.0 184.4,286.6 189.7,287.4 195.1,286.8 200.4,285.2 205.8,282.7 211.1,279.5 216.5,276.3 221.8,272.6 227.2,269.3 232.5,266.7 237.9,264.6 243.2,262.8 248.6,261.2 253.9,260.0 259.3,258.5 264.6,256.5 270.0,254.0 275.3,251.1 280.7,247.8 286.0,244.4 291.4,241.6 296.7,239.0 302.1,236.4" stroke="#00BFC4"/>
<path d="M34.5,236.4 39.9,235.1 45.2,234.6 50.6,236.9 55.9,241.2 61.3,246.6 66.6,252.9 72.0,259.5 77.3,265.5 82.7,271.0 88.0,276.2 93.4,281.5 98.7,285.7 104.1,287.4 109.4,286.8 114.8,284.5 120.1,280.5 125.5,275.6 130.8,270.9 136.2,266.3 141.5,262.3 146.9,259.1 152.2,257.5 157.6,257.8 162.9,259.1 168.3,261.6 173.7,264.2 179.0,266.9 184.4,269.5 189.7,271.4 195.1,272.8 200.4,273.7 205.8,273.8 211.1,273.2 216.5,271.9 221.8,269.5 227.2,266.7 232.5,263.8 237.9,260.8 243.2,257.6 248.6,254.9 253.9,252.9 259.3,251.4 264.6,249.9 270.0,248.7 275.3,247.5 280.7,245.9 286.0,243.9 291.4,241.7 296.7,239.3 302.1,236.4" stroke="#00BFC4"/>
<path d="M34.5,236.4 39.9,234.9 45.2,234.1 50.6,234.7 55.9,236.5 61.3,240.6 66.6,247.3 72.0,254.9 77.3,261.9 82.7,268.8 88.0,275.8 93.4,282.9 98.7,287.7 104.1,289.2 109.4,288.4 114.8,285.7 120.1,281.4 125.5,276.6 130.8,271.4 136.2,267.1 141.5,264.4 146.9,263.3 152.2,263.6 157.6,265.5 162.9,269.5 168.3,274.9 173.7,281.2 179.0,288.0 184.4,294.0 189.7,298.9 195.1,303.5 200.4,306.8 205.8,310.0 211.1,312.8 216.5,314.9 221.8,316.1 227.2,315.7 232.5,314.0 237.9,311.4 243.2,308.0 248.6,304.0 253.9,299.8 259.3,294.9 264.6,287.9 270.0,280.5 275.3,272.7 280.7,264.6 286.0,256.8 291.4,249.6 296.7,242.8 302.1,236.4" stroke="#F8766D"/>
<path d="M34.5,236.4 39.9,233.7 45.2,232.3 50.6,234.2 55.9,238.0 61.3,242.8 66.6,248.1 72.0,252.9 77.3,256.5 82.7,259.3 88.0,261.6 93.4,263.5 98.7,264.1 104.1,263.1 109.4,261.4 114.8,259.3 120.1,257.0 125.5,255.1 130.8,253.6 136.2,252.4 141.5,251.5 146.9,251.1 152.2,251.5 157.6,252.8 162.9,255.1 168.3,258.0 173.7,260.5 179.0,262.8 184.4,264.2 189.7,264.8 195.1,264.7 200.4,264.0 205.8,262.5 211.1,260.7 216.5,258.5 221.8,255.6 227.2,253.1 232.5,250.6 237.9,248.0 243.2,245.4 248.6,243.2 253.9,241.5 259.3,240.0 264.6,238.6 270.0,237.5 275.3,236.7 280.7,236.2 286.0,236.1 291.4,236.2 296.7,236.4 302.1,236.4" stroke="#00BFC4"/>
</g>
<line x1="19.50" x2="20.9" y1="190.20" y2="190.20" stroke="#333" stroke-width="0.5"/>
<line x1="19.50" x2="20.9" y1="236.37" y2="236.37" stroke="#333" stroke-width="0.5"/>
<line x1="19.50" x2="20.9" y1="282.53" y2="282.53" stroke="#333" stroke-width="0.5"/>
<line x1="19.50" x2="20.9" y1="328.70" y2="328.70" stroke="#333" stroke-width="0.5"/>
<line x1="34.50" x2="34.50" y1="341.3" y2="342.70" stroke="#333" stroke-width="0.5"/>
<line x1="101.40" x2="101.40" y1="341.3" y2="342.70" stroke="#333" stroke-width="0.5"/>
<line x1="168.30" x2="168.30" y1="341.3" y2="342.70" stroke="#333" stroke-width="0.5"/>
<line x1="235.20" x2="235.20" y1="341.3" y2="342.70" stroke="#333" stroke-width="0.5"/>
<line x1="302.10" x2="302.10" y1="341.3" y2="342.70" stroke="#333" stroke-width="0.5"/>
<rect x="323.00" y="256.40" width="8.6" height="16.0" fill="#F2F2F2"/>
<line x1="323.80" x2="330.80" y1="260.40" y2="260.40" stroke="#F8766D" stroke-width="0.9"/>
<line x1="323.80" x2="330.80" y1="268.40" y2="268.40" stroke="#00BFC4" stroke-width="0.9"/>
<rect x="366.0" y="179.9" width="294.90" height="161.40" fill="#EBEBEB"/>
<line x1="366.0" x2="660.9" y1="185.55" y2="185.55" stroke="#fff" stroke-width="0.4"/>
<line x1="366.0" x2="660.9" y1="225.45" y2="225.45" stroke="#fff" stroke-width="0.4"/>
<line x1="366.0" x2="660.9" y1="265.35" y2="265.35" stroke="#fff" stroke-width="0.4"/>
<line x1="366.0" x2="660.9" y1="305.25" y2="305.25" stroke="#fff" stroke-width="0.4"/>
<line x1="413.06" x2="413.06" y1="179.9" y2="341.3" stroke="#fff" stroke-width="0.4"/>
<line x1="480.19" x2="480.19" y1="179.9" y2="341.3" stroke="#fff" stroke-width="0.4"/>
<line x1="547.31" x2="547.31" y1="179.9" y2="341.3" stroke="#fff" stroke-width="0.4"/>
<line x1="614.44" x2="614.44" y1="179.9" y2="341.3" stroke="#fff" stroke-width="0.4"/>
<line x1="366.0" x2="660.9" y1="205.50" y2="205.50" stroke="#fff" stroke-width="0.75"/>
<line x1="366.0" x2="660.9" y1="245.40" y2="245.40" stroke="#fff" stroke-width="0.75"/>
<line x1="366.0" x2="660.9" y1="285.30" y2="285.30" stroke="#fff" stroke-width="0.75"/>
<line x1="366.0" x2="660.9" y1="325.20" y2="325.20" stroke="#fff" stroke-width="0.75"/>
<line x1="379.50" x2="379.50" y1="179.9" y2="341.3" stroke="#fff" stroke-width="0.75"/>
<line x1="446.62" x2="446.62" y1="179.9" y2="341.3" stroke="#fff" stroke-width="0.75"/>
<line x1="513.75" x2="513.75" y1="179.9" y2="341.3" stroke="#fff" stroke-width="0.75"/>
<line x1="580.88" x2="580.88" y1="179.9" y2="341.3" stroke="#fff" stroke-width="0.75"/>
<line x1="648.00" x2="648.00" y1="179.9" y2="341.3" stroke="#fff" stroke-width="0.75"/>
<g fill="none" stroke-width="1.0" stroke-linejoin="round">
<path d="M379.5,205.5 384.9,202.6 390.2,200.8 395.6,201.7 401.0,204.5 406.4,208.4 411.7,212.7 417.1,217.3 422.5,222.1 427.8,227.2 433.2,232.2 438.6,237.1 443.9,241.7 449.3,245.7 454.7,249.3 460.1,252.3 465.4,254.7 470.8,256.7 476.2,258.3 481.5,259.5 486.9,260.5 492.3,261.3 497.6,261.9 503.0,262.2 508.4,261.4 513.8,260.0 519.1,258.6 524.5,256.9 529.9,255.5 535.2,254.4 540.6,253.3 546.0,252.1 551.3,250.8 556.7,249.4 562.1,247.9 567.5,246.3 572.8,244.4 578.2,242.1 583.6,239.4 588.9,236.3 594.3,232.7 599.7,228.8 605.0,224.7 610.4,221.0 615.8,217.7 621.1,214.6 626.5,211.7 631.9,209.4 637.3,207.7 642.6,206.5 648.0,205.5" stroke="#00BFC4"/>
<path d="M379.5,205.5 384.9,205.4 390.2,205.8 395.6,208.1 401.0,212.0 406.4,216.3 411.7,220.5 417.1,224.7 422.5,228.9 427.8,233.1 433.2,237.5 438.6,241.8 443.9,246.0 449.3,250.0 454.7,253.8 460.1,257.3 465.4,260.6 470.8,263.7 476.2,266.7 481.5,269.6 486.9,272.5 492.3,275.3 497.6,277.7 503.0,279.7 508.4,280.5 513.8,280.4 519.1,279.9 524.5,278.7 529.9,277.4 535.2,276.2 540.6,274.5 546.0,272.1 551.3,269.2 556.7,266.0 562.1,262.8 567.5,259.5 572.8,256.3 578.2,253.1 583.6,249.7 588.9,246.4 594.3,243.0 599.7,239.3 605.0,235.5 610.4,232.1 615.8,229.0 621.1,225.6 626.5,221.6 631.9,217.2 637.3,213.1 642.6,209.4 648.0,205.5" stroke="#00BFC4"/>
<path d="M379.5,205.5 384.9,207.0 390.2,208.5 395.6,211.5 401.0,216.0 406.4,220.9 411.7,225.6 417.1,230.4 422.5,235.2 427.8,240.2 433.2,245.5 438.6,250.9 443.9,256.6 449.3,262.4 454.7,268.1 460.1,273.7 465.4,278.9 470.8,283.8 476.2,288.5 481.5,292.9 486.9,297.1 492.3,301.1 497.6,304.2 503.0,306.2 508.4,307.2 513.8,307.0 519.1,306.2 524.5,304.6 529.9,302.7 535.2,301.0 540.6,299.2 546.0,296.5 551.3,292.9 556.7,289.0 562.1,285.3 567.5,281.6 572.8,277.9 578.2,274.5 583.6,270.6 588.9,266.4 594.3,261.8 599.7,256.3 605.0,250.1 610.4,244.2 615.8,238.9 621.1,233.4 626.5,227.3 631.9,220.8 637.3,215.1 642.6,210.2 648.0,205.5" stroke="#00BFC4"/>
<path d="M379.5,205.5 384.9,209.5 390.2,214.7 395.6,221.5 401.0,229.3 406.4,237.4 411.7,245.6 417.1,253.6 422.5,260.9 427.8,267.4 433.2,273.3 438.6,278.4 443.9,283.0 449.3,287.7 454.7,292.5 460.1,297.3 465.4,302.2 470.8,307.1 476.2,311.1 481.5,314.4 486.9,317.2 492.3,319.9 497.6,322.1 503.0,323.2 508.4,323.2 513.8,322.0 519.1,319.4 524.5,315.5 529.9,310.7 535.2,304.8 540.6,298.7 546.0,293.3 551.3,288.9 556.7,285.1 562.1,281.4 567.5,277.3 572.8,272.8 578.2,268.0 583.6,263.1 588.9,258.2 594.3,253.4 599.7,248.6 605.0,243.8 610.4,239.0 615.8,234.2 621.1,229.4 626.5,224.7 631.9,219.9 637.3,215.1 642.6,210.3 648.0,205.5" stroke="#00BFC4"/>
<path d="M379.5,205.5 384.9,206.9 390.2,209.1 395.6,213.4 401.0,218.7 406.4,224.9 411.7,231.4 417.1,238.2 422.5,245.2 427.8,252.4 433.2,259.8 438.6,267.8 443.9,276.1 449.3,284.1 454.7,291.5 460.1,297.9 465.4,303.6 470.8,308.7 476.2,313.1 481.5,315.5 486.9,317.0 492.3,316.9 497.6,314.7 503.0,310.3 508.4,304.3 513.8,297.2 519.1,289.1 524.5,280.8 529.9,272.7 535.2,265.3 540.6,259.2 546.0,254.4 551.3,251.0 556.7,248.5 562.1,246.7 567.5,245.4 572.8,244.0 578.2,242.7 583.6,241.2 588.9,239.3 594.3,237.0 599.7,234.2 605.0,231.0 610.4,227.4 615.8,223.7 621.1,220.1 626.5,216.8 631.9,213.8 637.3,210.9 642.6,208.2 648.0,205.5" stroke="#F8766D"/>
<path d="M379.5,205.5 384.9,200.9 390.2,198.4 395.6,199.2 401.0,202.5 406.4,207.1 411.7,212.4 417.1,217.9 422.5,223.6 427.8,229.2 433.2,234.5 438.6,239.3 443.9,243.2 449.3,246.3 454.7,248.7 460.1,250.6 465.4,251.9 470.8,252.9 476.2,253.7 481.5,254.4 486.9,255.0 492.3,255.3 497.6,255.2 503.0,253.6 508.4,251.0 513.8,248.0 519.1,244.2 524.5,240.1 529.9,235.6 535.2,232.2 540.6,229.6 546.0,227.2 551.3,224.9 556.7,222.6 562.1,220.5 567.5,218.3 572.8,216.2 578.2,214.2 583.6,212.3 588.9,210.7 594.3,209.5 599.7,208.6 605.0,207.9 610.4,207.3 615.8,206.7 621.1,206.2 626.5,205.9 631.9,206.0 637.3,205.9 642.6,205.8 648.0,205.5" stroke="#00BFC4"/>
<path d="M379.5,205.5 384.9,202.8 390.2,201.9 395.6,204.1 401.0,208.5 406.4,214.0 411.7,219.8 417.1,225.4 422.5,230.9 427.8,236.2 433.2,241.3 438.6,245.9 443.9,249.9 449.3,253.1 454.7,255.6 460.1,257.5 465.4,258.9 470.8,259.9 476.2,260.7 481.5,261.1 486.9,260.8 492.3,259.5 497.6,256.1 503.0,251.8 508.4,246.9 513.8,241.5 519.1,236.5 524.5,231.6 529.9,227.2 535.2,223.7 540.6,221.1 546.0,219.0 551.3,217.3 556.7,215.8 562.1,214.4 567.5,213.0 572.8,211.7 578.2,210.5 583.6,209.6 588.9,208.9 594.3,208.3 599.7,207.7 605.0,207.0 610.4,206.3 615.8,205.7 621.1,205.2 626.5,205.0 631.9,204.9 637.3,205.0 642.6,205.2 648.0,205.5" stroke="#F8766D"/>
<path d="M379.5,205.5 384.9,206.8 390.2,208.2 395.6,210.5 401.0,214.4 406.4,219.3 411.7,224.5 417.1,229.6 422.5,234.8 427.8,240.0 433.2,245.3 438.6,250.6 443.9,255.9 449.3,261.2 454.7,266.6 460.1,271.9 465.4,276.9 470.8,281.5 476.2,285.6 481.5,289.2 486.9,292.5 492.3,295.6 497.6,298.8 503.0,301.9 508.4,304.8 513.8,306.8 519.1,308.0 524.5,307.9 529.9,306.8 535.2,304.9 540.6,302.0 546.0,298.9 551.3,295.7 556.7,291.6 562.1,286.3 567.5,280.8 572.8,275.6 578.2,270.8 583.6,266.6 588.9,263.0 594.3,259.6 599.7,256.3 605.0,252.7 610.4,248.1 615.8,243.4 621.1,238.7 626.5,233.1 631.9,225.6 637.3,218.0 642.6,211.6 648.0,205.5" stroke="#00BFC4"/>
<path d="M379.5,205.5 384.9,200.2 390.2,196.4 395.6,195.8 401.0,197.6 406.4,201.1 411.7,205.3 417.1,210.1 422.5,215.6 427.8,221.5 433.2,227.6 438.6,233.9 443.9,240.0 449.3,245.7 454.7,251.0 460.1,255.5 465.4,259.0 470.8,261.6 476.2,263.3 481.5,264.2 486.9,264.3 492.3,263.5 497.6,261.8 503.0,258.7 508.4,253.6 513.8,247.8 519.1,241.3 524.5,236.6 529.9,232.0 535.2,227.2 540.6,222.6 546.0,218.7 551.3,215.2 556.7,212.2 562.1,209.3 567.5,206.6 572.8,203.9 578.2,201.5 583.6,200.0 588.9,199.1 594.3,198.9 599.7,199.1 605.0,199.5 610.4,200.1 615.8,200.7 621.1,201.4 626.5,202.1 631.9,203.0 637.3,203.9 642.6,204.7 648.0,205.5" stroke="#F8766D"/>
<path d="M379.5,205.5 384.9,204.0 390.2,202.9 395.6,203.9 401.0,206.7 406.4,210.8 411.7,215.6 417.1,220.6 422.5,225.8 427.8,231.0 433.2,236.4 438.6,241.9 443.9,247.6 449.3,253.3 454.7,258.9 460.1,264.1 465.4,268.9 470.8,273.3 476.2,277.4 481.5,281.4 486.9,285.3 492.3,289.1 497.6,292.6 503.0,295.3 508.4,296.7 513.8,296.6 519.1,295.9 524.5,294.2 529.9,291.9 535.2,288.9 540.6,285.1 546.0,280.8 551.3,276.0 556.7,270.8 562.1,265.0 567.5,258.8 572.8,252.5 578.2,246.1 583.6,240.0 588.9,234.2 594.3,229.1 599.7,224.7 605.0,220.9 610.4,217.6 615.8,214.8 621.1,212.4 626.5,210.5 631.9,209.1 637.3,207.8 642.6,206.6 648.0,205.5" stroke="#F8766D"/>
<path d="M379.5,205.5 384.9,203.7 390.2,202.9 395.6,204.4 401.0,207.9 406.4,212.6 411.7,217.9 417.1,223.5 422.5,229.0 427.8,234.7 433.2,240.6 438.6,246.8 443.9,253.1 449.3,259.3 454.7,265.3 460.1,270.6 465.4,275.5 470.8,279.7 476.2,283.6 481.5,287.0 486.9,290.2 492.3,292.6 497.6,293.9 503.0,293.5 508.4,291.4 513.8,288.3 519.1,284.1 524.5,279.1 529.9,273.7 535.2,267.9 540.6,262.1 546.0,256.5 551.3,251.1 556.7,245.9 562.1,240.9 567.5,236.1 572.8,231.5 578.2,227.2 583.6,223.3 588.9,219.9 594.3,217.2 599.7,215.0 605.0,213.1 610.4,211.5 615.8,210.0 621.1,208.8 626.5,207.8 631.9,207.1 637.3,206.5 642.6,206.0 648.0,205.5" stroke="#F8766D"/>
<path d="M379.5,205.5 384.9,205.3 390.2,205.3 395.6,207.5 401.0,211.0 406.4,214.9 411.7,219.0 417.1,223.2 422.5,227.8 427.8,232.8 433.2,238.1 438.6,243.6 443.9,249.1 449.3,254.6 454.7,260.1 460.1,265.5 465.4,270.7 470.8,275.6 476.2,280.5 481.5,285.2 486.9,289.6 492.3,293.0 497.6,295.6 503.0,296.7 508.4,296.9 513.8,296.3 519.1,295.0 524.5,293.5 529.9,292.0 535.2,289.9 540.6,286.7 546.0,282.9 551.3,278.9 556.7,274.9 562.1,270.9 567.5,266.9 572.8,263.2 578.2,259.3 583.6,255.4 588.9,251.6 594.3,247.5 599.7,243.2 605.0,239.2 610.4,235.7 615.8,232.4 621.1,228.6 626.5,224.0 631.9,219.0 637.3,214.4 642.6,210.1 648.0,205.5" stroke="#00BFC4"/>
<path d="M379.5,205.5 384.9,197.5 390.2,191.1 395.6,187.8 401.0,187.3 406.4,189.9 411.7,196.5 417.1,205.0 422.5,213.5 427.8,221.8 433.2,229.4 438.6,236.2 443.9,242.9 449.3,249.4 454.7,255.6 460.1,261.4 465.4,266.9 470.8,272.3 476.2,277.3 481.5,281.7 486.9,285.3 492.3,288.3 497.6,290.8 503.0,292.6 508.4,293.5 513.8,293.3 519.1,291.9 524.5,289.4 529.9,286.0 535.2,281.9 540.6,277.3 546.0,271.8 551.3,265.3 556.7,258.4 562.1,251.5 567.5,245.4 572.8,239.9 578.2,234.7 583.6,229.8 588.9,225.4 594.3,221.5 599.7,218.2 605.0,215.4 610.4,213.1 615.8,211.2 621.1,209.5 626.5,208.2 631.9,207.3 637.3,206.7 642.6,206.2 648.0,205.5" stroke="#F8766D"/>
<path d="M379.5,205.5 384.9,202.8 390.2,200.5 395.6,200.3 401.0,202.0 406.4,205.2 411.7,209.5 417.1,214.5 422.5,219.7 427.8,225.0 433.2,230.7 438.6,236.5 443.9,242.5 449.3,248.6 454.7,254.5 460.1,260.2 465.4,265.4 470.8,269.9 476.2,273.9 481.5,277.4 486.9,280.7 492.3,284.0 497.6,287.3 503.0,290.4 508.4,293.0 513.8,294.5 519.1,294.7 524.5,294.1 529.9,292.5 535.2,290.1 540.6,286.9 546.0,282.6 551.3,277.7 556.7,272.0 562.1,265.9 567.5,259.3 572.8,252.5 578.2,245.9 583.6,239.7 588.9,234.2 594.3,229.5 599.7,225.9 605.0,223.1 610.4,220.7 615.8,218.6 621.1,216.5 626.5,214.5 631.9,212.5 637.3,210.3 642.6,208.0 648.0,205.5" stroke="#F8766D"/>
<path d="M379.5,205.5 384.9,205.0 390.2,205.2 395.6,207.6 401.0,212.1 406.4,217.9 411.7,224.5 417.1,231.5 422.5,238.8 427.8,246.3 433.2,254.0 438.6,262.0 443.9,270.1 449.3,277.7 454.7,284.3 460.1,289.5 465.4,293.6 470.8,296.9 476.2,299.7 481.5,302.3 486.9,305.1 492.3,307.6 497.6,309.6 503.0,310.5 508.4,310.6 513.8,310.3 519.1,309.3 524.5,307.7 529.9,305.2 535.2,301.7 540.6,297.3 546.0,291.9 551.3,285.7 556.7,278.7 562.1,271.3 567.5,263.8 572.8,256.6 578.2,249.8 583.6,243.8 588.9,238.6 594.3,234.3 599.7,230.5 605.0,227.3 610.4,224.3 615.8,221.5 621.1,218.7 626.5,216.1 631.9,213.5 637.3,210.9 642.6,208.2 648.0,205.5" stroke="#F8766D"/>
<path d="M379.5,205.5 384.9,206.0 390.2,206.4 395.6,207.7 401.0,210.2 406.4,213.5 411.7,217.0 417.1,220.4 422.5,224.0 427.8,227.8 433.2,231.9 438.6,236.3 443.9,240.9 449.3,245.7 454.7,250.5 460.1,255.1 465.4,259.2 470.8,262.6 476.2,265.3 481.5,267.2 486.9,268.3 492.3,268.7 497.6,268.7 503.0,268.5 508.4,268.1 513.8,267.6 519.1,267.2 524.5,266.1 529.9,264.7 535.2,263.6 540.6,262.5 546.0,261.9 551.3,261.5 556.7,261.0 562.1,260.0 567.5,258.4 572.8,256.5 578.2,254.1 583.6,251.1 588.9,247.7 594.3,243.7 599.7,239.2 605.0,234.4 610.4,229.5 615.8,225.1 621.1,221.4 626.5,217.8 631.9,214.2 637.3,210.9 642.6,208.2 648.0,205.5" stroke="#00BFC4"/>
<path d="M379.5,205.5 384.9,202.0 390.2,199.8 395.6,200.4 401.0,202.6 406.4,205.3 411.7,208.3 417.1,211.5 422.5,215.0 427.8,218.7 433.2,222.7 438.6,226.8 443.9,230.4 449.3,233.8 454.7,236.9 460.1,239.7 465.4,242.1 470.8,244.2 476.2,247.0 481.5,250.4 486.9,253.8 492.3,257.1 497.6,259.0 503.0,260.1 508.4,260.9 513.8,261.1 519.1,261.2 524.5,261.3 529.9,261.0 535.2,260.3 540.6,259.1 546.0,257.6 551.3,256.0 556.7,254.1 562.1,252.1 567.5,249.9 572.8,247.5 578.2,244.8 583.6,242.0 588.9,238.9 594.3,235.6 599.7,232.1 605.0,229.0 610.4,226.1 615.8,223.2 621.1,220.1 626.5,216.7 631.9,213.5 637.3,210.6 642.6,208.1 648.0,205.5" stroke="#00BFC4"/>
<path d="M379.5,205.5 384.9,204.4 390.2,204.2 395.6,206.6 401.0,210.3 406.4,214.4 411.7,218.9 417.1,224.3 422.5,230.6 427.8,237.8 433.2,245.7 438.6,254.0 443.9,262.5 449.3,270.7 454.7,278.0 460.1,284.2 465.4,289.1 470.8,292.4 476.2,294.2 481.5,293.8 486.9,291.6 492.3,287.6 497.6,282.6 503.0,277.5 508.4,272.5 513.8,268.3 519.1,265.0 524.5,262.5 529.9,260.3 535.2,258.5 540.6,256.8 546.0,255.0 551.3,252.8 556.7,250.0 562.1,246.6 567.5,242.3 572.8,237.5 578.2,232.5 583.6,227.6 588.9,223.3 594.3,219.8 599.7,217.5 605.0,216.1 610.4,215.3 615.8,214.9 621.1,214.3 626.5,213.4 631.9,212.0 637.3,210.2 642.6,208.1 648.0,205.5" stroke="#00BFC4"/>
<path d="M379.5,205.5 384.9,203.4 390.2,202.5 395.6,204.3 401.0,208.0 406.4,212.2 411.7,216.7 417.1,221.3 422.5,226.1 427.8,230.9 433.2,235.6 438.6,240.0 443.9,243.8 449.3,246.9 454.7,249.6 460.1,251.6 465.4,253.1 470.8,254.2 476.2,254.9 481.5,255.3 486.9,255.5 492.3,255.6 497.6,255.0 503.0,253.3 508.4,251.5 513.8,249.6 519.1,247.7 524.5,246.3 529.9,245.1 535.2,244.2 540.6,243.5 546.0,242.9 551.3,242.3 556.7,241.7 562.1,241.0 567.5,240.1 572.8,238.9 578.2,237.2 583.6,235.1 588.9,232.6 594.3,229.5 599.7,226.1 605.0,222.8 610.4,219.7 615.8,216.7 621.1,213.8 626.5,211.1 631.9,209.0 637.3,207.5 642.6,206.4 648.0,205.5" stroke="#00BFC4"/>
<path d="M379.5,205.5 384.9,210.5 390.2,217.0 395.6,225.4 401.0,235.5 406.4,245.4 411.7,253.9 417.1,261.7 422.5,268.9 427.8,275.4 433.2,281.3 438.6,286.4 443.9,290.9 449.3,295.7 454.7,300.7 460.1,305.2 465.4,308.8 470.8,311.9 476.2,314.5 481.5,316.7 486.9,318.8 492.3,321.4 497.6,323.7 503.0,324.7 508.4,324.6 513.8,323.6 519.1,321.7 524.5,318.9 529.9,315.1 535.2,310.1 540.6,305.2 546.0,301.2 551.3,297.3 556.7,293.4 562.1,289.5 567.5,285.3 572.8,280.8 578.2,276.2 583.6,271.4 588.9,266.5 594.3,261.4 599.7,256.0 605.0,250.5 610.4,244.8 615.8,239.1 621.1,233.4 626.5,227.8 631.9,222.3 637.3,216.7 642.6,211.1 648.0,205.5" stroke="#00BFC4"/>
<path d="M379.5,205.5 384.9,204.6 390.2,204.5 395.6,206.8 401.0,211.1 406.4,216.4 411.7,222.0 417.1,228.0 422.5,234.1 427.8,240.4 433.2,246.8 438.6,253.2 443.9,259.6 449.3,265.7 454.7,271.5 460.1,276.7 465.4,281.1 470.8,284.8 476.2,287.9 481.5,290.6 486.9,292.8 492.3,294.8 497.6,295.8 503.0,296.0 508.4,295.3 513.8,293.6 519.1,291.5 524.5,289.0 529.9,286.5 535.2,284.5 540.6,282.6 546.0,280.4 551.3,277.8 556.7,275.3 562.1,273.2 567.5,271.2 572.8,269.4 578.2,267.8 583.6,265.9 588.9,263.6 594.3,260.8 599.7,256.9 605.0,251.9 610.4,246.8 615.8,242.0 621.1,236.7 626.5,230.2 631.9,223.1 637.3,216.7 642.6,211.1 648.0,205.5" stroke="#00BFC4"/>
<path d="M379.5,205.5 384.9,201.3 390.2,198.0 395.6,197.3 401.0,198.6 406.4,201.2 411.7,204.4 417.1,208.3 422.5,212.5 427.8,217.1 433.2,222.1 438.6,227.2 443.9,232.1 449.3,236.8 454.7,241.2 460.1,245.4 465.4,249.3 470.8,252.8 476.2,255.9 481.5,258.6 486.9,260.9 492.3,262.8 497.6,264.1 503.0,264.9 508.4,264.4 513.8,262.6 519.1,260.4 524.5,257.7 529.9,254.7 535.2,251.8 540.6,248.9 546.0,245.9 551.3,242.9 556.7,240.1 562.1,237.4 567.5,234.9 572.8,232.5 578.2,230.1 583.6,227.9 588.9,225.7 594.3,223.6 599.7,221.6 605.0,219.7 610.4,217.9 615.8,216.3 621.1,214.5 626.5,212.6 631.9,210.6 637.3,208.7 642.6,207.1 648.0,205.5" stroke="#00BFC4"/>
<path d="M379.5,205.5 384.9,204.6 390.2,203.4 395.6,203.7 401.0,205.3 406.4,208.1 411.7,211.4 417.1,215.6 422.5,220.5 427.8,225.8 433.2,231.6 438.6,237.2 443.9,242.4 449.3,246.9 454.7,250.1 460.1,252.3 465.4,253.3 470.8,253.5 476.2,253.4 481.5,253.3 486.9,253.5 492.3,254.2 497.6,255.3 503.0,256.7 508.4,257.8 513.8,257.8 519.1,255.8 524.5,252.6 529.9,247.9 535.2,242.0 540.6,236.4 546.0,233.4 551.3,230.5 556.7,227.9 562.1,225.4 567.5,222.9 572.8,220.5 578.2,218.2 583.6,215.8 588.9,215.6 594.3,217.5 599.7,219.0 605.0,219.4 610.4,218.9 615.8,217.6 621.1,215.8 626.5,213.7 631.9,211.4 637.3,209.4 642.6,207.6 648.0,205.5" stroke="#00BFC4"/>
<path d="M379.5,205.5 384.9,203.6 390.2,202.6 395.6,204.0 401.0,207.5 406.4,212.3 411.7,217.6 417.1,223.0 422.5,228.6 427.8,234.0 433.2,239.3 438.6,244.4 443.9,249.1 449.3,253.4 454.7,257.1 460.1,260.1 465.4,262.5 470.8,264.3 476.2,265.7 481.5,266.9 486.9,267.9 492.3,269.0 497.6,270.2 503.0,271.3 508.4,272.3 513.8,272.7 519.1,272.1 524.5,271.3 529.9,270.1 535.2,268.8 540.6,267.5 546.0,266.1 551.3,264.2 556.7,261.9 562.1,259.3 567.5,256.7 572.8,254.0 578.2,251.3 583.6,248.5 588.9,245.5 594.3,242.3 599.7,238.8 605.0,234.8 610.4,230.7 615.8,226.9 621.1,223.2 626.5,219.1 631.9,214.8 637.3,211.1 642.6,208.1 648.0,205.5" stroke="#00BFC4"/>
<path d="M379.5,205.5 384.9,203.3 390.2,201.5 395.6,202.2 401.0,205.1 406.4,209.5 411.7,214.5 417.1,219.9 422.5,225.6 427.8,231.5 433.2,237.4 438.6,243.8 443.9,250.7 449.3,257.5 454.7,263.9 460.1,269.3 465.4,273.7 470.8,277.3 476.2,280.4 481.5,283.0 486.9,285.3 492.3,287.3 497.6,288.7 503.0,289.9 508.4,290.8 513.8,291.7 519.1,292.4 524.5,293.0 529.9,293.5 535.2,293.9 540.6,294.4 546.0,294.9 551.3,295.5 556.7,296.1 562.1,296.8 567.5,297.3 572.8,297.8 578.2,298.2 583.6,298.3 588.9,297.6 594.3,296.0 599.7,293.3 605.0,289.9 610.4,284.6 615.8,270.9 621.1,252.8 626.5,237.0 631.9,222.2 637.3,213.7 642.6,208.3 648.0,205.5" stroke="#00BFC4"/>
<path d="M379.5,205.5 384.9,207.7 390.2,210.9 395.6,216.8 401.0,223.9 406.4,230.3 411.7,236.3 417.1,241.7 422.5,246.8 427.8,251.5 433.2,256.0 438.6,260.2 443.9,263.8 449.3,267.1 454.7,269.9 460.1,272.6 465.4,275.3 470.8,278.2 476.2,281.3 481.5,284.2 486.9,286.6 492.3,288.2 497.6,288.5 503.0,288.2 508.4,287.0 513.8,285.4 519.1,283.5 524.5,281.2 529.9,277.9 535.2,273.7 540.6,269.0 546.0,264.2 551.3,259.4 556.7,254.7 562.1,250.2 567.5,246.1 572.8,242.2 578.2,238.7 583.6,235.8 588.9,233.2 594.3,230.8 599.7,228.7 605.0,227.0 610.4,225.3 615.8,223.3 621.1,220.7 626.5,217.5 631.9,214.3 637.3,211.3 642.6,208.4 648.0,205.5" stroke="#00BFC4"/>
<path d="M379.5,205.5 384.9,202.1 390.2,200.1 395.6,201.3 401.0,205.0 406.4,210.3 411.7,216.5 417.1,222.9 422.5,229.6 427.8,236.5 433.2,243.6 438.6,251.0 443.9,258.3 449.3,265.2 454.7,271.6 460.1,277.1 465.4,281.9 470.8,286.4 476.2,290.7 481.5,295.1 486.9,299.5 492.3,303.6 497.6,306.8 503.0,308.9 508.4,310.1 513.8,310.8 519.1,310.6 524.5,309.5 529.9,307.2 535.2,303.7 540.6,299.1 546.0,293.3 551.3,286.4 556.7,278.7 562.1,270.6 567.5,262.6 572.8,254.8 578.2,247.7 583.6,241.5 588.9,236.2 594.3,231.9 599.7,228.3 605.0,225.3 610.4,222.6 615.8,220.1 621.1,217.7 626.5,215.4 631.9,213.1 637.3,210.6 642.6,208.2 648.0,205.5" stroke="#F8766D"/>
<path d="M379.5,205.5 384.9,204.9 390.2,204.9 395.6,206.8 401.0,210.7 406.4,215.6 411.7,220.8 417.1,226.3 422.5,231.9 427.8,237.7 433.2,243.6 438.6,249.5 443.9,255.5 449.3,261.5 454.7,267.4 460.1,273.1 465.4,278.4 470.8,283.4 476.2,288.2 481.5,292.8 486.9,297.3 492.3,301.8 497.6,305.8 503.0,308.7 508.4,310.6 513.8,311.2 519.1,310.7 524.5,309.5 529.9,307.5 535.2,305.3 540.6,303.3 546.0,300.7 551.3,297.1 556.7,293.0 562.1,289.3 567.5,286.0 572.8,283.0 578.2,280.8 583.6,278.7 588.9,276.4 594.3,273.9 599.7,270.2 605.0,264.9 610.4,259.0 615.8,253.3 621.1,246.8 626.5,238.7 631.9,229.0 637.3,220.2 642.6,212.7 648.0,205.5" stroke="#00BFC4"/>
<path d="M379.5,205.5 384.9,203.3 390.2,201.5 395.6,202.2 401.0,205.1 406.4,209.5 411.7,214.5 417.1,219.9 422.5,225.6 427.8,231.5 433.2,237.4 438.6,243.8 443.9,250.7 449.3,257.5 454.7,263.9 460.1,269.3 465.4,273.7 470.8,277.4 476.2,280.4 481.5,283.0 486.9,285.3 492.3,286.4 497.6,286.0 503.0,284.3 508.4,281.5 513.8,277.3 519.1,271.7 524.5,264.9 529.9,257.6 535.2,249.6 540.6,241.4 546.0,233.2 551.3,225.2 556.7,217.9 562.1,211.3 567.5,205.5 572.8,200.6 578.2,196.7 583.6,193.8 588.9,192.0 594.3,191.1 599.7,191.5 605.0,192.7 610.4,194.5 615.8,196.8 621.1,199.1 626.5,200.9 631.9,202.4 637.3,203.7 642.6,204.6 648.0,205.5" stroke="#F8766D"/>
<path d="M379.5,205.5 384.9,202.3 390.2,199.8 395.6,199.7 401.0,201.5 406.4,204.9 411.7,209.0 417.1,213.5 422.5,217.9 427.8,222.3 433.2,226.8 438.6,231.5 443.9,236.1 449.3,240.8 454.7,245.4 460.1,250.0 465.4,254.4 470.8,258.6 476.2,262.5 481.5,266.1 486.9,269.4 492.3,272.2 497.6,274.4 503.0,275.4 508.4,274.9 513.8,272.1 519.1,267.7 524.5,262.1 529.9,255.5 535.2,248.8 540.6,242.0 546.0,235.8 551.3,230.7 556.7,226.9 562.1,224.1 567.5,222.0 572.8,220.5 578.2,219.2 583.6,218.1 588.9,217.1 594.3,216.2 599.7,215.4 605.0,214.4 610.4,213.0 615.8,211.4 621.1,209.7 626.5,208.2 631.9,207.1 637.3,206.2 642.6,205.7 648.0,205.5" stroke="#F8766D"/>
<path d="M379.5,205.5 384.9,204.2 390.2,203.9 395.6,206.1 401.0,210.1 406.4,215.2 411.7,220.7 417.1,226.2 422.5,231.7 427.8,237.2 433.2,242.7 438.6,248.5 443.9,254.5 449.3,260.5 454.7,266.6 460.1,272.5 465.4,278.4 470.8,284.3 476.2,290.1 481.5,295.9 486.9,301.3 492.3,305.8 497.6,308.6 503.0,309.1 508.4,307.5 513.8,304.4 519.1,299.6 524.5,293.6 529.9,286.6 535.2,279.2 540.6,271.8 546.0,264.9 551.3,258.6 556.7,252.7 562.1,247.4 567.5,242.5 572.8,237.9 578.2,233.6 583.6,229.5 588.9,225.7 594.3,222.3 599.7,219.1 605.0,216.2 610.4,213.6 615.8,211.3 621.1,209.5 626.5,208.2 631.9,207.3 637.3,206.6 642.6,206.0 648.0,205.5" stroke="#F8766D"/>
<path d="M379.5,205.5 384.9,202.8 390.2,201.1 395.6,201.8 401.0,204.3 406.4,207.8 411.7,211.9 417.1,216.4 422.5,221.5 427.8,227.0 433.2,232.7 438.6,238.4 443.9,243.6 449.3,248.2 454.7,251.9 460.1,254.5 465.4,256.0 470.8,256.4 476.2,255.8 481.5,254.4 486.9,252.5 492.3,250.3 497.6,248.7 503.0,248.5 508.4,246.8 513.8,244.8 519.1,242.2 524.5,239.4 529.9,237.6 535.2,238.0 540.6,238.7 546.0,239.6 551.3,240.1 556.7,240.0 562.1,239.1 567.5,237.5 572.8,234.9 578.2,231.4 583.6,227.3 588.9,222.8 594.3,218.4 599.7,214.5 605.0,211.5 610.4,209.4 615.8,208.1 621.1,207.4 626.5,207.1 631.9,207.1 637.3,206.9 642.6,206.5 648.0,205.5" stroke="#00BFC4"/>
<path d="M379.5,205.5 384.9,203.7 390.2,202.3 395.6,202.8 401.0,205.2 406.4,208.9 411.7,213.6 417.1,218.8 422.5,224.2 427.8,229.7 433.2,235.4 438.6,241.3 443.9,247.3 449.3,253.7 454.7,260.1 460.1,266.5 465.4,272.8 470.8,278.6 476.2,284.2 481.5,289.5 486.9,294.9 492.3,300.2 497.6,305.7 503.0,311.0 508.4,315.4 513.8,318.4 519.1,319.9 524.5,320.3 529.9,319.7 535.2,317.9 540.6,315.0 546.0,311.0 551.3,306.1 556.7,300.3 562.1,293.8 567.5,286.7 572.8,278.9 578.2,271.2 583.6,263.2 588.9,255.5 594.3,248.1 599.7,241.0 605.0,234.3 610.4,228.3 615.8,222.8 621.1,218.0 626.5,214.1 631.9,211.0 637.3,208.7 642.6,206.9 648.0,205.5" stroke="#F8766D"/>
<path d="M379.5,205.5 384.9,202.0 390.2,199.3 395.6,199.4 401.0,201.7 406.4,205.5 411.7,210.3 417.1,215.5 422.5,220.7 427.8,226.0 433.2,231.4 438.6,236.8 443.9,242.0 449.3,247.0 454.7,251.5 460.1,255.5 465.4,259.1 470.8,262.4 476.2,265.5 481.5,268.7 486.9,271.9 492.3,275.1 497.6,277.9 503.0,280.2 508.4,280.8 513.8,280.3 519.1,279.4 524.5,277.7 529.9,275.8 535.2,273.6 540.6,271.1 546.0,268.3 551.3,265.2 556.7,261.5 562.1,257.0 567.5,252.0 572.8,246.6 578.2,240.9 583.6,235.4 588.9,230.4 594.3,226.1 599.7,222.5 605.0,219.4 610.4,216.8 615.8,214.5 621.1,212.5 626.5,210.8 631.9,209.3 637.3,208.0 642.6,206.7 648.0,205.5" stroke="#F8766D"/>
<path d="M379.5,205.5 384.9,201.5 390.2,199.1 395.6,199.8 401.0,202.8 406.4,207.0 411.7,211.6 417.1,216.0 422.5,220.3 427.8,224.5 433.2,228.8 438.6,233.1 443.9,237.4 449.3,241.9 454.7,246.7 460.1,251.7 465.4,257.0 470.8,262.3 476.2,267.7 481.5,272.9 486.9,277.6 492.3,281.2 497.6,282.9 503.0,282.3 508.4,280.1 513.8,276.4 519.1,271.3 524.5,265.4 529.9,258.6 535.2,251.5 540.6,244.5 546.0,237.7 551.3,231.4 556.7,225.4 562.1,220.0 567.5,215.1 572.8,210.8 578.2,207.3 583.6,204.7 588.9,203.4 594.3,202.9 599.7,203.1 605.0,203.6 610.4,204.2 615.8,204.8 621.1,205.3 626.5,205.7 631.9,205.9 637.3,205.9 642.6,205.8 648.0,205.5" stroke="#F8766D"/>
<path d="M379.5,205.5 384.9,203.5 390.2,202.1 395.6,202.8 401.0,204.9 406.4,207.5 411.7,210.4 417.1,213.8 422.5,217.8 427.8,222.6 433.2,227.8 438.6,233.3 443.9,238.9 449.3,244.6 454.7,250.2 460.1,255.6 465.4,260.4 470.8,264.5 476.2,267.6 481.5,269.8 486.9,270.7 492.3,270.1 497.6,267.9 503.0,263.7 508.4,258.5 513.8,252.6 519.1,246.3 524.5,240.0 529.9,233.9 535.2,231.2 540.6,228.7 546.0,226.3 551.3,224.0 556.7,221.8 562.1,219.7 567.5,217.6 572.8,215.5 578.2,213.6 583.6,211.8 588.9,210.4 594.3,209.2 599.7,208.4 605.0,207.8 610.4,207.2 615.8,206.6 621.1,206.1 626.5,205.8 631.9,205.7 637.3,205.6 642.6,205.5 648.0,205.5" stroke="#00BFC4"/>
<path d="M379.5,205.5 384.9,203.1 390.2,201.9 395.6,203.5 401.0,207.2 406.4,211.7 411.7,216.8 417.1,222.2 422.5,227.9 427.8,233.8 433.2,239.8 438.6,245.7 443.9,251.4 449.3,256.5 454.7,261.1 460.1,265.1 465.4,268.3 470.8,270.9 476.2,273.0 481.5,274.6 486.9,275.8 492.3,276.3 497.6,276.1 503.0,274.9 508.4,272.6 513.8,270.2 519.1,267.4 524.5,264.7 529.9,262.3 535.2,260.1 540.6,257.8 546.0,255.5 551.3,253.3 556.7,251.3 562.1,249.3 567.5,247.3 572.8,245.3 578.2,243.0 583.6,240.4 588.9,237.6 594.3,234.3 599.7,230.7 605.0,227.0 610.4,223.6 615.8,220.4 621.1,217.2 626.5,214.0 631.9,211.1 637.3,208.9 642.6,207.1 648.0,205.5" stroke="#00BFC4"/>
<path d="M379.5,205.5 384.9,202.3 390.2,199.7 395.6,199.0 401.0,200.0 406.4,202.3 411.7,205.3 417.1,208.7 422.5,212.5 427.8,216.5 433.2,220.8 438.6,225.4 443.9,229.9 449.3,234.4 454.7,238.6 460.1,242.5 465.4,246.0 470.8,249.3 476.2,252.2 481.5,254.7 486.9,256.8 492.3,258.6 497.6,260.1 503.0,261.3 508.4,262.1 513.8,262.5 519.1,261.8 524.5,259.8 529.9,257.6 535.2,254.8 540.6,251.9 546.0,249.1 551.3,246.2 556.7,243.3 562.1,240.6 567.5,238.0 572.8,235.4 578.2,233.1 583.6,230.8 588.9,228.6 594.3,226.4 599.7,224.2 605.0,222.1 610.4,220.0 615.8,218.0 621.1,216.0 626.5,213.7 631.9,211.3 637.3,209.0 642.6,207.2 648.0,205.5" stroke="#00BFC4"/>
<path d="M379.5,205.5 384.9,207.4 390.2,209.7 395.6,214.1 401.0,219.6 406.4,224.7 411.7,229.6 417.1,234.4 422.5,239.4 427.8,244.7 433.2,250.4 438.6,256.5 443.9,262.8 449.3,269.2 454.7,275.5 460.1,281.7 465.4,287.6 470.8,293.1 476.2,298.1 481.5,302.0 486.9,304.3 492.3,304.7 497.6,303.2 503.0,300.2 508.4,296.1 513.8,291.2 519.1,286.3 524.5,281.7 529.9,277.2 535.2,272.7 540.6,268.6 546.0,265.5 551.3,263.3 556.7,261.9 562.1,261.1 567.5,260.8 572.8,260.5 578.2,259.8 583.6,258.7 588.9,256.6 594.3,253.2 599.7,248.9 605.0,244.5 610.4,240.1 615.8,235.3 621.1,229.9 626.5,224.0 631.9,218.5 637.3,213.8 642.6,209.6 648.0,205.5" stroke="#00BFC4"/>
<path d="M379.5,205.5 384.9,202.4 390.2,200.7 395.6,202.3 401.0,206.2 406.4,211.6 411.7,217.7 417.1,223.9 422.5,230.3 427.8,237.0 433.2,243.8 438.6,250.7 443.9,257.4 449.3,263.6 454.7,268.8 460.1,273.2 465.4,276.8 470.8,279.8 476.2,282.2 481.5,284.2 486.9,285.4 492.3,285.6 497.6,284.1 503.0,281.3 508.4,278.1 513.8,274.3 519.1,270.5 524.5,266.6 529.9,262.9 535.2,259.4 540.6,256.2 546.0,253.1 551.3,249.8 556.7,246.2 562.1,242.4 567.5,238.4 572.8,234.2 578.2,230.1 583.6,226.2 588.9,222.7 594.3,219.4 599.7,216.5 605.0,214.0 610.4,211.8 615.8,210.0 621.1,208.6 626.5,207.7 631.9,207.0 637.3,206.5 642.6,206.0 648.0,205.5" stroke="#F8766D"/>
<path d="M379.5,205.5 384.9,203.3 390.2,201.5 395.6,202.2 401.0,205.1 406.4,209.5 411.7,214.4 417.1,219.5 422.5,225.0 427.8,230.9 433.2,237.4 438.6,244.6 443.9,252.5 449.3,260.8 454.7,269.1 460.1,277.3 465.4,285.4 470.8,293.5 476.2,301.5 481.5,309.2 486.9,316.8 492.3,323.8 497.6,329.4 503.0,333.1 508.4,334.2 513.8,333.5 519.1,331.6 524.5,327.6 529.9,323.0 535.2,318.6 540.6,313.2 546.0,305.8 551.3,297.4 556.7,289.2 562.1,280.9 567.5,273.3 572.8,266.5 578.2,259.8 583.6,253.3 588.9,247.2 594.3,241.4 599.7,235.9 605.0,230.7 610.4,225.8 615.8,221.4 621.1,217.5 626.5,214.3 631.9,211.8 637.3,209.7 642.6,207.7 648.0,205.5" stroke="#F8766D"/>
<path d="M379.5,205.5 384.9,206.1 390.2,207.6 395.6,211.2 401.0,216.3 406.4,222.0 411.7,227.7 417.1,233.3 422.5,238.7 427.8,243.9 433.2,248.9 438.6,253.8 443.9,258.4 449.3,262.4 454.7,265.7 460.1,268.4 465.4,270.9 470.8,273.2 476.2,275.5 481.5,278.0 486.9,280.3 492.3,282.2 497.6,283.1 503.0,282.5 508.4,281.2 513.8,279.3 519.1,277.0 524.5,274.6 529.9,272.0 535.2,269.3 540.6,266.8 546.0,264.4 551.3,261.8 556.7,258.8 562.1,255.6 567.5,252.0 572.8,248.1 578.2,243.8 583.6,239.4 588.9,234.8 594.3,230.1 599.7,225.5 605.0,221.2 610.4,217.2 615.8,213.7 621.1,211.0 626.5,209.0 631.9,207.6 637.3,206.7 642.6,206.0 648.0,205.5" stroke="#F8766D"/>
<path d="M379.5,205.5 384.9,203.8 390.2,203.8 395.6,207.0 401.0,212.3 406.4,218.6 411.7,225.1 417.1,231.5 422.5,237.9 427.8,244.1 433.2,250.2 438.6,255.8 443.9,260.6 449.3,264.3 454.7,267.1 460.1,269.2 465.4,270.9 470.8,272.3 476.2,273.7 481.5,274.7 486.9,275.2 492.3,274.1 497.6,272.0 503.0,269.7 508.4,266.9 513.8,264.2 519.1,261.5 524.5,258.7 529.9,256.0 535.2,253.3 540.6,250.5 546.0,247.3 551.3,243.7 556.7,239.9 562.1,235.9 567.5,231.9 572.8,228.0 578.2,224.4 583.6,221.2 588.9,218.5 594.3,216.2 599.7,214.1 605.0,212.4 610.4,210.9 615.8,209.6 621.1,208.6 626.5,207.9 631.9,207.2 637.3,206.6 642.6,206.1 648.0,205.5" stroke="#F8766D"/>
<path d="M379.5,205.5 384.9,203.8 390.2,202.7 395.6,204.0 401.0,207.1 406.4,211.5 411.7,216.5 417.1,221.7 422.5,226.9 427.8,232.2 433.2,237.5 438.6,242.8 443.9,248.2 449.3,253.6 454.7,258.7 460.1,263.6 465.4,268.1 470.8,272.5 476.2,276.9 481.5,281.4 486.9,286.2 492.3,291.2 497.6,296.1 503.0,300.4 508.4,303.4 513.8,305.3 519.1,306.6 524.5,307.1 529.9,306.7 535.2,305.3 540.6,302.7 546.0,299.3 551.3,294.7 556.7,289.1 562.1,282.5 567.5,275.2 572.8,267.7 578.2,260.0 583.6,252.6 588.9,245.6 594.3,239.1 599.7,233.3 605.0,228.2 610.4,223.7 615.8,219.7 621.1,216.3 626.5,213.5 631.9,211.2 637.3,209.1 642.6,207.3 648.0,205.5" stroke="#F8766D"/>
<path d="M379.5,205.5 384.9,203.5 390.2,202.3 395.6,203.5 401.0,206.6 406.4,211.2 411.7,216.5 417.1,222.3 422.5,228.2 427.8,234.2 433.2,240.3 438.6,246.5 443.9,253.0 449.3,259.3 454.7,265.2 460.1,270.5 465.4,275.0 470.8,278.6 476.2,281.5 481.5,284.0 486.9,286.3 492.3,288.4 497.6,290.1 503.0,291.3 508.4,291.4 513.8,290.2 519.1,288.3 524.5,285.8 529.9,282.8 535.2,279.5 540.6,275.7 546.0,271.5 551.3,267.1 556.7,262.4 562.1,257.2 567.5,251.6 572.8,245.8 578.2,239.9 583.6,234.1 588.9,228.8 594.3,224.1 599.7,220.2 605.0,217.0 610.4,214.3 615.8,212.1 621.1,210.4 626.5,209.0 631.9,208.0 637.3,207.1 642.6,206.3 648.0,205.5" stroke="#F8766D"/>
<path d="M379.5,205.5 384.9,205.5 390.2,206.6 395.6,210.3 401.0,215.5 406.4,221.2 411.7,227.0 417.1,232.4 422.5,237.6 427.8,242.6 433.2,247.2 438.6,251.3 443.9,254.6 449.3,257.3 454.7,259.5 460.1,261.6 465.4,263.8 470.8,266.3 476.2,268.8 481.5,271.2 486.9,272.8 492.3,272.8 497.6,272.3 503.0,271.1 508.4,269.6 513.8,267.8 519.1,265.5 524.5,262.7 529.9,259.6 535.2,255.9 540.6,251.6 546.0,246.8 551.3,241.5 556.7,236.0 562.1,230.3 567.5,224.9 572.8,219.8 578.2,215.4 583.6,211.9 588.9,209.0 594.3,206.9 599.7,205.4 605.0,204.4 610.4,203.9 615.8,203.7 621.1,203.8 626.5,204.2 631.9,204.6 637.3,204.9 642.6,205.3 648.0,205.5" stroke="#F8766D"/>
<path d="M379.5,205.5 384.9,202.3 390.2,199.6 395.6,199.5 401.0,201.8 406.4,205.5 411.7,209.8 417.1,214.5 422.5,219.5 427.8,224.5 433.2,229.4 438.6,234.4 443.9,239.4 449.3,244.4 454.7,249.1 460.1,253.4 465.4,257.5 470.8,261.5 476.2,265.1 481.5,267.8 486.9,269.3 492.3,269.6 497.6,268.9 503.0,267.2 508.4,264.7 513.8,261.4 519.1,254.9 524.5,245.7 529.9,237.3 535.2,229.0 540.6,221.5 546.0,214.8 551.3,209.2 556.7,205.4 562.1,203.2 567.5,202.3 572.8,204.4 578.2,207.9 583.6,206.7 588.9,204.7 594.3,203.5 599.7,202.5 605.0,201.7 610.4,201.5 615.8,201.8 621.1,202.5 626.5,203.1 631.9,203.7 637.3,204.3 642.6,204.9 648.0,205.5" stroke="#F8766D"/>
<path d="M379.5,205.5 384.9,204.3 390.2,203.1 395.6,203.4 401.0,205.1 406.4,208.0 411.7,211.6 417.1,215.6 422.5,219.8 427.8,223.9 433.2,228.3 438.6,232.8 443.9,237.5 449.3,242.5 454.7,247.6 460.1,252.8 465.4,258.0 470.8,263.1 476.2,268.1 481.5,272.9 486.9,277.5 492.3,282.2 497.6,286.7 503.0,291.1 508.4,294.8 513.8,297.4 519.1,298.2 524.5,297.8 529.9,296.4 535.2,294.1 540.6,291.0 546.0,287.1 551.3,282.6 556.7,277.6 562.1,272.3 567.5,266.7 572.8,260.6 578.2,254.5 583.6,248.3 588.9,242.3 594.3,236.7 599.7,231.7 605.0,227.1 610.4,223.0 615.8,219.3 621.1,215.9 626.5,213.1 631.9,210.7 637.3,208.7 642.6,207.0 648.0,205.5" stroke="#F8766D"/>
<path d="M379.5,205.5 384.9,205.1 390.2,204.9 395.6,206.2 401.0,209.0 406.4,212.9 411.7,217.4 417.1,222.2 422.5,227.1 427.8,232.1 433.2,237.2 438.6,242.5 443.9,248.1 449.3,253.9 454.7,259.8 460.1,265.6 465.4,271.3 470.8,276.6 476.2,281.8 481.5,286.9 486.9,292.0 492.3,297.3 497.6,302.5 503.0,307.1 508.4,310.5 513.8,312.5 519.1,313.4 524.5,313.6 529.9,312.7 535.2,311.0 540.6,308.2 546.0,304.5 551.3,300.0 556.7,294.7 562.1,288.6 567.5,281.7 572.8,274.6 578.2,267.3 583.6,260.0 588.9,253.0 594.3,246.4 599.7,240.1 605.0,234.3 610.4,229.0 615.8,224.1 621.1,219.8 626.5,216.1 631.9,212.9 637.3,210.2 642.6,207.8 648.0,205.5" stroke="#F8766D"/>
<path d="M379.5,205.5 384.9,206.6 390.2,207.8 395.6,210.5 401.0,215.0 406.4,220.9 411.7,227.4 417.1,233.9 422.5,240.6 427.8,247.4 433.2,254.1 438.6,260.4 443.9,266.1 449.3,272.1 454.7,278.3 460.1,284.6 465.4,289.9 470.8,294.7 476.2,298.9 481.5,302.8 486.9,306.6 492.3,310.4 497.6,314.3 503.0,318.0 508.4,320.8 513.8,322.2 519.1,322.2 524.5,320.7 529.9,318.0 535.2,314.0 540.6,309.2 546.0,304.4 551.3,299.3 556.7,293.3 562.1,286.9 567.5,281.1 572.8,276.4 578.2,272.6 583.6,270.0 588.9,268.2 594.3,266.5 599.7,264.7 605.0,261.7 610.4,256.9 615.8,251.7 621.1,246.0 626.5,238.7 631.9,229.4 637.3,220.2 642.6,212.6 648.0,205.5" stroke="#00BFC4"/>
<path d="M379.5,205.5 384.9,206.2 390.2,207.5 395.6,211.1 401.0,216.5 406.4,222.3 411.7,228.1 417.1,234.1 422.5,240.3 427.8,246.9 433.2,253.7 438.6,260.9 443.9,268.5 449.3,276.1 454.7,283.5 460.1,290.5 465.4,297.0 470.8,303.0 476.2,308.4 481.5,313.2 486.9,317.0 492.3,318.8 497.6,318.8 503.0,316.9 508.4,313.5 513.8,309.0 519.1,303.5 524.5,297.8 529.9,292.2 535.2,286.5 540.6,280.3 546.0,274.2 551.3,268.8 556.7,264.1 562.1,260.1 567.5,256.9 572.8,254.4 578.2,252.1 583.6,250.1 588.9,248.3 594.3,246.1 599.7,243.4 605.0,240.6 610.4,238.0 615.8,235.2 621.1,231.6 626.5,226.8 631.9,221.3 637.3,216.1 642.6,211.0 648.0,205.5" stroke="#00BFC4"/>
<path d="M379.5,205.5 384.9,205.3 390.2,205.4 395.6,207.3 401.0,210.8 406.4,215.4 411.7,220.7 417.1,226.4 422.5,232.2 427.8,238.3 433.2,244.6 438.6,251.2 443.9,258.1 449.3,265.3 454.7,272.3 460.1,278.9 465.4,284.6 470.8,289.7 476.2,294.3 481.5,298.4 486.9,302.4 492.3,306.2 497.6,309.6 503.0,312.0 508.4,313.2 513.8,313.1 519.1,312.3 524.5,310.9 529.9,308.8 535.2,306.2 540.6,302.8 546.0,299.0 551.3,294.6 556.7,289.7 562.1,284.0 567.5,277.7 572.8,271.2 578.2,264.5 583.6,257.7 588.9,251.2 594.3,244.9 599.7,238.9 605.0,233.3 610.4,228.2 615.8,223.4 621.1,219.2 626.5,215.6 631.9,212.6 637.3,209.9 642.6,207.6 648.0,205.5" stroke="#F8766D"/>
<path d="M379.5,205.5 384.9,201.6 390.2,198.4 395.6,197.9 401.0,199.4 406.4,202.5 411.7,206.3 417.1,210.5 422.5,214.5 427.8,218.6 433.2,222.9 438.6,227.3 443.9,231.6 449.3,235.9 454.7,240.1 460.1,244.3 465.4,248.4 470.8,252.3 476.2,256.1 481.5,259.6 486.9,262.9 492.3,265.7 497.6,267.9 503.0,269.1 508.4,268.2 513.8,265.6 519.1,262.1 524.5,257.4 529.9,252.2 535.2,246.6 540.6,240.7 546.0,235.1 551.3,230.0 556.7,225.3 562.1,221.0 567.5,217.0 572.8,213.3 578.2,209.9 583.6,207.0 588.9,204.8 594.3,203.4 599.7,202.8 605.0,202.6 610.4,202.7 615.8,202.9 621.1,203.1 626.5,203.4 631.9,203.9 637.3,204.4 642.6,204.9 648.0,205.5" stroke="#F8766D"/>
<path d="M379.5,205.5 384.9,206.1 390.2,207.8 395.6,212.2 401.0,218.4 406.4,225.0 411.7,231.5 417.1,238.1 422.5,244.7 427.8,251.2 433.2,257.6 438.6,263.8 443.9,269.7 449.3,274.8 454.7,279.1 460.1,282.4 465.4,285.0 470.8,287.0 476.2,288.6 481.5,290.0 486.9,290.6 492.3,290.6 497.6,289.8 503.0,288.1 508.4,286.2 513.8,284.2 519.1,282.2 524.5,280.9 529.9,280.0 535.2,278.9 540.6,277.6 546.0,276.2 551.3,275.0 556.7,273.8 562.1,272.6 567.5,271.4 572.8,270.0 578.2,267.8 583.6,265.0 588.9,261.3 594.3,256.4 599.7,250.7 605.0,245.0 610.4,239.6 615.8,234.3 621.1,228.7 626.5,222.7 631.9,217.2 637.3,212.8 642.6,209.0 648.0,205.5" stroke="#00BFC4"/>
<path d="M379.5,205.5 384.9,204.0 390.2,203.3 395.6,204.9 401.0,208.4 406.4,213.2 411.7,218.7 417.1,224.5 422.5,230.3 427.8,236.3 433.2,242.3 438.6,248.4 443.9,254.5 449.3,260.5 454.7,265.9 460.1,270.5 465.4,274.0 470.8,276.7 476.2,278.6 481.5,279.9 486.9,281.0 492.3,281.7 497.6,281.9 503.0,281.4 508.4,279.8 513.8,276.9 519.1,273.7 524.5,270.0 529.9,266.4 535.2,263.1 540.6,259.8 546.0,256.8 551.3,254.2 556.7,251.6 562.1,248.7 567.5,245.4 572.8,241.8 578.2,237.7 583.6,233.4 588.9,229.1 594.3,225.0 599.7,221.3 605.0,217.8 610.4,214.7 615.8,211.9 621.1,209.7 626.5,208.0 631.9,206.9 637.3,206.1 642.6,205.7 648.0,205.5" stroke="#F8766D"/>
<path d="M379.5,205.5 384.9,202.0 390.2,199.5 395.6,199.7 401.0,201.9 406.4,205.3 411.7,209.4 417.1,213.6 422.5,217.6 427.8,221.4 433.2,225.3 438.6,229.3 443.9,233.3 449.3,237.4 454.7,241.6 460.1,246.2 465.4,251.1 470.8,256.3 476.2,261.7 481.5,267.2 486.9,272.8 492.3,278.2 497.6,282.9 503.0,286.3 508.4,287.6 513.8,286.3 519.1,283.1 524.5,277.7 529.9,270.5 535.2,261.8 540.6,251.8 546.0,241.1 551.3,230.7 556.7,220.8 562.1,211.9 567.5,208.9 572.8,206.1 578.2,203.3 583.6,200.9 588.9,198.9 594.3,197.8 599.7,197.6 605.0,197.9 610.4,198.5 615.8,199.3 621.1,200.2 626.5,201.2 631.9,202.3 637.3,203.4 642.6,204.5 648.0,205.5" stroke="#F8766D"/>
<path d="M379.5,205.5 384.9,202.9 390.2,200.6 395.6,200.2 401.0,201.2 406.4,202.7 411.7,204.5 417.1,206.5 422.5,208.8 427.8,212.4 433.2,216.4 438.6,220.4 443.9,224.2 449.3,227.7 454.7,230.8 460.1,233.8 465.4,236.6 470.8,239.2 476.2,241.5 481.5,243.9 486.9,247.4 492.3,250.7 497.6,253.9 503.0,256.8 508.4,258.8 513.8,259.4 519.1,259.4 524.5,258.9 529.9,258.0 535.2,257.1 540.6,256.1 546.0,255.0 551.3,253.5 556.7,251.9 562.1,250.2 567.5,248.3 572.8,246.2 578.2,244.0 583.6,241.3 588.9,238.2 594.3,234.6 599.7,230.6 605.0,226.3 610.4,222.2 615.8,218.5 621.1,215.0 626.5,211.8 631.9,209.2 637.3,207.3 642.6,206.2 648.0,205.5" stroke="#00BFC4"/>
<path d="M379.5,205.5 384.9,205.2 390.2,206.1 395.6,209.8 401.0,215.6 406.4,222.1 411.7,228.9 417.1,236.0 422.5,243.1 427.8,250.2 433.2,257.0 438.6,263.4 443.9,269.1 449.3,273.6 454.7,276.8 460.1,278.6 465.4,279.4 470.8,279.2 476.2,278.5 481.5,277.5 486.9,276.0 492.3,274.3 497.6,272.3 503.0,269.6 508.4,267.2 513.8,265.0 519.1,263.2 524.5,262.0 529.9,261.3 535.2,260.6 540.6,259.8 546.0,258.8 551.3,257.7 556.7,256.4 562.1,254.8 567.5,253.0 572.8,250.8 578.2,248.2 583.6,245.2 588.9,242.1 594.3,238.5 599.7,234.9 605.0,231.5 610.4,228.6 615.8,225.8 621.1,222.7 626.5,219.1 631.9,215.5 637.3,212.2 642.6,209.0 648.0,205.5" stroke="#00BFC4"/>
<path d="M379.5,205.5 384.9,201.0 390.2,197.8 395.6,197.4 401.0,198.8 406.4,201.3 411.7,204.3 417.1,207.8 422.5,211.6 427.8,215.8 433.2,220.1 438.6,224.3 443.9,228.3 449.3,232.8 454.7,237.3 460.1,241.9 465.4,246.5 470.8,250.9 476.2,255.4 481.5,259.7 486.9,264.0 492.3,267.8 497.6,271.0 503.0,272.7 508.4,273.0 513.8,272.6 519.1,271.2 524.5,269.1 529.9,266.5 535.2,263.1 540.6,258.7 546.0,253.7 551.3,248.3 556.7,242.7 562.1,237.1 567.5,231.5 572.8,226.1 578.2,221.0 583.6,216.4 588.9,212.6 594.3,209.7 599.7,208.7 605.0,208.0 610.4,207.3 615.8,206.7 621.1,206.2 626.5,205.9 631.9,205.8 637.3,205.8 642.6,205.7 648.0,205.5" stroke="#00BFC4"/>
<path d="M379.5,205.5 384.9,202.7 390.2,200.8 395.6,201.7 401.0,204.7 406.4,209.2 411.7,214.3 417.1,219.4 422.5,224.3 427.8,228.9 433.2,233.2 438.6,237.2 443.9,240.8 449.3,243.9 454.7,246.8 460.1,249.5 465.4,252.4 470.8,255.7 476.2,259.5 481.5,263.9 486.9,268.8 492.3,273.8 497.6,278.3 503.0,281.7 508.4,282.9 513.8,282.4 519.1,280.5 524.5,277.0 529.9,272.4 535.2,267.0 540.6,261.3 546.0,256.0 551.3,251.4 556.7,247.6 562.1,244.7 567.5,242.6 572.8,241.0 578.2,239.7 583.6,238.7 588.9,237.6 594.3,236.2 599.7,234.2 605.0,231.5 610.4,228.1 615.8,224.3 621.1,220.3 626.5,216.7 631.9,213.3 637.3,210.3 642.6,207.8 648.0,205.5" stroke="#F8766D"/>
<path d="M379.5,205.5 384.9,204.0 390.2,202.2 395.6,201.5 401.0,202.4 406.4,204.5 411.7,207.8 417.1,211.9 422.5,216.6 427.8,221.6 433.2,226.9 438.6,232.4 443.9,238.0 449.3,243.7 454.7,249.4 460.1,255.2 465.4,260.6 470.8,265.5 476.2,269.5 481.5,272.7 486.9,274.9 492.3,276.6 497.6,277.8 503.0,278.9 508.4,280.0 513.8,281.2 519.1,282.2 524.5,282.6 529.9,281.6 535.2,280.1 540.6,278.2 546.0,275.8 551.3,273.2 556.7,270.0 562.1,266.5 567.5,262.6 572.8,258.1 578.2,252.9 583.6,247.1 588.9,240.9 594.3,234.7 599.7,228.9 605.0,224.0 610.4,219.9 615.8,216.5 621.1,213.7 626.5,211.4 631.9,209.6 637.3,208.3 642.6,206.9 648.0,205.5" stroke="#F8766D"/>
</g>
<line x1="364.60" x2="366.0" y1="205.50" y2="205.50" stroke="#333" stroke-width="0.5"/>
<line x1="364.60" x2="366.0" y1="245.40" y2="245.40" stroke="#333" stroke-width="0.5"/>
<line x1="364.60" x2="366.0" y1="285.30" y2="285.30" stroke="#333" stroke-width="0.5"/>
<line x1="364.60" x2="366.0" y1="325.20" y2="325.20" stroke="#333" stroke-width="0.5"/>
<line x1="379.50" x2="379.50" y1="341.3" y2="342.70" stroke="#333" stroke-width="0.5"/>
<line x1="446.62" x2="446.62" y1="341.3" y2="342.70" stroke="#333" stroke-width="0.5"/>
<line x1="513.75" x2="513.75" y1="341.3" y2="342.70" stroke="#333" stroke-width="0.5"/>
<line x1="580.88" x2="580.88" y1="341.3" y2="342.70" stroke="#333" stroke-width="0.5"/>
<line x1="648.00" x2="648.00" y1="341.3" y2="342.70" stroke="#333" stroke-width="0.5"/>
<rect x="668.30" y="256.50" width="8.6" height="16.0" fill="#F2F2F2"/>
<line x1="669.10" x2="676.10" y1="260.50" y2="260.50" stroke="#F8766D" stroke-width="0.9"/>
<line x1="669.10" x2="676.10" y1="268.50" y2="268.50" stroke="#00BFC4" stroke-width="0.9"/>
</g>
<g style="font-family:'Liberation Sans',sans-serif">
<text x="17.00" y="9.55" text-anchor="end" style="font-size:4.7px;fill:#4D4D4D">1.00</text>
<text x="17.00" y="45.60" text-anchor="end" style="font-size:4.7px;fill:#4D4D4D">0.98</text>
<text x="17.00" y="81.65" text-anchor="end" style="font-size:4.7px;fill:#4D4D4D">0.96</text>
<text x="17.00" y="117.70" text-anchor="end" style="font-size:4.7px;fill:#4D4D4D">0.94</text>
<text x="17.00" y="153.75" text-anchor="end" style="font-size:4.7px;fill:#4D4D4D">0.92</text>
<text x="33.30" y="167.60" text-anchor="middle" style="font-size:4.7px;fill:#4D4D4D">0</text>
<text x="100.52" y="167.60" text-anchor="middle" style="font-size:4.7px;fill:#4D4D4D">25</text>
<text x="167.75" y="167.60" text-anchor="middle" style="font-size:4.7px;fill:#4D4D4D">50</text>
<text x="234.98" y="167.60" text-anchor="middle" style="font-size:4.7px;fill:#4D4D4D">75</text>
<text x="302.20" y="167.60" text-anchor="middle" style="font-size:4.7px;fill:#4D4D4D">100</text>
<text x="167.20" y="174.20" text-anchor="middle" style="font-size:5.8px;fill:#000">time</text>
<g transform="translate(6.40,81.10) rotate(-90)"><text x="0.00" y="0.00" text-anchor="middle" style="font-size:5.8px;fill:#000">w</text></g>
<text x="323.00" y="74.10" style="font-size:5.8px;fill:#000">type</text>
<text x="334.20" y="82.40" style="font-size:4.7px;fill:#000">00</text>
<text x="334.20" y="90.40" style="font-size:4.7px;fill:#000">01</text>
<text x="2.00" y="6.20" style="font-size:7.1px;fill:#000;font-weight:bold">w</text>
<text x="360.90" y="11.65" text-anchor="end" style="font-size:4.7px;fill:#4D4D4D">0.0</text>
<text x="360.90" y="51.82" text-anchor="end" style="font-size:4.7px;fill:#4D4D4D">-0.1</text>
<text x="360.90" y="91.98" text-anchor="end" style="font-size:4.7px;fill:#4D4D4D">-0.2</text>
<text x="360.90" y="132.15" text-anchor="end" style="font-size:4.7px;fill:#4D4D4D">-0.3</text>
<text x="377.30" y="167.60" text-anchor="middle" style="font-size:4.7px;fill:#4D4D4D">0</text>
<text x="444.82" y="167.60" text-anchor="middle" style="font-size:4.7px;fill:#4D4D4D">25</text>
<text x="512.35" y="167.60" text-anchor="middle" style="font-size:4.7px;fill:#4D4D4D">50</text>
<text x="579.88" y="167.60" text-anchor="middle" style="font-size:4.7px;fill:#4D4D4D">75</text>
<text x="647.40" y="167.60" text-anchor="middle" style="font-size:4.7px;fill:#4D4D4D">100</text>
<text x="511.70" y="174.20" text-anchor="middle" style="font-size:5.8px;fill:#000">time</text>
<g transform="translate(351.90,81.10) rotate(-90)"><text x="0.00" y="0.00" text-anchor="middle" style="font-size:5.8px;fill:#000">x</text></g>
<text x="668.30" y="74.10" style="font-size:5.8px;fill:#000">type</text>
<text x="679.50" y="82.40" style="font-size:4.7px;fill:#000">00</text>
<text x="679.50" y="90.40" style="font-size:4.7px;fill:#000">01</text>
<text x="346.30" y="6.20" style="font-size:7.1px;fill:#000;font-weight:bold">x</text>
<text x="18.90" y="192.05" text-anchor="end" style="font-size:4.7px;fill:#4D4D4D">0.05</text>
<text x="18.90" y="238.22" text-anchor="end" style="font-size:4.7px;fill:#4D4D4D">0.00</text>
<text x="18.90" y="284.38" text-anchor="end" style="font-size:4.7px;fill:#4D4D4D">-0.05</text>
<text x="18.90" y="330.55" text-anchor="end" style="font-size:4.7px;fill:#4D4D4D">-0.10</text>
<text x="34.50" y="347.20" text-anchor="middle" style="font-size:4.7px;fill:#4D4D4D">0</text>
<text x="101.40" y="347.20" text-anchor="middle" style="font-size:4.7px;fill:#4D4D4D">25</text>
<text x="168.30" y="347.20" text-anchor="middle" style="font-size:4.7px;fill:#4D4D4D">50</text>
<text x="235.20" y="347.20" text-anchor="middle" style="font-size:4.7px;fill:#4D4D4D">75</text>
<text x="302.10" y="347.20" text-anchor="middle" style="font-size:4.7px;fill:#4D4D4D">100</text>
<text x="168.20" y="353.80" text-anchor="middle" style="font-size:5.8px;fill:#000">time</text>
<g transform="translate(6.80,260.60) rotate(-90)"><text x="0.00" y="0.00" text-anchor="middle" style="font-size:5.8px;fill:#000">y</text></g>
<text x="323.00" y="253.70" style="font-size:5.8px;fill:#000">type</text>
<text x="334.20" y="262.00" style="font-size:4.7px;fill:#000">00</text>
<text x="334.20" y="270.00" style="font-size:4.7px;fill:#000">01</text>
<text x="1.30" y="185.60" style="font-size:7.1px;fill:#000;font-weight:bold">y</text>
<text x="364.00" y="207.35" text-anchor="end" style="font-size:4.7px;fill:#4D4D4D">0.00</text>
<text x="364.00" y="247.25" text-anchor="end" style="font-size:4.7px;fill:#4D4D4D">-0.05</text>
<text x="364.00" y="287.15" text-anchor="end" style="font-size:4.7px;fill:#4D4D4D">-0.10</text>
<text x="364.00" y="327.05" text-anchor="end" style="font-size:4.7px;fill:#4D4D4D">-0.15</text>
<text x="379.50" y="347.20" text-anchor="middle" style="font-size:4.7px;fill:#4D4D4D">0</text>
<text x="446.62" y="347.20" text-anchor="middle" style="font-size:4.7px;fill:#4D4D4D">25</text>
<text x="513.75" y="347.20" text-anchor="middle" style="font-size:4.7px;fill:#4D4D4D">50</text>
<text x="580.88" y="347.20" text-anchor="middle" style="font-size:4.7px;fill:#4D4D4D">75</text>
<text x="648.00" y="347.20" text-anchor="middle" style="font-size:4.7px;fill:#4D4D4D">100</text>
<text x="513.45" y="353.80" text-anchor="middle" style="font-size:5.8px;fill:#000">time</text>
<g transform="translate(351.90,260.60) rotate(-90)"><text x="0.00" y="0.00" text-anchor="middle" style="font-size:5.8px;fill:#000">z</text></g>
<text x="668.30" y="253.80" style="font-size:5.8px;fill:#000">type</text>
<text x="679.50" y="262.10" style="font-size:4.7px;fill:#000">00</text>
<text x="679.50" y="270.10" style="font-size:4.7px;fill:#000">01</text>
<text x="346.30" y="185.60" style="font-size:7.1px;fill:#000;font-weight:bold">z</text>
</g>
</svg>
</body></html>
